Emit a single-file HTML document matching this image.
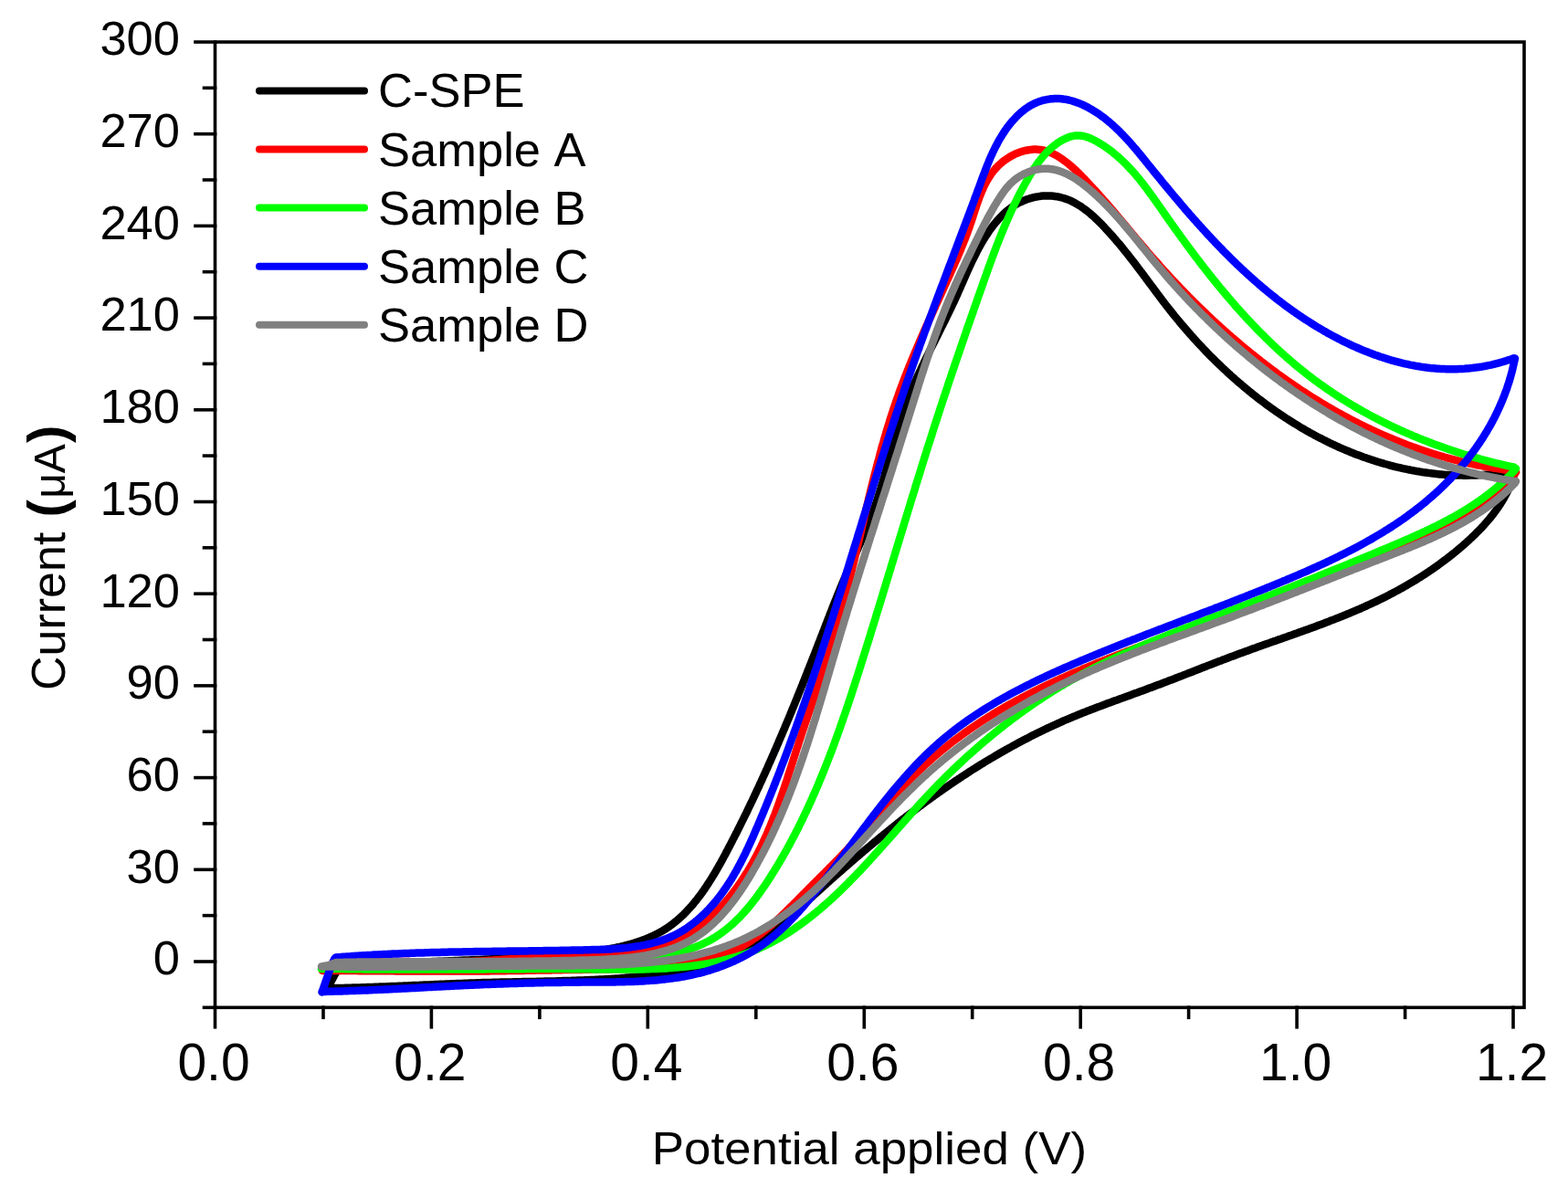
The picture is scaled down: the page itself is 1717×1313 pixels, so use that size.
<!DOCTYPE html><html><head><meta charset="utf-8"><title>Cyclic voltammetry</title><style>
html,body{margin:0;padding:0;background:#fff;}body{width:1717px;height:1313px;overflow:hidden;}
svg{display:block;} text{font-family:"Liberation Sans",Arial,sans-serif;fill:#000;font-kerning:none;}
</style></head><body>
<svg width="1717" height="1313" viewBox="0 0 1717 1313">
<rect width="1717" height="1313" fill="#fff"/>
<path d="M358.0 1082.5 L359.2 1080.7 L360.4 1078.8 L361.5 1076.9 L362.5 1074.9 L363.6 1072.9 L364.6 1071.0 L365.6 1069.0 L366.7 1067.1 L367.9 1065.2 L369.1 1063.4 L370.5 1061.6 L372.0 1060.0 L373.2 1059.7 L375.3 1059.5 L377.4 1059.3 L379.5 1059.1 L381.5 1058.9 L383.6 1058.7 L385.7 1058.6 L387.7 1058.4 L389.8 1058.2 L391.8 1058.0 L393.9 1057.9 L396.0 1057.7 L398.0 1057.6 L400.0 1057.4 L402.1 1057.3 L404.1 1057.1 L406.2 1057.0 L408.2 1056.8 L410.2 1056.7 L412.3 1056.5 L414.3 1056.4 L416.3 1056.3 L418.3 1056.1 L420.3 1056.0 L422.4 1055.9 L424.4 1055.7 L426.4 1055.6 L428.4 1055.5 L430.4 1055.4 L432.4 1055.3 L434.4 1055.1 L436.4 1055.0 L438.4 1054.9 L440.4 1054.8 L442.4 1054.7 L444.4 1054.6 L446.4 1054.5 L448.4 1054.4 L450.4 1054.3 L452.4 1054.2 L454.4 1054.1 L456.4 1054.0 L458.4 1053.9 L460.3 1053.8 L462.3 1053.7 L464.3 1053.6 L466.3 1053.5 L468.3 1053.4 L470.2 1053.3 L472.2 1053.2 L474.2 1053.1 L476.2 1053.0 L478.1 1052.9 L480.1 1052.8 L482.1 1052.8 L484.1 1052.7 L486.0 1052.6 L488.0 1052.5 L490.0 1052.4 L492.0 1052.3 L493.9 1052.2 L495.9 1052.2 L497.9 1052.1 L499.8 1052.0 L501.8 1051.9 L503.8 1051.8 L505.7 1051.7 L507.7 1051.6 L509.7 1051.6 L511.7 1051.5 L513.6 1051.4 L515.6 1051.3 L517.6 1051.2 L519.5 1051.1 L521.5 1051.0 L523.5 1050.9 L525.4 1050.9 L527.4 1050.8 L529.4 1050.7 L531.4 1050.6 L533.3 1050.5 L535.3 1050.4 L537.3 1050.3 L539.3 1050.2 L541.2 1050.1 L543.2 1050.0 L545.2 1049.9 L547.2 1049.8 L549.2 1049.7 L551.1 1049.6 L553.1 1049.5 L555.1 1049.4 L557.1 1049.3 L559.1 1049.2 L561.1 1049.1 L563.1 1049.0 L565.0 1048.9 L567.0 1048.8 L569.0 1048.6 L571.0 1048.5 L573.0 1048.4 L575.0 1048.3 L577.0 1048.2 L579.0 1048.0 L581.0 1047.9 L583.0 1047.8 L585.0 1047.6 L587.1 1047.5 L589.1 1047.4 L591.1 1047.2 L593.1 1047.1 L595.1 1046.9 L597.1 1046.8 L599.2 1046.7 L601.2 1046.5 L603.2 1046.3 L605.2 1046.2 L607.3 1046.0 L609.3 1045.9 L611.3 1045.7 L613.4 1045.5 L615.4 1045.4 L617.5 1045.2 L619.5 1045.0 L621.6 1044.8 L623.6 1044.6 L625.7 1044.5 L627.8 1044.3 L629.8 1044.1 L631.9 1043.9 L633.9 1043.7 L636.0 1043.4 L638.1 1043.2 L640.1 1043.0 L642.2 1042.8 L644.2 1042.5 L646.3 1042.3 L648.4 1042.0 L650.4 1041.7 L652.5 1041.5 L654.5 1041.2 L656.6 1040.9 L658.6 1040.6 L660.6 1040.2 L662.7 1039.9 L664.7 1039.6 L666.7 1039.2 L668.7 1038.8 L670.7 1038.5 L672.7 1038.1 L674.7 1037.7 L676.7 1037.2 L678.7 1036.8 L680.7 1036.3 L682.6 1035.9 L684.6 1035.4 L686.5 1034.9 L688.5 1034.4 L690.4 1033.8 L692.3 1033.3 L694.2 1032.7 L696.1 1032.1 L698.0 1031.5 L699.8 1030.9 L701.7 1030.2 L703.5 1029.6 L705.4 1028.9 L707.2 1028.2 L709.0 1027.4 L710.8 1026.7 L712.6 1025.9 L714.3 1025.1 L716.1 1024.3 L717.8 1023.4 L719.5 1022.6 L721.2 1021.7 L722.9 1020.8 L724.5 1019.8 L726.2 1018.8 L727.8 1017.8 L729.4 1016.8 L731.0 1015.8 L732.6 1014.7 L734.1 1013.6 L735.6 1012.5 L737.2 1011.3 L738.7 1010.1 L740.1 1008.9 L741.6 1007.7 L743.0 1006.5 L744.5 1005.2 L745.9 1003.9 L747.3 1002.6 L748.7 1001.3 L750.0 999.9 L751.4 998.5 L752.7 997.1 L754.0 995.7 L755.3 994.3 L756.6 992.8 L757.9 991.4 L759.2 989.9 L760.4 988.4 L761.7 986.8 L762.9 985.3 L764.1 983.7 L765.3 982.2 L766.5 980.6 L767.7 979.0 L768.9 977.4 L770.0 975.7 L771.2 974.1 L772.3 972.4 L773.4 970.8 L774.5 969.1 L775.6 967.4 L776.7 965.7 L777.8 964.0 L778.9 962.3 L779.9 960.6 L781.0 958.8 L782.1 957.1 L783.1 955.3 L784.1 953.6 L785.2 951.8 L786.2 950.0 L787.2 948.2 L788.2 946.5 L789.2 944.7 L790.2 942.9 L791.2 941.1 L792.1 939.3 L793.1 937.5 L794.1 935.7 L795.1 933.8 L796.0 932.0 L797.0 930.2 L797.9 928.4 L798.9 926.6 L799.8 924.8 L800.8 923.0 L801.7 921.1 L802.6 919.3 L803.6 917.5 L804.5 915.7 L805.4 913.9 L806.4 912.1 L807.3 910.3 L808.2 908.4 L809.1 906.6 L810.0 904.8 L810.9 903.0 L811.8 901.2 L812.7 899.4 L813.6 897.6 L814.5 895.7 L815.4 893.9 L816.3 892.1 L817.2 890.3 L818.1 888.5 L818.9 886.7 L819.8 884.9 L820.7 883.0 L821.6 881.2 L822.4 879.4 L823.3 877.6 L824.2 875.8 L825.0 874.0 L825.9 872.1 L826.7 870.3 L827.6 868.5 L828.4 866.7 L829.3 864.9 L830.1 863.1 L831.0 861.3 L831.8 859.4 L832.6 857.6 L833.5 855.8 L834.3 854.0 L835.1 852.2 L836.0 850.3 L836.8 848.5 L837.6 846.7 L838.4 844.9 L839.2 843.1 L840.1 841.3 L840.9 839.4 L841.7 837.6 L842.5 835.8 L843.3 834.0 L844.1 832.2 L844.9 830.3 L845.7 828.5 L846.5 826.7 L847.3 824.9 L848.1 823.0 L848.9 821.2 L849.7 819.4 L850.5 817.6 L851.3 815.7 L852.1 813.9 L852.8 812.1 L853.6 810.3 L854.4 808.4 L855.2 806.6 L856.0 804.8 L856.7 803.0 L857.5 801.1 L858.3 799.3 L859.1 797.5 L859.8 795.6 L860.6 793.8 L861.4 792.0 L862.1 790.2 L862.9 788.3 L863.7 786.5 L864.4 784.7 L865.2 782.8 L865.9 781.0 L866.7 779.2 L867.4 777.3 L868.2 775.5 L869.0 773.6 L869.7 771.8 L870.5 770.0 L871.2 768.1 L872.0 766.3 L872.7 764.4 L873.5 762.6 L874.2 760.8 L874.9 758.9 L875.7 757.1 L876.4 755.2 L877.2 753.4 L877.9 751.5 L878.7 749.7 L879.4 747.8 L880.1 746.0 L880.9 744.2 L881.6 742.3 L882.3 740.5 L883.1 738.6 L883.8 736.7 L884.5 734.9 L885.3 733.0 L886.0 731.2 L886.7 729.3 L887.5 727.5 L888.2 725.6 L888.9 723.8 L889.7 721.9 L890.4 720.0 L891.1 718.2 L891.9 716.3 L892.6 714.5 L893.3 712.6 L894.0 710.7 L894.8 708.9 L895.5 707.0 L896.2 705.1 L897.0 703.3 L897.7 701.4 L898.4 699.5 L899.1 697.6 L899.9 695.8 L900.6 693.9 L901.3 692.0 L902.1 690.1 L902.8 688.3 L903.5 686.4 L904.2 684.5 L905.0 682.6 L905.7 680.7 L906.4 678.9 L907.2 677.0 L907.9 675.1 L908.6 673.2 L909.3 671.3 L910.1 669.5 L910.8 667.6 L911.6 665.7 L912.3 663.8 L913.0 661.9 L913.8 660.1 L914.5 658.2 L915.3 656.3 L916.0 654.4 L916.8 652.6 L917.5 650.7 L918.3 648.8 L919.1 647.0 L919.8 645.1 L920.6 643.2 L921.4 641.4 L922.1 639.5 L922.9 637.7 L923.7 635.8 L924.5 634.0 L925.3 632.1 L926.1 630.3 L926.9 628.4 L927.7 626.6 L928.5 624.8 L929.3 623.0 L930.1 621.1 L930.9 619.3 L931.8 617.5 L932.6 615.7 L933.4 613.8 L934.2 612.0 L935.1 610.2 L935.9 608.4 L936.7 606.6 L937.5 604.8 L938.4 603.0 L939.2 601.2 L940.0 599.3 L940.8 597.5 L941.6 595.7 L942.4 593.9 L943.2 592.1 L944.0 590.3 L944.8 588.5 L945.6 586.6 L946.4 584.8 L947.2 583.0 L948.0 581.2 L948.7 579.3 L949.5 577.5 L950.3 575.7 L951.0 573.8 L951.7 572.0 L952.5 570.1 L953.2 568.3 L953.9 566.4 L954.6 564.6 L955.3 562.7 L956.0 560.8 L956.6 558.9 L957.3 557.1 L957.9 555.2 L958.6 553.3 L959.2 551.4 L959.9 549.5 L960.5 547.6 L961.1 545.7 L961.7 543.8 L962.3 541.9 L962.9 540.0 L963.5 538.1 L964.1 536.2 L964.7 534.3 L965.3 532.3 L965.8 530.4 L966.4 528.5 L967.0 526.6 L967.5 524.6 L968.1 522.7 L968.6 520.8 L969.2 518.8 L969.7 516.9 L970.3 515.0 L970.8 513.0 L971.4 511.1 L971.9 509.2 L972.5 507.2 L973.0 505.3 L973.6 503.4 L974.1 501.4 L974.6 499.5 L975.2 497.5 L975.7 495.6 L976.3 493.7 L976.8 491.7 L977.4 489.8 L977.9 487.9 L978.5 485.9 L979.0 484.0 L979.6 482.1 L980.2 480.1 L980.7 478.2 L981.3 476.3 L981.9 474.4 L982.4 472.4 L983.0 470.5 L983.6 468.6 L984.2 466.7 L984.8 464.8 L985.4 462.8 L986.0 460.9 L986.6 459.0 L987.2 457.1 L987.9 455.2 L988.5 453.3 L989.1 451.4 L989.8 449.5 L990.5 447.7 L991.1 445.8 L991.8 443.9 L992.5 442.0 L993.2 440.1 L993.9 438.3 L994.6 436.4 L995.3 434.5 L996.1 432.7 L996.8 430.8 L997.5 429.0 L998.3 427.2 L999.1 425.3 L999.8 423.5 L1000.6 421.6 L1001.4 419.8 L1002.2 418.0 L1003.0 416.2 L1003.8 414.3 L1004.6 412.5 L1005.5 410.7 L1006.3 408.9 L1007.1 407.1 L1008.0 405.3 L1008.8 403.5 L1009.6 401.7 L1010.5 399.9 L1011.4 398.1 L1012.2 396.3 L1013.1 394.5 L1014.0 392.7 L1014.8 390.9 L1015.7 389.1 L1016.6 387.3 L1017.5 385.5 L1018.3 383.7 L1019.2 381.9 L1020.1 380.1 L1021.0 378.4 L1021.9 376.6 L1022.8 374.8 L1023.7 373.0 L1024.6 371.2 L1025.5 369.4 L1026.4 367.7 L1027.3 365.9 L1028.2 364.1 L1029.0 362.3 L1029.9 360.5 L1030.8 358.7 L1031.7 356.9 L1032.6 355.2 L1033.5 353.4 L1034.4 351.6 L1035.3 349.8 L1036.1 348.0 L1037.0 346.2 L1037.9 344.4 L1038.8 342.6 L1039.6 340.8 L1040.5 339.0 L1041.4 337.2 L1042.2 335.4 L1043.1 333.6 L1043.9 331.8 L1044.8 330.0 L1045.6 328.2 L1046.4 326.4 L1047.2 324.6 L1048.1 322.8 L1048.9 320.9 L1049.7 319.1 L1050.5 317.3 L1051.3 315.5 L1052.1 313.6 L1052.9 311.8 L1053.7 310.0 L1054.5 308.2 L1055.3 306.3 L1056.1 304.5 L1056.9 302.7 L1057.7 300.8 L1058.5 299.0 L1059.3 297.2 L1060.2 295.3 L1061.0 293.5 L1061.8 291.7 L1062.7 289.9 L1063.5 288.0 L1064.4 286.2 L1065.3 284.4 L1066.2 282.6 L1067.1 280.8 L1068.0 279.0 L1068.9 277.1 L1069.8 275.3 L1070.8 273.5 L1071.7 271.7 L1072.7 270.0 L1073.7 268.2 L1074.7 266.4 L1075.8 264.6 L1076.8 262.8 L1077.9 261.1 L1079.0 259.3 L1080.1 257.6 L1081.3 255.8 L1082.4 254.1 L1083.6 252.4 L1084.8 250.7 L1086.0 249.1 L1087.3 247.4 L1088.5 245.8 L1089.8 244.2 L1091.2 242.6 L1092.5 241.1 L1093.9 239.5 L1095.2 238.0 L1096.7 236.6 L1098.1 235.2 L1099.5 233.8 L1101.0 232.4 L1102.6 231.1 L1104.1 229.9 L1105.7 228.6 L1107.3 227.4 L1108.9 226.3 L1110.5 225.2 L1112.2 224.2 L1113.9 223.2 L1115.6 222.2 L1117.4 221.3 L1119.2 220.5 L1121.0 219.7 L1122.8 219.0 L1124.6 218.3 L1126.5 217.7 L1128.4 217.1 L1130.2 216.6 L1132.1 216.1 L1134.1 215.7 L1136.0 215.4 L1137.9 215.1 L1139.8 214.8 L1141.8 214.6 L1143.7 214.5 L1145.6 214.4 L1147.6 214.4 L1149.5 214.5 L1151.4 214.6 L1153.4 214.7 L1155.3 215.0 L1157.2 215.2 L1159.1 215.6 L1161.0 216.0 L1162.8 216.5 L1164.7 217.0 L1166.5 217.6 L1168.3 218.2 L1170.1 218.9 L1171.9 219.7 L1173.7 220.5 L1175.4 221.4 L1177.2 222.3 L1178.9 223.3 L1180.6 224.3 L1182.3 225.3 L1184.0 226.4 L1185.6 227.6 L1187.3 228.8 L1188.9 230.0 L1190.5 231.2 L1192.1 232.5 L1193.7 233.8 L1195.3 235.2 L1196.8 236.5 L1198.4 237.9 L1199.9 239.4 L1201.4 240.8 L1202.9 242.3 L1204.4 243.7 L1205.9 245.2 L1207.3 246.7 L1208.8 248.2 L1210.2 249.8 L1211.6 251.3 L1213.0 252.8 L1214.4 254.4 L1215.8 255.9 L1217.2 257.5 L1218.6 259.0 L1219.9 260.6 L1221.3 262.1 L1222.6 263.7 L1223.9 265.2 L1225.3 266.8 L1226.6 268.4 L1227.9 269.9 L1229.2 271.5 L1230.4 273.1 L1231.7 274.7 L1233.0 276.2 L1234.2 277.8 L1235.5 279.4 L1236.7 281.0 L1238.0 282.6 L1239.2 284.2 L1240.4 285.7 L1241.7 287.3 L1242.9 288.9 L1244.1 290.5 L1245.3 292.1 L1246.5 293.7 L1247.7 295.3 L1248.9 296.9 L1250.1 298.4 L1251.3 300.0 L1252.5 301.6 L1253.7 303.2 L1254.8 304.8 L1256.0 306.4 L1257.2 308.0 L1258.4 309.6 L1259.6 311.2 L1260.8 312.8 L1261.9 314.3 L1263.1 315.9 L1264.3 317.5 L1265.5 319.1 L1266.7 320.7 L1267.8 322.2 L1269.0 323.8 L1270.2 325.4 L1271.4 327.0 L1272.6 328.6 L1273.8 330.1 L1275.0 331.7 L1276.2 333.3 L1277.4 334.8 L1278.6 336.4 L1279.8 337.9 L1281.1 339.5 L1282.3 341.0 L1283.5 342.6 L1284.8 344.1 L1286.0 345.7 L1287.3 347.2 L1288.5 348.8 L1289.8 350.3 L1291.1 351.8 L1292.3 353.4 L1293.6 354.9 L1294.9 356.4 L1296.2 357.9 L1297.5 359.4 L1298.8 360.9 L1300.1 362.4 L1301.4 363.9 L1302.7 365.4 L1304.0 366.9 L1305.4 368.4 L1306.7 369.9 L1308.0 371.4 L1309.4 372.9 L1310.7 374.3 L1312.1 375.8 L1313.5 377.3 L1314.8 378.7 L1316.2 380.2 L1317.6 381.7 L1319.0 383.1 L1320.3 384.5 L1321.7 386.0 L1323.1 387.4 L1324.5 388.9 L1325.9 390.3 L1327.4 391.7 L1328.8 393.1 L1330.2 394.5 L1331.6 395.9 L1333.1 397.3 L1334.5 398.7 L1336.0 400.1 L1337.4 401.5 L1338.9 402.9 L1340.3 404.3 L1341.8 405.6 L1343.3 407.0 L1344.7 408.4 L1346.2 409.7 L1347.7 411.1 L1349.2 412.4 L1350.7 413.7 L1352.2 415.1 L1353.7 416.4 L1355.2 417.7 L1356.7 419.0 L1358.3 420.3 L1359.8 421.6 L1361.3 422.9 L1362.9 424.2 L1364.4 425.5 L1366.0 426.8 L1367.5 428.1 L1369.1 429.3 L1370.6 430.6 L1372.2 431.9 L1373.8 433.1 L1375.3 434.3 L1376.9 435.6 L1378.5 436.8 L1380.1 438.0 L1381.7 439.2 L1383.3 440.4 L1384.9 441.6 L1386.5 442.8 L1388.1 444.0 L1389.8 445.2 L1391.4 446.4 L1393.0 447.5 L1394.7 448.7 L1396.3 449.9 L1397.9 451.0 L1399.6 452.1 L1401.3 453.3 L1402.9 454.4 L1404.6 455.5 L1406.2 456.6 L1407.9 457.7 L1409.6 458.8 L1411.3 459.9 L1413.0 461.0 L1414.7 462.0 L1416.4 463.1 L1418.1 464.2 L1419.8 465.2 L1421.5 466.2 L1423.2 467.3 L1424.9 468.3 L1426.6 469.3 L1428.4 470.3 L1430.1 471.3 L1431.8 472.3 L1433.6 473.3 L1435.3 474.3 L1437.1 475.2 L1438.8 476.2 L1440.6 477.1 L1442.4 478.1 L1444.1 479.0 L1445.9 479.9 L1447.7 480.8 L1449.5 481.7 L1451.3 482.6 L1453.0 483.5 L1454.8 484.4 L1456.6 485.3 L1458.4 486.1 L1460.3 487.0 L1462.1 487.8 L1463.9 488.7 L1465.7 489.5 L1467.5 490.3 L1469.4 491.1 L1471.2 491.9 L1473.0 492.7 L1474.9 493.4 L1476.7 494.2 L1478.6 495.0 L1480.4 495.7 L1482.3 496.5 L1484.1 497.2 L1486.0 497.9 L1487.9 498.6 L1489.8 499.3 L1491.6 500.0 L1493.5 500.7 L1495.4 501.3 L1497.3 502.0 L1499.2 502.6 L1501.1 503.3 L1503.0 503.9 L1504.9 504.5 L1506.8 505.1 L1508.7 505.7 L1510.6 506.3 L1512.5 506.9 L1514.4 507.4 L1516.3 508.0 L1518.2 508.5 L1520.2 509.0 L1522.1 509.6 L1524.0 510.1 L1525.9 510.6 L1527.9 511.1 L1529.8 511.5 L1531.8 512.0 L1533.7 512.4 L1535.6 512.9 L1537.6 513.3 L1539.5 513.7 L1541.5 514.1 L1543.4 514.5 L1545.4 514.9 L1547.4 515.3 L1549.3 515.6 L1551.3 516.0 L1553.2 516.3 L1555.2 516.6 L1557.2 517.0 L1559.2 517.3 L1561.1 517.5 L1563.1 517.8 L1565.1 518.1 L1567.1 518.3 L1569.0 518.6 L1571.0 518.8 L1573.0 519.0 L1575.0 519.2 L1577.0 519.4 L1579.0 519.6 L1581.0 519.7 L1583.0 519.9 L1584.9 520.0 L1586.9 520.1 L1588.9 520.3 L1590.9 520.3 L1592.9 520.4 L1594.9 520.5 L1596.9 520.6 L1598.9 520.6 L1600.9 520.6 L1602.9 520.7 L1604.9 520.7 L1606.9 520.7 L1609.0 520.6 L1611.0 520.6 L1613.0 520.6 L1615.0 520.5 L1617.0 520.4 L1619.0 520.3 L1621.0 520.2 L1623.0 520.1 L1625.0 520.0 L1627.0 519.8 L1629.1 519.7 L1631.1 519.5 L1633.1 519.3 L1635.1 519.1 L1637.1 518.9 L1639.1 518.7 L1641.1 518.4 L1643.1 518.2 L1645.2 517.9 L1647.2 517.6 L1649.2 517.3 L1651.2 517.0 L1653.2 516.7 L1655.2 516.3 L1657.2 516.0 L1659.0 516.2 L1658.5 518.2 L1657.9 520.1 L1657.3 522.1 L1656.6 524.0 L1656.0 525.9 L1655.3 527.7 L1654.5 529.6 L1653.8 531.4 L1653.0 533.3 L1652.2 535.1 L1651.3 536.9 L1650.5 538.6 L1649.6 540.4 L1648.7 542.1 L1647.7 543.9 L1646.8 545.6 L1645.8 547.3 L1644.8 548.9 L1643.7 550.6 L1642.7 552.3 L1641.6 553.9 L1640.5 555.5 L1639.4 557.1 L1638.3 558.7 L1637.1 560.3 L1635.9 561.9 L1634.8 563.4 L1633.5 565.0 L1632.3 566.5 L1631.1 568.0 L1629.8 569.5 L1628.5 571.0 L1627.2 572.5 L1625.9 574.0 L1624.6 575.5 L1623.2 576.9 L1621.9 578.4 L1620.5 579.8 L1619.1 581.2 L1617.7 582.6 L1616.3 584.0 L1614.9 585.4 L1613.5 586.8 L1612.0 588.2 L1610.6 589.6 L1609.1 590.9 L1607.7 592.3 L1606.2 593.6 L1604.7 595.0 L1603.2 596.3 L1601.7 597.6 L1600.2 598.9 L1598.6 600.2 L1597.1 601.5 L1595.6 602.8 L1594.0 604.1 L1592.5 605.4 L1590.9 606.6 L1589.3 607.9 L1587.7 609.1 L1586.1 610.4 L1584.6 611.6 L1582.9 612.8 L1581.3 614.0 L1579.7 615.2 L1578.1 616.4 L1576.5 617.6 L1574.8 618.8 L1573.2 620.0 L1571.5 621.1 L1569.9 622.3 L1568.2 623.5 L1566.5 624.6 L1564.9 625.7 L1563.2 626.9 L1561.5 628.0 L1559.8 629.1 L1558.1 630.2 L1556.4 631.3 L1554.7 632.4 L1553.0 633.4 L1551.3 634.5 L1549.5 635.6 L1547.8 636.6 L1546.1 637.6 L1544.3 638.7 L1542.6 639.7 L1540.9 640.7 L1539.1 641.7 L1537.4 642.7 L1535.6 643.7 L1533.8 644.7 L1532.1 645.7 L1530.3 646.6 L1528.5 647.6 L1526.8 648.5 L1525.0 649.5 L1523.2 650.4 L1521.4 651.3 L1519.7 652.3 L1517.9 653.2 L1516.1 654.1 L1514.3 655.0 L1512.5 655.8 L1510.7 656.7 L1508.9 657.6 L1507.1 658.5 L1505.3 659.3 L1503.5 660.2 L1501.7 661.0 L1499.8 661.9 L1498.0 662.7 L1496.2 663.5 L1494.4 664.3 L1492.6 665.1 L1490.7 666.0 L1488.9 666.8 L1487.1 667.6 L1485.2 668.3 L1483.4 669.1 L1481.6 669.9 L1479.7 670.7 L1477.9 671.5 L1476.0 672.2 L1474.2 673.0 L1472.4 673.7 L1470.5 674.5 L1468.7 675.2 L1466.8 676.0 L1464.9 676.7 L1463.1 677.4 L1461.2 678.2 L1459.4 678.9 L1457.5 679.6 L1455.7 680.3 L1453.8 681.1 L1451.9 681.8 L1450.1 682.5 L1448.2 683.2 L1446.3 683.9 L1444.4 684.6 L1442.6 685.3 L1440.7 686.0 L1438.8 686.7 L1437.0 687.4 L1435.1 688.0 L1433.2 688.7 L1431.3 689.4 L1429.4 690.1 L1427.6 690.8 L1425.7 691.4 L1423.8 692.1 L1421.9 692.8 L1420.0 693.5 L1418.2 694.1 L1416.3 694.8 L1414.4 695.5 L1412.5 696.1 L1410.6 696.8 L1408.7 697.5 L1406.8 698.1 L1405.0 698.8 L1403.1 699.5 L1401.2 700.1 L1399.3 700.8 L1397.4 701.5 L1395.5 702.1 L1393.6 702.8 L1391.7 703.4 L1389.9 704.1 L1388.0 704.8 L1386.1 705.4 L1384.2 706.1 L1382.3 706.8 L1380.4 707.4 L1378.5 708.1 L1376.7 708.8 L1374.8 709.5 L1372.9 710.1 L1371.0 710.8 L1369.1 711.5 L1367.2 712.2 L1365.3 712.9 L1363.5 713.5 L1361.6 714.2 L1359.7 714.9 L1357.8 715.6 L1355.9 716.3 L1354.0 717.0 L1352.2 717.7 L1350.3 718.4 L1348.4 719.1 L1346.5 719.8 L1344.7 720.5 L1342.8 721.2 L1340.9 721.9 L1339.0 722.6 L1337.2 723.4 L1335.3 724.1 L1333.4 724.8 L1331.5 725.5 L1329.7 726.2 L1327.8 727.0 L1325.9 727.7 L1324.1 728.4 L1322.2 729.1 L1320.3 729.9 L1318.4 730.6 L1316.6 731.3 L1314.7 732.0 L1312.8 732.8 L1311.0 733.5 L1309.1 734.2 L1307.2 735.0 L1305.4 735.7 L1303.5 736.4 L1301.6 737.1 L1299.7 737.9 L1297.9 738.6 L1296.0 739.3 L1294.1 740.1 L1292.3 740.8 L1290.4 741.5 L1288.5 742.2 L1286.7 743.0 L1284.8 743.7 L1282.9 744.4 L1281.0 745.1 L1279.2 745.8 L1277.3 746.6 L1275.4 747.3 L1273.5 748.0 L1271.7 748.7 L1269.8 749.4 L1267.9 750.1 L1266.0 750.8 L1264.2 751.5 L1262.3 752.2 L1260.4 752.9 L1258.5 753.6 L1256.7 754.3 L1254.8 755.0 L1252.9 755.7 L1251.0 756.4 L1249.1 757.1 L1247.3 757.8 L1245.4 758.5 L1243.5 759.1 L1241.6 759.8 L1239.7 760.5 L1237.9 761.2 L1236.0 761.9 L1234.1 762.6 L1232.2 763.2 L1230.3 763.9 L1228.5 764.6 L1226.6 765.3 L1224.7 766.0 L1222.8 766.7 L1220.9 767.3 L1219.1 768.0 L1217.2 768.7 L1215.3 769.4 L1213.4 770.1 L1211.6 770.8 L1209.7 771.5 L1207.8 772.2 L1205.9 772.9 L1204.1 773.6 L1202.2 774.3 L1200.3 775.0 L1198.5 775.7 L1196.6 776.4 L1194.7 777.1 L1192.9 777.9 L1191.0 778.6 L1189.2 779.3 L1187.3 780.1 L1185.4 780.8 L1183.6 781.5 L1181.7 782.3 L1179.9 783.0 L1178.0 783.8 L1176.2 784.6 L1174.3 785.3 L1172.5 786.1 L1170.7 786.9 L1168.8 787.7 L1167.0 788.4 L1165.1 789.2 L1163.3 790.0 L1161.5 790.8 L1159.7 791.7 L1157.8 792.5 L1156.0 793.3 L1154.2 794.1 L1152.4 795.0 L1150.5 795.8 L1148.7 796.7 L1146.9 797.5 L1145.1 798.4 L1143.3 799.2 L1141.5 800.1 L1139.7 801.0 L1137.9 801.9 L1136.1 802.7 L1134.3 803.6 L1132.5 804.5 L1130.7 805.4 L1128.9 806.3 L1127.2 807.2 L1125.4 808.2 L1123.6 809.1 L1121.8 810.0 L1120.0 810.9 L1118.3 811.9 L1116.5 812.8 L1114.7 813.8 L1113.0 814.7 L1111.2 815.7 L1109.4 816.6 L1107.7 817.6 L1105.9 818.6 L1104.2 819.6 L1102.4 820.5 L1100.7 821.5 L1098.9 822.5 L1097.2 823.5 L1095.4 824.5 L1093.7 825.5 L1092.0 826.5 L1090.2 827.5 L1088.5 828.6 L1086.8 829.6 L1085.0 830.6 L1083.3 831.6 L1081.6 832.7 L1079.9 833.7 L1078.2 834.7 L1076.4 835.8 L1074.7 836.8 L1073.0 837.9 L1071.3 839.0 L1069.6 840.0 L1067.9 841.1 L1066.2 842.2 L1064.5 843.2 L1062.8 844.3 L1061.1 845.4 L1059.5 846.5 L1057.8 847.6 L1056.1 848.7 L1054.4 849.8 L1052.7 850.9 L1051.1 852.0 L1049.4 853.1 L1047.7 854.2 L1046.1 855.3 L1044.4 856.5 L1042.7 857.6 L1041.1 858.7 L1039.4 859.8 L1037.8 861.0 L1036.1 862.1 L1034.5 863.3 L1032.8 864.4 L1031.2 865.6 L1029.6 866.7 L1027.9 867.9 L1026.3 869.0 L1024.7 870.2 L1023.0 871.3 L1021.4 872.5 L1019.8 873.7 L1018.2 874.9 L1016.6 876.0 L1014.9 877.2 L1013.3 878.4 L1011.7 879.6 L1010.1 880.8 L1008.5 882.0 L1006.9 883.2 L1005.3 884.4 L1003.7 885.6 L1002.1 886.8 L1000.5 888.0 L999.0 889.2 L997.4 890.4 L995.8 891.6 L994.2 892.8 L992.6 894.0 L991.1 895.3 L989.5 896.5 L987.9 897.7 L986.3 898.9 L984.8 900.2 L983.2 901.4 L981.6 902.7 L980.1 903.9 L978.5 905.1 L977.0 906.4 L975.4 907.6 L973.9 908.9 L972.3 910.1 L970.8 911.4 L969.2 912.7 L967.7 913.9 L966.1 915.2 L964.6 916.4 L963.0 917.7 L961.5 919.0 L960.0 920.3 L958.4 921.5 L956.9 922.8 L955.4 924.1 L953.8 925.4 L952.3 926.7 L950.8 927.9 L949.2 929.2 L947.7 930.5 L946.2 931.8 L944.7 933.1 L943.1 934.4 L941.6 935.7 L940.1 937.0 L938.6 938.3 L937.1 939.6 L935.6 940.9 L934.0 942.2 L932.5 943.5 L931.0 944.8 L929.5 946.2 L928.0 947.5 L926.5 948.8 L925.0 950.1 L923.5 951.4 L922.0 952.8 L920.5 954.1 L918.9 955.4 L917.4 956.7 L915.9 958.1 L914.4 959.4 L912.9 960.7 L911.4 962.1 L909.9 963.4 L908.4 964.7 L906.9 966.1 L905.4 967.4 L903.9 968.8 L902.4 970.1 L900.9 971.5 L899.4 972.8 L897.9 974.2 L896.4 975.5 L894.9 976.9 L893.4 978.2 L891.9 979.6 L890.4 980.9 L888.9 982.3 L887.4 983.6 L885.9 985.0 L884.5 986.4 L883.0 987.7 L881.5 989.1 L880.0 990.4 L878.5 991.8 L877.0 993.2 L875.5 994.5 L874.0 995.9 L872.5 997.2 L871.0 998.6 L869.4 999.9 L867.9 1001.3 L866.4 1002.6 L864.9 1004.0 L863.4 1005.3 L861.9 1006.6 L860.3 1007.9 L858.8 1009.3 L857.3 1010.6 L855.7 1011.9 L854.2 1013.2 L852.7 1014.4 L851.1 1015.7 L849.6 1017.0 L848.0 1018.2 L846.4 1019.5 L844.9 1020.7 L843.3 1021.9 L841.7 1023.1 L840.1 1024.3 L838.5 1025.5 L836.9 1026.7 L835.3 1027.9 L833.7 1029.0 L832.1 1030.1 L830.5 1031.2 L828.8 1032.3 L827.2 1033.4 L825.5 1034.5 L823.9 1035.5 L822.2 1036.6 L820.5 1037.6 L818.9 1038.6 L817.2 1039.6 L815.5 1040.5 L813.7 1041.5 L812.0 1042.4 L810.3 1043.3 L808.5 1044.2 L806.8 1045.0 L805.0 1045.9 L803.3 1046.7 L801.5 1047.5 L799.7 1048.3 L797.9 1049.0 L796.1 1049.8 L794.3 1050.5 L792.4 1051.2 L790.6 1051.9 L788.8 1052.5 L786.9 1053.2 L785.0 1053.8 L783.2 1054.4 L781.3 1055.0 L779.4 1055.6 L777.5 1056.2 L775.7 1056.7 L773.8 1057.3 L771.8 1057.8 L769.9 1058.3 L768.0 1058.8 L766.1 1059.3 L764.2 1059.8 L762.2 1060.2 L760.3 1060.7 L758.4 1061.1 L756.4 1061.5 L754.5 1061.9 L752.5 1062.3 L750.5 1062.7 L748.6 1063.1 L746.6 1063.4 L744.6 1063.8 L742.7 1064.1 L740.7 1064.4 L738.7 1064.8 L736.7 1065.1 L734.7 1065.4 L732.7 1065.7 L730.7 1065.9 L728.8 1066.2 L726.8 1066.5 L724.8 1066.8 L722.8 1067.0 L720.8 1067.3 L718.8 1067.5 L716.8 1067.7 L714.8 1068.0 L712.8 1068.2 L710.8 1068.4 L708.8 1068.6 L706.8 1068.8 L704.8 1069.0 L702.7 1069.2 L700.7 1069.4 L698.7 1069.6 L696.7 1069.8 L694.7 1070.0 L692.7 1070.2 L690.7 1070.3 L688.7 1070.5 L686.7 1070.6 L684.7 1070.8 L682.7 1071.0 L680.7 1071.1 L678.7 1071.3 L676.7 1071.4 L674.7 1071.5 L672.7 1071.7 L670.7 1071.8 L668.7 1071.9 L666.7 1072.0 L664.7 1072.2 L662.6 1072.3 L660.6 1072.4 L658.6 1072.5 L656.6 1072.6 L654.6 1072.7 L652.6 1072.8 L650.6 1072.9 L648.6 1073.0 L646.6 1073.1 L644.6 1073.2 L642.6 1073.3 L640.6 1073.3 L638.6 1073.4 L636.5 1073.5 L634.5 1073.6 L632.5 1073.6 L630.5 1073.7 L628.5 1073.8 L626.5 1073.8 L624.5 1073.9 L622.5 1074.0 L620.5 1074.0 L618.5 1074.1 L616.5 1074.1 L614.5 1074.2 L612.4 1074.3 L610.4 1074.3 L608.4 1074.4 L606.4 1074.4 L604.4 1074.5 L602.4 1074.5 L600.4 1074.6 L598.4 1074.6 L596.4 1074.6 L594.4 1074.7 L592.4 1074.7 L590.4 1074.8 L588.3 1074.8 L586.3 1074.9 L584.3 1074.9 L582.3 1074.9 L580.3 1075.0 L578.3 1075.0 L576.3 1075.1 L574.3 1075.1 L572.3 1075.1 L570.3 1075.2 L568.3 1075.2 L566.3 1075.2 L564.3 1075.3 L562.3 1075.3 L560.2 1075.4 L558.2 1075.4 L556.2 1075.5 L554.2 1075.5 L552.2 1075.5 L550.2 1075.6 L548.2 1075.6 L546.2 1075.7 L544.2 1075.7 L542.2 1075.8 L540.2 1075.8 L538.2 1075.9 L536.2 1075.9 L534.2 1076.0 L532.2 1076.0 L530.2 1076.1 L528.2 1076.1 L526.2 1076.2 L524.2 1076.3 L522.2 1076.3 L520.2 1076.4 L518.2 1076.5 L516.2 1076.5 L514.2 1076.6 L512.2 1076.7 L510.2 1076.7 L508.2 1076.8 L506.2 1076.9 L504.2 1077.0 L502.2 1077.0 L500.2 1077.1 L498.2 1077.2 L496.2 1077.3 L494.2 1077.3 L492.2 1077.4 L490.2 1077.5 L488.2 1077.6 L486.2 1077.7 L484.2 1077.8 L482.2 1077.8 L480.2 1077.9 L478.2 1078.0 L476.2 1078.1 L474.2 1078.2 L472.2 1078.3 L470.2 1078.4 L468.2 1078.4 L466.2 1078.5 L464.2 1078.6 L462.2 1078.7 L460.2 1078.8 L458.2 1078.9 L456.2 1079.0 L454.2 1079.0 L452.2 1079.1 L450.2 1079.2 L448.2 1079.3 L446.2 1079.4 L444.2 1079.5 L442.2 1079.6 L440.2 1079.7 L438.2 1079.7 L436.2 1079.8 L434.2 1079.9 L432.2 1080.0 L430.2 1080.1 L428.2 1080.1 L426.2 1080.2 L424.2 1080.3 L422.2 1080.4 L420.2 1080.5 L418.2 1080.5 L416.2 1080.6 L414.2 1080.7 L412.2 1080.8 L410.2 1080.8 L408.2 1080.9 L406.2 1081.0 L404.1 1081.1 L402.1 1081.1 L400.1 1081.2 L398.1 1081.3 L396.1 1081.3 L394.1 1081.4 L392.1 1081.4 L390.1 1081.5 L388.1 1081.6 L386.1 1081.6 L384.1 1081.7 L382.1 1081.7 L380.1 1081.8 L378.0 1081.8 L376.0 1081.9 L374.0 1081.9 L372.0 1082.0 L370.0 1082.0 L368.0 1082.0 L366.0 1082.1 L364.0 1082.1 L361.9 1082.1 L359.9 1082.2 L358.0 1082.5" fill="none" stroke="#000" stroke-width="8.5" stroke-linejoin="round" stroke-linecap="round"/>
<path d="M353.0 1063.0 L354.8 1061.4 L356.6 1060.9 L358.5 1060.3 L360.3 1059.8 L362.2 1059.3 L364.1 1058.8 L366.0 1058.4 L367.9 1058.0 L369.8 1057.6 L371.7 1057.2 L373.6 1056.8 L375.6 1056.5 L377.5 1056.2 L379.4 1055.8 L381.4 1055.6 L383.3 1055.3 L385.3 1055.0 L387.2 1054.8 L389.2 1054.6 L391.2 1054.4 L393.2 1054.2 L395.1 1054.0 L397.1 1053.8 L399.1 1053.7 L401.1 1053.6 L403.1 1053.4 L405.1 1053.3 L407.1 1053.2 L409.1 1053.2 L411.1 1053.1 L413.2 1053.0 L415.2 1053.0 L417.2 1052.9 L419.2 1052.9 L421.2 1052.9 L423.3 1052.9 L425.3 1052.8 L427.3 1052.8 L429.4 1052.8 L431.4 1052.9 L433.4 1052.9 L435.5 1052.9 L437.5 1052.9 L439.6 1053.0 L441.6 1053.0 L443.6 1053.0 L445.7 1053.1 L447.7 1053.1 L449.8 1053.2 L451.8 1053.2 L453.8 1053.2 L455.9 1053.3 L457.9 1053.3 L460.0 1053.4 L462.0 1053.4 L464.0 1053.5 L466.1 1053.5 L468.1 1053.5 L470.1 1053.6 L472.1 1053.6 L474.2 1053.6 L476.2 1053.7 L478.2 1053.7 L480.2 1053.7 L482.2 1053.7 L484.2 1053.7 L486.2 1053.7 L488.2 1053.7 L490.2 1053.7 L492.2 1053.6 L494.2 1053.6 L496.2 1053.6 L498.2 1053.5 L500.2 1053.5 L502.2 1053.4 L504.1 1053.4 L506.1 1053.3 L508.1 1053.2 L510.1 1053.1 L512.0 1053.1 L514.0 1053.0 L516.0 1052.9 L517.9 1052.8 L519.9 1052.7 L521.8 1052.6 L523.8 1052.5 L525.8 1052.4 L527.7 1052.3 L529.7 1052.2 L531.6 1052.1 L533.6 1051.9 L535.6 1051.8 L537.5 1051.7 L539.5 1051.6 L541.4 1051.4 L543.4 1051.3 L545.3 1051.2 L547.3 1051.1 L549.2 1050.9 L551.2 1050.8 L553.2 1050.7 L555.1 1050.5 L557.1 1050.4 L559.0 1050.2 L561.0 1050.1 L563.0 1050.0 L564.9 1049.8 L566.9 1049.7 L568.9 1049.6 L570.8 1049.4 L572.8 1049.3 L574.8 1049.2 L576.8 1049.0 L578.7 1048.9 L580.7 1048.8 L582.7 1048.7 L584.7 1048.5 L586.7 1048.4 L588.7 1048.3 L590.7 1048.2 L592.7 1048.1 L594.7 1047.9 L596.7 1047.8 L598.7 1047.7 L600.7 1047.6 L602.7 1047.5 L604.7 1047.4 L606.7 1047.3 L608.8 1047.3 L610.8 1047.2 L612.8 1047.1 L614.9 1047.0 L616.9 1046.9 L619.0 1046.9 L621.0 1046.8 L623.1 1046.7 L625.1 1046.7 L627.2 1046.6 L629.3 1046.6 L631.3 1046.5 L633.4 1046.4 L635.4 1046.4 L637.5 1046.3 L639.6 1046.2 L641.6 1046.2 L643.7 1046.1 L645.8 1046.0 L647.9 1045.9 L649.9 1045.8 L652.0 1045.8 L654.1 1045.7 L656.1 1045.6 L658.2 1045.5 L660.2 1045.3 L662.3 1045.2 L664.4 1045.1 L666.4 1045.0 L668.5 1044.8 L670.5 1044.7 L672.6 1044.5 L674.6 1044.3 L676.6 1044.2 L678.7 1044.0 L680.7 1043.8 L682.7 1043.6 L684.7 1043.3 L686.8 1043.1 L688.8 1042.8 L690.8 1042.6 L692.8 1042.3 L694.8 1042.0 L696.7 1041.7 L698.7 1041.4 L700.7 1041.0 L702.7 1040.7 L704.6 1040.3 L706.6 1039.9 L708.5 1039.5 L710.4 1039.1 L712.4 1038.7 L714.3 1038.2 L716.2 1037.7 L718.1 1037.2 L720.0 1036.7 L721.9 1036.2 L723.7 1035.6 L725.6 1035.0 L727.4 1034.4 L729.3 1033.8 L731.1 1033.2 L732.9 1032.5 L734.7 1031.8 L736.5 1031.1 L738.3 1030.3 L740.1 1029.6 L741.8 1028.8 L743.6 1028.0 L745.3 1027.1 L747.0 1026.2 L748.7 1025.4 L750.4 1024.4 L752.1 1023.5 L753.8 1022.5 L755.4 1021.5 L757.0 1020.5 L758.7 1019.5 L760.3 1018.4 L761.9 1017.3 L763.5 1016.2 L765.0 1015.1 L766.6 1013.9 L768.2 1012.7 L769.7 1011.5 L771.2 1010.3 L772.7 1009.1 L774.2 1007.8 L775.7 1006.5 L777.2 1005.2 L778.6 1003.9 L780.1 1002.6 L781.5 1001.2 L783.0 999.9 L784.4 998.5 L785.8 997.1 L787.1 995.7 L788.5 994.2 L789.9 992.8 L791.2 991.3 L792.6 989.8 L793.9 988.3 L795.2 986.8 L796.5 985.3 L797.8 983.7 L799.0 982.2 L800.3 980.6 L801.5 979.0 L802.8 977.4 L804.0 975.8 L805.2 974.2 L806.4 972.6 L807.6 970.9 L808.8 969.3 L809.9 967.6 L811.1 965.9 L812.2 964.2 L813.3 962.6 L814.4 960.9 L815.5 959.1 L816.6 957.4 L817.7 955.7 L818.8 954.0 L819.8 952.2 L820.9 950.5 L821.9 948.7 L822.9 947.0 L823.9 945.2 L824.9 943.4 L825.9 941.7 L826.8 939.9 L827.8 938.1 L828.7 936.3 L829.7 934.5 L830.6 932.7 L831.5 930.9 L832.4 929.1 L833.3 927.3 L834.1 925.5 L835.0 923.7 L835.8 921.8 L836.7 920.0 L837.5 918.2 L838.3 916.4 L839.2 914.5 L840.0 912.7 L840.8 910.9 L841.5 909.0 L842.3 907.2 L843.1 905.3 L843.9 903.5 L844.6 901.6 L845.4 899.8 L846.1 897.9 L846.8 896.0 L847.5 894.2 L848.3 892.3 L849.0 890.4 L849.7 888.6 L850.4 886.7 L851.1 884.8 L851.7 883.0 L852.4 881.1 L853.1 879.2 L853.8 877.3 L854.4 875.4 L855.1 873.5 L855.7 871.7 L856.4 869.8 L857.0 867.9 L857.7 866.0 L858.3 864.1 L859.0 862.2 L859.6 860.3 L860.2 858.4 L860.8 856.5 L861.5 854.6 L862.1 852.7 L862.7 850.8 L863.3 848.9 L863.9 847.0 L864.5 845.1 L865.1 843.2 L865.8 841.3 L866.4 839.4 L867.0 837.5 L867.6 835.6 L868.2 833.7 L868.8 831.8 L869.4 829.9 L870.0 828.0 L870.6 826.1 L871.2 824.2 L871.8 822.3 L872.4 820.4 L873.1 818.5 L873.7 816.6 L874.3 814.7 L874.9 812.8 L875.5 810.9 L876.1 809.0 L876.8 807.1 L877.4 805.2 L878.0 803.3 L878.7 801.4 L879.3 799.5 L879.9 797.6 L880.6 795.7 L881.2 793.8 L881.8 791.9 L882.5 790.0 L883.1 788.1 L883.8 786.2 L884.4 784.3 L885.1 782.4 L885.7 780.5 L886.4 778.6 L887.0 776.8 L887.7 774.9 L888.3 773.0 L889.0 771.1 L889.6 769.2 L890.3 767.3 L890.9 765.4 L891.6 763.5 L892.3 761.6 L892.9 759.7 L893.6 757.9 L894.2 756.0 L894.9 754.1 L895.5 752.2 L896.2 750.3 L896.8 748.4 L897.5 746.5 L898.1 744.6 L898.7 742.7 L899.4 740.8 L900.0 738.9 L900.7 737.0 L901.3 735.2 L901.9 733.3 L902.6 731.4 L903.2 729.5 L903.8 727.6 L904.5 725.7 L905.1 723.8 L905.7 721.9 L906.3 720.0 L906.9 718.1 L907.6 716.2 L908.2 714.3 L908.8 712.4 L909.4 710.5 L910.0 708.5 L910.6 706.6 L911.2 704.7 L911.7 702.8 L912.3 700.9 L912.9 699.0 L913.5 697.1 L914.1 695.2 L914.6 693.3 L915.2 691.3 L915.7 689.4 L916.3 687.5 L916.9 685.6 L917.4 683.7 L917.9 681.7 L918.5 679.8 L919.0 677.9 L919.6 676.0 L920.1 674.0 L920.6 672.1 L921.1 670.2 L921.7 668.2 L922.2 666.3 L922.7 664.4 L923.2 662.4 L923.7 660.5 L924.2 658.6 L924.7 656.6 L925.2 654.7 L925.7 652.8 L926.2 650.8 L926.7 648.9 L927.2 647.0 L927.7 645.0 L928.2 643.1 L928.7 641.1 L929.2 639.2 L929.7 637.2 L930.1 635.3 L930.6 633.4 L931.1 631.4 L931.6 629.5 L932.0 627.5 L932.5 625.6 L933.0 623.6 L933.4 621.7 L933.9 619.7 L934.4 617.8 L934.8 615.8 L935.3 613.9 L935.8 611.9 L936.2 610.0 L936.7 608.0 L937.2 606.1 L937.6 604.1 L938.1 602.2 L938.5 600.2 L939.0 598.3 L939.4 596.3 L939.9 594.4 L940.4 592.4 L940.8 590.5 L941.3 588.5 L941.7 586.6 L942.2 584.6 L942.6 582.7 L943.1 580.7 L943.5 578.8 L944.0 576.8 L944.5 574.9 L944.9 572.9 L945.4 571.0 L945.8 569.0 L946.3 567.1 L946.7 565.1 L947.2 563.2 L947.7 561.2 L948.1 559.3 L948.6 557.3 L949.0 555.4 L949.5 553.4 L950.0 551.5 L950.4 549.5 L950.9 547.6 L951.4 545.6 L951.8 543.7 L952.3 541.7 L952.8 539.8 L953.3 537.8 L953.7 535.9 L954.2 534.0 L954.7 532.0 L955.2 530.1 L955.7 528.1 L956.1 526.2 L956.6 524.2 L957.1 522.3 L957.6 520.4 L958.1 518.4 L958.6 516.5 L959.1 514.5 L959.6 512.6 L960.1 510.7 L960.6 508.7 L961.1 506.8 L961.6 504.9 L962.2 502.9 L962.7 501.0 L963.2 499.1 L963.7 497.1 L964.2 495.2 L964.8 493.3 L965.3 491.3 L965.8 489.4 L966.4 487.5 L966.9 485.6 L967.5 483.6 L968.0 481.7 L968.6 479.8 L969.1 477.9 L969.7 476.0 L970.3 474.0 L970.8 472.1 L971.4 470.2 L972.0 468.3 L972.6 466.4 L973.2 464.5 L973.8 462.6 L974.3 460.6 L974.9 458.7 L975.6 456.8 L976.2 454.9 L976.8 453.0 L977.4 451.1 L978.0 449.2 L978.6 447.3 L979.3 445.4 L979.9 443.5 L980.6 441.6 L981.2 439.7 L981.9 437.8 L982.5 436.0 L983.2 434.1 L983.9 432.2 L984.5 430.3 L985.2 428.4 L985.9 426.5 L986.6 424.6 L987.3 422.8 L988.0 420.9 L988.7 419.0 L989.4 417.1 L990.1 415.3 L990.8 413.4 L991.6 411.5 L992.3 409.7 L993.0 407.8 L993.8 405.9 L994.5 404.1 L995.3 402.2 L996.0 400.3 L996.8 398.5 L997.5 396.6 L998.3 394.8 L999.0 392.9 L999.8 391.1 L1000.6 389.2 L1001.4 387.4 L1002.1 385.5 L1002.9 383.7 L1003.7 381.8 L1004.5 380.0 L1005.3 378.1 L1006.1 376.3 L1006.9 374.4 L1007.7 372.6 L1008.5 370.8 L1009.3 368.9 L1010.1 367.1 L1010.9 365.3 L1011.7 363.4 L1012.5 361.6 L1013.3 359.8 L1014.1 357.9 L1014.9 356.1 L1015.8 354.3 L1016.6 352.5 L1017.4 350.6 L1018.2 348.8 L1019.0 347.0 L1019.9 345.2 L1020.7 343.3 L1021.5 341.5 L1022.3 339.7 L1023.2 337.9 L1024.0 336.1 L1024.8 334.2 L1025.6 332.4 L1026.5 330.6 L1027.3 328.8 L1028.1 327.0 L1028.9 325.2 L1029.8 323.4 L1030.6 321.6 L1031.4 319.8 L1032.2 318.0 L1033.0 316.1 L1033.9 314.3 L1034.7 312.5 L1035.5 310.7 L1036.3 308.9 L1037.1 307.1 L1038.0 305.3 L1038.8 303.5 L1039.6 301.7 L1040.4 299.9 L1041.2 298.1 L1042.0 296.3 L1042.8 294.5 L1043.6 292.7 L1044.4 290.9 L1045.2 289.1 L1046.0 287.3 L1046.8 285.5 L1047.6 283.7 L1048.4 281.9 L1049.2 280.1 L1049.9 278.2 L1050.7 276.4 L1051.5 274.6 L1052.2 272.8 L1053.0 270.9 L1053.7 269.1 L1054.5 267.2 L1055.2 265.4 L1055.9 263.5 L1056.7 261.7 L1057.4 259.8 L1058.1 257.9 L1058.8 256.1 L1059.5 254.2 L1060.2 252.3 L1060.9 250.4 L1061.6 248.5 L1062.2 246.5 L1062.9 244.6 L1063.6 242.7 L1064.2 240.7 L1064.9 238.8 L1065.5 236.8 L1066.1 234.9 L1066.8 232.9 L1067.4 230.9 L1068.0 229.0 L1068.7 227.0 L1069.3 225.1 L1070.0 223.1 L1070.7 221.2 L1071.4 219.2 L1072.1 217.3 L1072.8 215.4 L1073.5 213.5 L1074.3 211.6 L1075.1 209.7 L1075.9 207.8 L1076.7 206.0 L1077.5 204.1 L1078.4 202.3 L1079.3 200.5 L1080.3 198.8 L1081.3 197.0 L1082.3 195.3 L1083.4 193.6 L1084.5 192.0 L1085.6 190.3 L1086.8 188.7 L1088.0 187.2 L1089.3 185.6 L1090.6 184.1 L1092.0 182.7 L1093.4 181.2 L1094.9 179.9 L1096.4 178.5 L1097.9 177.2 L1099.5 176.0 L1101.2 174.8 L1102.8 173.7 L1104.5 172.6 L1106.3 171.5 L1108.0 170.5 L1109.8 169.6 L1111.6 168.7 L1113.4 167.9 L1115.3 167.2 L1117.1 166.5 L1119.0 165.9 L1120.9 165.4 L1122.8 164.9 L1124.7 164.5 L1126.6 164.2 L1128.6 163.9 L1130.5 163.7 L1132.4 163.6 L1134.3 163.6 L1136.2 163.7 L1138.1 163.9 L1140.0 164.1 L1141.9 164.4 L1143.8 164.9 L1145.7 165.4 L1147.5 166.0 L1149.4 166.7 L1151.2 167.4 L1153.0 168.3 L1154.8 169.2 L1156.5 170.1 L1158.3 171.1 L1160.0 172.2 L1161.7 173.3 L1163.4 174.5 L1165.0 175.7 L1166.7 176.9 L1168.3 178.2 L1169.9 179.4 L1171.5 180.7 L1173.0 182.1 L1174.6 183.4 L1176.1 184.8 L1177.6 186.2 L1179.1 187.6 L1180.6 189.0 L1182.0 190.5 L1183.5 191.9 L1184.9 193.4 L1186.4 194.9 L1187.8 196.3 L1189.2 197.8 L1190.6 199.3 L1192.0 200.8 L1193.4 202.3 L1194.8 203.8 L1196.2 205.3 L1197.6 206.8 L1198.9 208.2 L1200.3 209.7 L1201.6 211.2 L1203.0 212.8 L1204.3 214.3 L1205.7 215.8 L1207.0 217.3 L1208.3 218.8 L1209.7 220.3 L1211.0 221.8 L1212.3 223.3 L1213.6 224.8 L1214.9 226.4 L1216.2 227.9 L1217.5 229.4 L1218.8 230.9 L1220.1 232.4 L1221.4 233.9 L1222.7 235.5 L1224.0 237.0 L1225.2 238.5 L1226.5 240.0 L1227.8 241.6 L1229.1 243.1 L1230.3 244.6 L1231.6 246.1 L1232.9 247.6 L1234.2 249.2 L1235.4 250.7 L1236.7 252.2 L1238.0 253.7 L1239.2 255.3 L1240.5 256.8 L1241.8 258.3 L1243.1 259.8 L1244.3 261.3 L1245.6 262.9 L1246.9 264.4 L1248.1 265.9 L1249.4 267.4 L1250.7 268.9 L1252.0 270.4 L1253.3 271.9 L1254.6 273.4 L1255.8 274.9 L1257.1 276.5 L1258.4 278.0 L1259.7 279.5 L1261.0 281.0 L1262.3 282.5 L1263.6 283.9 L1265.0 285.4 L1266.3 286.9 L1267.6 288.4 L1268.9 289.9 L1270.2 291.4 L1271.6 292.9 L1272.9 294.4 L1274.2 295.8 L1275.6 297.3 L1276.9 298.8 L1278.3 300.2 L1279.6 301.7 L1281.0 303.2 L1282.3 304.6 L1283.7 306.1 L1285.1 307.6 L1286.4 309.0 L1287.8 310.5 L1289.2 311.9 L1290.5 313.4 L1291.9 314.8 L1293.3 316.3 L1294.7 317.7 L1296.1 319.1 L1297.5 320.6 L1298.9 322.0 L1300.3 323.4 L1301.7 324.9 L1303.1 326.3 L1304.5 327.7 L1305.9 329.1 L1307.3 330.5 L1308.8 331.9 L1310.2 333.3 L1311.6 334.8 L1313.1 336.2 L1314.5 337.6 L1315.9 338.9 L1317.4 340.3 L1318.8 341.7 L1320.3 343.1 L1321.7 344.5 L1323.2 345.9 L1324.6 347.3 L1326.1 348.6 L1327.6 350.0 L1329.0 351.4 L1330.5 352.7 L1332.0 354.1 L1333.5 355.4 L1334.9 356.8 L1336.4 358.1 L1337.9 359.5 L1339.4 360.8 L1340.9 362.2 L1342.4 363.5 L1343.9 364.8 L1345.4 366.2 L1346.9 367.5 L1348.4 368.8 L1349.9 370.1 L1351.5 371.4 L1353.0 372.7 L1354.5 374.0 L1356.0 375.3 L1357.6 376.6 L1359.1 377.9 L1360.6 379.2 L1362.2 380.5 L1363.7 381.8 L1365.3 383.1 L1366.8 384.3 L1368.4 385.6 L1369.9 386.9 L1371.5 388.1 L1373.1 389.4 L1374.6 390.6 L1376.2 391.9 L1377.8 393.1 L1379.4 394.4 L1380.9 395.6 L1382.5 396.8 L1384.1 398.0 L1385.7 399.3 L1387.3 400.5 L1388.9 401.7 L1390.5 402.9 L1392.1 404.1 L1393.7 405.3 L1395.3 406.5 L1396.9 407.7 L1398.5 408.9 L1400.2 410.1 L1401.8 411.2 L1403.4 412.4 L1405.0 413.6 L1406.7 414.7 L1408.3 415.9 L1409.9 417.0 L1411.6 418.2 L1413.2 419.3 L1414.9 420.5 L1416.5 421.6 L1418.2 422.7 L1419.8 423.8 L1421.5 424.9 L1423.2 426.1 L1424.8 427.2 L1426.5 428.3 L1428.2 429.4 L1429.8 430.4 L1431.5 431.5 L1433.2 432.6 L1434.9 433.7 L1436.6 434.8 L1438.3 435.8 L1440.0 436.9 L1441.7 437.9 L1443.4 439.0 L1445.1 440.0 L1446.8 441.1 L1448.5 442.1 L1450.2 443.1 L1451.9 444.1 L1453.6 445.1 L1455.4 446.1 L1457.1 447.2 L1458.8 448.1 L1460.5 449.1 L1462.3 450.1 L1464.0 451.1 L1465.8 452.1 L1467.5 453.0 L1469.2 454.0 L1471.0 455.0 L1472.8 455.9 L1474.5 456.9 L1476.3 457.8 L1478.0 458.7 L1479.8 459.7 L1481.6 460.6 L1483.3 461.5 L1485.1 462.4 L1486.9 463.3 L1488.7 464.2 L1490.4 465.1 L1492.2 466.0 L1494.0 466.8 L1495.8 467.7 L1497.6 468.6 L1499.4 469.4 L1501.2 470.3 L1503.0 471.1 L1504.8 472.0 L1506.6 472.8 L1508.4 473.6 L1510.3 474.5 L1512.1 475.3 L1513.9 476.1 L1515.7 476.9 L1517.6 477.7 L1519.4 478.5 L1521.2 479.2 L1523.1 480.0 L1524.9 480.8 L1526.7 481.5 L1528.6 482.3 L1530.4 483.0 L1532.3 483.8 L1534.1 484.5 L1536.0 485.2 L1537.8 485.9 L1539.7 486.7 L1541.6 487.4 L1543.4 488.1 L1545.3 488.7 L1547.2 489.4 L1549.1 490.1 L1551.0 490.8 L1552.8 491.4 L1554.7 492.1 L1556.6 492.7 L1558.5 493.4 L1560.4 494.0 L1562.3 494.6 L1564.2 495.3 L1566.1 495.9 L1568.0 496.5 L1569.9 497.1 L1571.8 497.6 L1573.7 498.2 L1575.7 498.8 L1577.6 499.4 L1579.5 499.9 L1581.4 500.5 L1583.4 501.0 L1585.3 501.6 L1587.2 502.1 L1589.2 502.6 L1591.1 503.1 L1593.0 503.6 L1595.0 504.1 L1596.9 504.6 L1598.9 505.1 L1600.8 505.6 L1602.8 506.0 L1604.8 506.5 L1606.7 506.9 L1608.7 507.4 L1610.7 507.8 L1612.6 508.2 L1614.6 508.6 L1616.6 509.1 L1618.6 509.5 L1620.5 509.8 L1622.5 510.2 L1624.5 510.6 L1626.5 511.0 L1628.5 511.3 L1630.5 511.7 L1632.5 512.0 L1634.5 512.4 L1636.5 512.7 L1638.5 513.0 L1640.5 513.3 L1642.5 513.6 L1644.5 513.9 L1646.6 514.2 L1648.6 514.5 L1650.6 514.7 L1652.6 515.0 L1654.7 515.2 L1656.7 515.5 L1658.7 515.7 L1660.0 517.0 L1658.8 518.7 L1657.5 520.2 L1656.2 521.7 L1654.8 523.2 L1653.5 524.7 L1652.1 526.2 L1650.8 527.6 L1649.4 529.1 L1648.0 530.5 L1646.6 531.9 L1645.1 533.3 L1643.7 534.7 L1642.2 536.0 L1640.8 537.4 L1639.3 538.7 L1637.8 540.0 L1636.3 541.3 L1634.8 542.6 L1633.3 543.8 L1631.8 545.1 L1630.2 546.3 L1628.7 547.5 L1627.1 548.8 L1625.6 550.0 L1624.0 551.1 L1622.4 552.3 L1620.8 553.5 L1619.2 554.6 L1617.6 555.8 L1616.0 556.9 L1614.3 558.0 L1612.7 559.1 L1611.0 560.2 L1609.4 561.2 L1607.7 562.3 L1606.0 563.4 L1604.3 564.4 L1602.6 565.4 L1600.9 566.5 L1599.2 567.5 L1597.5 568.5 L1595.8 569.5 L1594.1 570.4 L1592.3 571.4 L1590.6 572.4 L1588.8 573.3 L1587.1 574.3 L1585.3 575.2 L1583.6 576.1 L1581.8 577.0 L1580.0 578.0 L1578.2 578.9 L1576.4 579.8 L1574.6 580.6 L1572.8 581.5 L1571.0 582.4 L1569.2 583.3 L1567.4 584.1 L1565.6 585.0 L1563.8 585.8 L1561.9 586.7 L1560.1 587.5 L1558.3 588.3 L1556.4 589.1 L1554.6 590.0 L1552.8 590.8 L1550.9 591.6 L1549.1 592.4 L1547.2 593.2 L1545.4 594.0 L1543.5 594.8 L1541.6 595.6 L1539.8 596.3 L1537.9 597.1 L1536.0 597.9 L1534.2 598.7 L1532.3 599.4 L1530.4 600.2 L1528.6 601.0 L1526.7 601.7 L1524.8 602.5 L1523.0 603.2 L1521.1 604.0 L1519.2 604.7 L1517.3 605.5 L1515.5 606.2 L1513.6 607.0 L1511.7 607.7 L1509.8 608.5 L1508.0 609.2 L1506.1 610.0 L1504.2 610.7 L1502.4 611.5 L1500.5 612.2 L1498.6 612.9 L1496.8 613.7 L1494.9 614.4 L1493.0 615.2 L1491.2 615.9 L1489.3 616.7 L1487.4 617.4 L1485.6 618.1 L1483.7 618.9 L1481.8 619.6 L1480.0 620.4 L1478.1 621.1 L1476.3 621.8 L1474.4 622.6 L1472.5 623.3 L1470.7 624.1 L1468.8 624.8 L1467.0 625.5 L1465.1 626.3 L1463.3 627.0 L1461.4 627.8 L1459.5 628.5 L1457.7 629.2 L1455.8 630.0 L1454.0 630.7 L1452.1 631.4 L1450.3 632.2 L1448.4 632.9 L1446.6 633.6 L1444.7 634.4 L1442.9 635.1 L1441.0 635.8 L1439.2 636.6 L1437.3 637.3 L1435.5 638.0 L1433.6 638.7 L1431.7 639.5 L1429.9 640.2 L1428.0 640.9 L1426.2 641.7 L1424.3 642.4 L1422.5 643.1 L1420.6 643.8 L1418.8 644.6 L1416.9 645.3 L1415.1 646.0 L1413.2 646.7 L1411.4 647.5 L1409.5 648.2 L1407.7 648.9 L1405.8 649.6 L1404.0 650.3 L1402.1 651.1 L1400.2 651.8 L1398.4 652.5 L1396.5 653.2 L1394.7 653.9 L1392.8 654.6 L1391.0 655.4 L1389.1 656.1 L1387.3 656.8 L1385.4 657.5 L1383.5 658.2 L1381.7 658.9 L1379.8 659.6 L1378.0 660.4 L1376.1 661.1 L1374.2 661.8 L1372.4 662.5 L1370.5 663.2 L1368.6 663.9 L1366.8 664.6 L1364.9 665.3 L1363.1 666.0 L1361.2 666.7 L1359.3 667.4 L1357.5 668.1 L1355.6 668.8 L1353.7 669.5 L1351.8 670.2 L1350.0 670.9 L1348.1 671.6 L1346.2 672.3 L1344.4 673.0 L1342.5 673.7 L1340.6 674.4 L1338.7 675.1 L1336.9 675.8 L1335.0 676.5 L1333.1 677.2 L1331.2 677.8 L1329.3 678.5 L1327.4 679.2 L1325.6 679.9 L1323.7 680.6 L1321.8 681.3 L1319.9 682.0 L1318.0 682.7 L1316.1 683.3 L1314.2 684.0 L1312.3 684.7 L1310.5 685.4 L1308.6 686.1 L1306.7 686.8 L1304.8 687.4 L1302.9 688.1 L1301.0 688.8 L1299.1 689.5 L1297.2 690.2 L1295.3 690.9 L1293.4 691.5 L1291.5 692.2 L1289.6 692.9 L1287.7 693.6 L1285.9 694.3 L1284.0 695.0 L1282.1 695.7 L1280.2 696.3 L1278.3 697.0 L1276.4 697.7 L1274.5 698.4 L1272.6 699.1 L1270.7 699.8 L1268.8 700.5 L1266.9 701.2 L1265.0 701.9 L1263.1 702.6 L1261.2 703.3 L1259.3 703.9 L1257.4 704.6 L1255.5 705.3 L1253.7 706.0 L1251.8 706.7 L1249.9 707.4 L1248.0 708.1 L1246.1 708.9 L1244.2 709.6 L1242.3 710.3 L1240.4 711.0 L1238.5 711.7 L1236.7 712.4 L1234.8 713.1 L1232.9 713.8 L1231.0 714.6 L1229.1 715.3 L1227.3 716.0 L1225.4 716.7 L1223.5 717.4 L1221.6 718.2 L1219.7 718.9 L1217.9 719.6 L1216.0 720.4 L1214.1 721.1 L1212.2 721.9 L1210.4 722.6 L1208.5 723.3 L1206.6 724.1 L1204.8 724.8 L1202.9 725.6 L1201.0 726.3 L1199.2 727.1 L1197.3 727.9 L1195.5 728.6 L1193.6 729.4 L1191.8 730.2 L1189.9 730.9 L1188.0 731.7 L1186.2 732.5 L1184.4 733.3 L1182.5 734.1 L1180.7 734.8 L1178.8 735.6 L1177.0 736.4 L1175.1 737.2 L1173.3 738.0 L1171.5 738.8 L1169.6 739.6 L1167.8 740.5 L1166.0 741.3 L1164.2 742.1 L1162.3 742.9 L1160.5 743.7 L1158.7 744.6 L1156.9 745.4 L1155.1 746.2 L1153.3 747.1 L1151.4 747.9 L1149.6 748.8 L1147.8 749.6 L1146.0 750.5 L1144.2 751.4 L1142.4 752.2 L1140.6 753.1 L1138.9 754.0 L1137.1 754.8 L1135.3 755.7 L1133.5 756.6 L1131.7 757.5 L1130.0 758.4 L1128.2 759.3 L1126.4 760.2 L1124.6 761.1 L1122.9 762.1 L1121.1 763.0 L1119.4 763.9 L1117.6 764.8 L1115.9 765.8 L1114.1 766.7 L1112.4 767.7 L1110.6 768.6 L1108.9 769.6 L1107.1 770.5 L1105.4 771.5 L1103.7 772.5 L1102.0 773.5 L1100.2 774.4 L1098.5 775.4 L1096.8 776.4 L1095.1 777.4 L1093.4 778.4 L1091.7 779.4 L1090.0 780.5 L1088.3 781.5 L1086.6 782.5 L1084.9 783.6 L1083.2 784.6 L1081.6 785.6 L1079.9 786.7 L1078.2 787.8 L1076.6 788.8 L1074.9 789.9 L1073.2 791.0 L1071.6 792.1 L1069.9 793.2 L1068.3 794.3 L1066.6 795.4 L1065.0 796.5 L1063.4 797.6 L1061.7 798.7 L1060.1 799.9 L1058.5 801.0 L1056.9 802.1 L1055.3 803.3 L1053.7 804.4 L1052.1 805.6 L1050.5 806.8 L1048.9 808.0 L1047.3 809.2 L1045.7 810.3 L1044.1 811.5 L1042.5 812.8 L1041.0 814.0 L1039.4 815.2 L1037.9 816.4 L1036.3 817.7 L1034.8 818.9 L1033.2 820.2 L1031.7 821.4 L1030.1 822.7 L1028.6 824.0 L1027.1 825.2 L1025.6 826.5 L1024.1 827.8 L1022.5 829.1 L1021.0 830.5 L1019.6 831.8 L1018.1 833.1 L1016.6 834.5 L1015.1 835.8 L1013.6 837.2 L1012.2 838.5 L1010.7 839.9 L1009.2 841.3 L1007.8 842.7 L1006.3 844.1 L1004.9 845.5 L1003.5 846.9 L1002.0 848.3 L1000.6 849.7 L999.2 851.2 L997.8 852.6 L996.4 854.1 L995.0 855.5 L993.6 857.0 L992.2 858.5 L990.8 859.9 L989.4 861.4 L988.0 862.9 L986.6 864.4 L985.2 865.9 L983.9 867.4 L982.5 868.9 L981.1 870.4 L979.8 871.9 L978.4 873.5 L977.1 875.0 L975.7 876.5 L974.4 878.0 L973.0 879.6 L971.7 881.1 L970.3 882.6 L969.0 884.2 L967.6 885.7 L966.3 887.2 L964.9 888.8 L963.6 890.3 L962.3 891.8 L960.9 893.4 L959.6 894.9 L958.3 896.4 L956.9 898.0 L955.6 899.5 L954.3 901.0 L952.9 902.6 L951.6 904.1 L950.2 905.6 L948.9 907.1 L947.6 908.7 L946.2 910.2 L944.9 911.7 L943.6 913.2 L942.2 914.7 L940.9 916.2 L939.5 917.7 L938.2 919.2 L936.8 920.6 L935.5 922.1 L934.1 923.6 L932.8 925.0 L931.4 926.5 L930.0 928.0 L928.7 929.4 L927.3 930.9 L925.9 932.3 L924.6 933.7 L923.2 935.2 L921.8 936.6 L920.5 938.0 L919.1 939.4 L917.7 940.9 L916.3 942.3 L914.9 943.7 L913.6 945.1 L912.2 946.5 L910.8 947.9 L909.4 949.3 L908.0 950.7 L906.6 952.2 L905.2 953.6 L903.8 955.0 L902.4 956.4 L901.0 957.8 L899.6 959.2 L898.2 960.6 L896.8 962.0 L895.4 963.4 L894.0 964.8 L892.6 966.2 L891.2 967.6 L889.8 969.0 L888.4 970.4 L887.0 971.8 L885.6 973.2 L884.2 974.7 L882.8 976.1 L881.4 977.5 L879.9 978.9 L878.5 980.3 L877.1 981.8 L875.7 983.2 L874.3 984.6 L872.9 986.1 L871.4 987.5 L870.0 988.9 L868.6 990.4 L867.2 991.8 L865.7 993.2 L864.3 994.7 L862.8 996.1 L861.4 997.5 L860.0 998.9 L858.5 1000.3 L857.0 1001.7 L855.6 1003.1 L854.1 1004.5 L852.6 1005.9 L851.2 1007.3 L849.7 1008.6 L848.2 1010.0 L846.7 1011.3 L845.2 1012.6 L843.7 1014.0 L842.2 1015.3 L840.6 1016.6 L839.1 1017.8 L837.6 1019.1 L836.0 1020.3 L834.5 1021.6 L832.9 1022.8 L831.3 1024.0 L829.7 1025.2 L828.1 1026.3 L826.5 1027.5 L824.9 1028.6 L823.3 1029.7 L821.7 1030.8 L820.0 1031.8 L818.4 1032.9 L816.7 1033.9 L815.0 1034.9 L813.3 1035.9 L811.6 1036.8 L809.9 1037.7 L808.2 1038.6 L806.4 1039.5 L804.7 1040.3 L802.9 1041.1 L801.1 1041.9 L799.4 1042.7 L797.6 1043.4 L795.8 1044.2 L793.9 1044.9 L792.1 1045.5 L790.3 1046.2 L788.4 1046.8 L786.6 1047.5 L784.7 1048.1 L782.8 1048.6 L780.9 1049.2 L779.1 1049.7 L777.2 1050.2 L775.3 1050.7 L773.3 1051.2 L771.4 1051.7 L769.5 1052.1 L767.6 1052.6 L765.6 1053.0 L763.7 1053.4 L761.7 1053.8 L759.8 1054.1 L757.8 1054.5 L755.8 1054.8 L753.9 1055.2 L751.9 1055.5 L749.9 1055.8 L747.9 1056.1 L745.9 1056.4 L743.9 1056.6 L741.9 1056.9 L739.9 1057.1 L737.9 1057.4 L735.9 1057.6 L733.9 1057.8 L731.9 1058.0 L729.9 1058.2 L727.9 1058.4 L725.9 1058.6 L723.9 1058.7 L721.9 1058.9 L719.9 1059.1 L717.9 1059.2 L715.9 1059.4 L713.8 1059.5 L711.8 1059.7 L709.8 1059.8 L707.8 1059.9 L705.8 1060.0 L703.8 1060.1 L701.8 1060.2 L699.8 1060.3 L697.7 1060.4 L695.7 1060.5 L693.7 1060.6 L691.7 1060.7 L689.7 1060.8 L687.7 1060.9 L685.7 1060.9 L683.6 1061.0 L681.6 1061.1 L679.6 1061.1 L677.6 1061.2 L675.6 1061.2 L673.6 1061.3 L671.6 1061.3 L669.5 1061.4 L667.5 1061.4 L665.5 1061.5 L663.5 1061.5 L661.5 1061.5 L659.5 1061.6 L657.5 1061.6 L655.4 1061.6 L653.4 1061.7 L651.4 1061.7 L649.4 1061.7 L647.4 1061.7 L645.4 1061.8 L643.4 1061.8 L641.4 1061.8 L639.4 1061.8 L637.4 1061.9 L635.3 1061.9 L633.3 1061.9 L631.3 1061.9 L629.3 1062.0 L627.3 1062.0 L625.3 1062.0 L623.3 1062.0 L621.3 1062.1 L619.3 1062.1 L617.3 1062.1 L615.3 1062.2 L613.3 1062.2 L611.3 1062.2 L609.3 1062.3 L607.3 1062.3 L605.3 1062.3 L603.3 1062.4 L601.3 1062.4 L599.3 1062.4 L597.3 1062.5 L595.3 1062.5 L593.3 1062.5 L591.3 1062.6 L589.3 1062.6 L587.3 1062.6 L585.3 1062.7 L583.3 1062.7 L581.3 1062.7 L579.3 1062.8 L577.3 1062.8 L575.3 1062.8 L573.3 1062.9 L571.3 1062.9 L569.3 1062.9 L567.3 1063.0 L565.4 1063.0 L563.4 1063.0 L561.4 1063.0 L559.4 1063.1 L557.4 1063.1 L555.4 1063.1 L553.4 1063.2 L551.4 1063.2 L549.4 1063.2 L547.4 1063.2 L545.4 1063.3 L543.4 1063.3 L541.4 1063.3 L539.4 1063.3 L537.4 1063.3 L535.4 1063.4 L533.4 1063.4 L531.4 1063.4 L529.4 1063.4 L527.4 1063.4 L525.4 1063.4 L523.4 1063.5 L521.4 1063.5 L519.4 1063.5 L517.4 1063.5 L515.4 1063.5 L513.4 1063.5 L511.4 1063.5 L509.4 1063.5 L507.4 1063.5 L505.3 1063.5 L503.3 1063.5 L501.3 1063.5 L499.3 1063.5 L497.3 1063.5 L495.3 1063.5 L493.3 1063.5 L491.3 1063.5 L489.3 1063.5 L487.3 1063.5 L485.3 1063.5 L483.3 1063.5 L481.3 1063.5 L479.3 1063.5 L477.3 1063.5 L475.3 1063.5 L473.3 1063.5 L471.3 1063.5 L469.2 1063.5 L467.2 1063.5 L465.2 1063.5 L463.2 1063.5 L461.2 1063.5 L459.2 1063.5 L457.2 1063.5 L455.2 1063.5 L453.2 1063.4 L451.2 1063.4 L449.2 1063.4 L447.2 1063.4 L445.2 1063.4 L443.2 1063.4 L441.2 1063.4 L439.1 1063.4 L437.1 1063.4 L435.1 1063.4 L433.1 1063.4 L431.1 1063.3 L429.1 1063.3 L427.1 1063.3 L425.1 1063.3 L423.1 1063.3 L421.1 1063.3 L419.1 1063.3 L417.1 1063.3 L415.1 1063.3 L413.1 1063.2 L411.1 1063.2 L409.1 1063.2 L407.1 1063.2 L405.1 1063.2 L403.0 1063.2 L401.0 1063.2 L399.0 1063.2 L397.0 1063.2 L395.0 1063.2 L393.0 1063.2 L391.0 1063.1 L389.0 1063.1 L387.0 1063.1 L385.0 1063.1 L383.0 1063.1 L381.0 1063.1 L379.0 1063.1 L377.0 1063.1 L375.0 1063.1 L373.0 1063.1 L371.0 1063.1 L369.0 1063.1 L367.0 1063.1 L365.0 1063.1 L363.0 1063.1 L361.0 1063.1 L359.0 1063.1 L357.0 1063.1 L355.0 1063.1 L353.0 1063.0" fill="none" stroke="#f00" stroke-width="8.5" stroke-linejoin="round" stroke-linecap="round"/>
<path d="M352.0 1061.0 L354.1 1059.7 L356.0 1059.5 L358.0 1059.3 L359.9 1059.0 L361.9 1058.8 L363.9 1058.6 L365.8 1058.4 L367.8 1058.2 L369.8 1058.1 L371.8 1057.9 L373.7 1057.7 L375.7 1057.5 L377.7 1057.3 L379.7 1057.2 L381.6 1057.0 L383.6 1056.9 L385.6 1056.7 L387.6 1056.6 L389.6 1056.4 L391.5 1056.3 L393.5 1056.2 L395.5 1056.0 L397.5 1055.9 L399.5 1055.8 L401.5 1055.7 L403.5 1055.5 L405.5 1055.4 L407.4 1055.3 L409.4 1055.2 L411.4 1055.1 L413.4 1055.0 L415.4 1054.9 L417.4 1054.8 L419.4 1054.7 L421.4 1054.7 L423.4 1054.6 L425.4 1054.5 L427.4 1054.4 L429.4 1054.4 L431.4 1054.3 L433.4 1054.2 L435.4 1054.2 L437.4 1054.1 L439.4 1054.1 L441.4 1054.0 L443.4 1053.9 L445.4 1053.9 L447.5 1053.9 L449.5 1053.8 L451.5 1053.8 L453.5 1053.7 L455.5 1053.7 L457.5 1053.7 L459.5 1053.6 L461.5 1053.6 L463.5 1053.6 L465.5 1053.6 L467.5 1053.5 L469.6 1053.5 L471.6 1053.5 L473.6 1053.5 L475.6 1053.5 L477.6 1053.4 L479.6 1053.4 L481.6 1053.4 L483.6 1053.4 L485.7 1053.4 L487.7 1053.4 L489.7 1053.4 L491.7 1053.4 L493.7 1053.4 L495.7 1053.4 L497.7 1053.4 L499.8 1053.4 L501.8 1053.4 L503.8 1053.4 L505.8 1053.4 L507.8 1053.4 L509.8 1053.4 L511.8 1053.4 L513.8 1053.4 L515.9 1053.5 L517.9 1053.5 L519.9 1053.5 L521.9 1053.5 L523.9 1053.5 L525.9 1053.5 L527.9 1053.5 L529.9 1053.5 L532.0 1053.5 L534.0 1053.6 L536.0 1053.6 L538.0 1053.6 L540.0 1053.6 L542.0 1053.6 L544.0 1053.6 L546.0 1053.6 L548.0 1053.6 L550.0 1053.6 L552.0 1053.7 L554.0 1053.7 L556.1 1053.7 L558.1 1053.7 L560.1 1053.7 L562.1 1053.7 L564.1 1053.7 L566.1 1053.7 L568.1 1053.7 L570.1 1053.7 L572.1 1053.7 L574.1 1053.7 L576.1 1053.7 L578.1 1053.7 L580.1 1053.7 L582.1 1053.7 L584.1 1053.7 L586.1 1053.7 L588.1 1053.7 L590.0 1053.7 L592.0 1053.7 L594.0 1053.7 L596.0 1053.7 L598.0 1053.7 L600.0 1053.7 L602.0 1053.6 L604.0 1053.6 L606.0 1053.6 L607.9 1053.6 L609.9 1053.6 L611.9 1053.5 L613.9 1053.5 L615.9 1053.5 L617.8 1053.4 L619.8 1053.4 L621.8 1053.4 L623.8 1053.3 L625.7 1053.3 L627.7 1053.2 L629.7 1053.2 L631.6 1053.1 L633.6 1053.1 L635.6 1053.0 L637.6 1053.0 L639.5 1052.9 L641.5 1052.8 L643.4 1052.8 L645.4 1052.7 L647.4 1052.6 L649.3 1052.5 L651.3 1052.5 L653.3 1052.4 L655.3 1052.3 L657.2 1052.2 L659.2 1052.1 L661.2 1052.0 L663.1 1051.9 L665.1 1051.8 L667.1 1051.7 L669.1 1051.5 L671.1 1051.4 L673.0 1051.3 L675.0 1051.1 L677.0 1051.0 L679.0 1050.9 L681.0 1050.7 L683.0 1050.6 L685.0 1050.4 L687.0 1050.2 L689.0 1050.1 L691.1 1049.9 L693.1 1049.7 L695.1 1049.5 L697.1 1049.3 L699.2 1049.1 L701.2 1048.9 L703.3 1048.7 L705.3 1048.5 L707.4 1048.3 L709.4 1048.0 L711.5 1047.8 L713.6 1047.6 L715.6 1047.3 L717.7 1047.0 L719.8 1046.7 L721.8 1046.4 L723.9 1046.1 L726.0 1045.8 L728.0 1045.5 L730.1 1045.1 L732.1 1044.8 L734.2 1044.4 L736.2 1044.0 L738.2 1043.6 L740.3 1043.1 L742.3 1042.7 L744.3 1042.2 L746.3 1041.7 L748.3 1041.2 L750.2 1040.6 L752.2 1040.1 L754.1 1039.5 L756.1 1038.9 L758.0 1038.2 L759.9 1037.6 L761.7 1036.9 L763.6 1036.2 L765.5 1035.4 L767.3 1034.7 L769.1 1033.9 L770.9 1033.0 L772.6 1032.2 L774.4 1031.3 L776.1 1030.4 L777.8 1029.5 L779.5 1028.5 L781.2 1027.5 L782.9 1026.5 L784.5 1025.4 L786.1 1024.4 L787.7 1023.3 L789.3 1022.2 L790.9 1021.0 L792.4 1019.9 L794.0 1018.7 L795.5 1017.5 L797.0 1016.3 L798.5 1015.0 L800.0 1013.8 L801.4 1012.5 L802.9 1011.2 L804.3 1009.8 L805.7 1008.5 L807.1 1007.1 L808.5 1005.8 L809.9 1004.4 L811.3 1003.0 L812.6 1001.5 L814.0 1000.1 L815.3 998.6 L816.6 997.1 L817.9 995.6 L819.2 994.1 L820.5 992.6 L821.7 991.1 L823.0 989.5 L824.2 988.0 L825.4 986.4 L826.7 984.8 L827.9 983.2 L829.1 981.6 L830.2 980.0 L831.4 978.4 L832.6 976.8 L833.7 975.1 L834.9 973.5 L836.0 971.8 L837.2 970.2 L838.3 968.5 L839.4 966.8 L840.5 965.2 L841.6 963.5 L842.7 961.8 L843.8 960.1 L844.9 958.4 L845.9 956.7 L847.0 955.0 L848.1 953.2 L849.1 951.5 L850.2 949.8 L851.2 948.1 L852.2 946.4 L853.3 944.6 L854.3 942.9 L855.3 941.2 L856.3 939.5 L857.3 937.7 L858.3 936.0 L859.3 934.2 L860.3 932.5 L861.3 930.7 L862.2 929.0 L863.2 927.2 L864.2 925.5 L865.1 923.7 L866.1 921.9 L867.0 920.2 L867.9 918.4 L868.9 916.6 L869.8 914.9 L870.7 913.1 L871.6 911.3 L872.5 909.5 L873.5 907.8 L874.4 906.0 L875.2 904.2 L876.1 902.4 L877.0 900.6 L877.9 898.8 L878.8 897.0 L879.6 895.2 L880.5 893.4 L881.4 891.6 L882.2 889.8 L883.1 888.0 L883.9 886.2 L884.8 884.4 L885.6 882.6 L886.4 880.7 L887.3 878.9 L888.1 877.1 L888.9 875.3 L889.7 873.4 L890.5 871.6 L891.3 869.8 L892.1 868.0 L892.9 866.1 L893.7 864.3 L894.5 862.5 L895.3 860.6 L896.1 858.8 L896.8 856.9 L897.6 855.1 L898.4 853.2 L899.1 851.4 L899.9 849.6 L900.7 847.7 L901.4 845.9 L902.2 844.0 L902.9 842.1 L903.6 840.3 L904.4 838.4 L905.1 836.6 L905.8 834.7 L906.6 832.8 L907.3 831.0 L908.0 829.1 L908.7 827.2 L909.4 825.4 L910.2 823.5 L910.9 821.6 L911.6 819.8 L912.3 817.9 L913.0 816.0 L913.7 814.1 L914.3 812.3 L915.0 810.4 L915.7 808.5 L916.4 806.6 L917.1 804.7 L917.8 802.8 L918.4 801.0 L919.1 799.1 L919.8 797.2 L920.4 795.3 L921.1 793.4 L921.8 791.5 L922.4 789.6 L923.1 787.7 L923.7 785.8 L924.4 783.9 L925.0 782.1 L925.7 780.2 L926.3 778.3 L927.0 776.4 L927.6 774.5 L928.3 772.6 L928.9 770.7 L929.5 768.8 L930.2 766.9 L930.8 765.0 L931.4 763.1 L932.1 761.2 L932.7 759.3 L933.3 757.4 L933.9 755.5 L934.5 753.5 L935.2 751.6 L935.8 749.7 L936.4 747.8 L937.0 745.9 L937.6 744.0 L938.2 742.1 L938.9 740.2 L939.5 738.3 L940.1 736.4 L940.7 734.5 L941.3 732.6 L941.9 730.7 L942.5 728.7 L943.1 726.8 L943.7 724.9 L944.3 723.0 L944.9 721.1 L945.5 719.2 L946.1 717.3 L946.7 715.4 L947.3 713.5 L947.9 711.6 L948.5 709.6 L949.1 707.7 L949.7 705.8 L950.3 703.9 L950.9 702.0 L951.5 700.1 L952.1 698.2 L952.7 696.3 L953.3 694.4 L953.8 692.4 L954.4 690.5 L955.0 688.6 L955.6 686.7 L956.2 684.8 L956.8 682.9 L957.4 681.0 L958.0 679.1 L958.6 677.2 L959.1 675.3 L959.7 673.3 L960.3 671.4 L960.9 669.5 L961.5 667.6 L962.1 665.7 L962.7 663.8 L963.2 661.9 L963.8 660.0 L964.4 658.1 L965.0 656.1 L965.6 654.2 L966.2 652.3 L966.7 650.4 L967.3 648.5 L967.9 646.6 L968.5 644.7 L969.1 642.8 L969.7 640.9 L970.2 638.9 L970.8 637.0 L971.4 635.1 L972.0 633.2 L972.6 631.3 L973.1 629.4 L973.7 627.5 L974.3 625.6 L974.9 623.7 L975.5 621.7 L976.0 619.8 L976.6 617.9 L977.2 616.0 L977.8 614.1 L978.4 612.2 L978.9 610.3 L979.5 608.4 L980.1 606.4 L980.7 604.5 L981.3 602.6 L981.8 600.7 L982.4 598.8 L983.0 596.9 L983.6 595.0 L984.2 593.1 L984.7 591.2 L985.3 589.2 L985.9 587.3 L986.5 585.4 L987.1 583.5 L987.6 581.6 L988.2 579.7 L988.8 577.8 L989.4 575.9 L990.0 574.0 L990.5 572.0 L991.1 570.1 L991.7 568.2 L992.3 566.3 L992.9 564.4 L993.5 562.5 L994.0 560.6 L994.6 558.7 L995.2 556.8 L995.8 554.9 L996.4 552.9 L997.0 551.0 L997.5 549.1 L998.1 547.2 L998.7 545.3 L999.3 543.4 L999.9 541.5 L1000.5 539.6 L1001.1 537.7 L1001.7 535.7 L1002.2 533.8 L1002.8 531.9 L1003.4 530.0 L1004.0 528.1 L1004.6 526.2 L1005.2 524.3 L1005.8 522.4 L1006.4 520.5 L1007.0 518.6 L1007.6 516.6 L1008.2 514.7 L1008.8 512.8 L1009.3 510.9 L1009.9 509.0 L1010.5 507.1 L1011.1 505.2 L1011.7 503.3 L1012.3 501.4 L1012.9 499.5 L1013.5 497.6 L1014.1 495.6 L1014.7 493.7 L1015.3 491.8 L1015.9 489.9 L1016.5 488.0 L1017.1 486.1 L1017.8 484.2 L1018.4 482.3 L1019.0 480.4 L1019.6 478.5 L1020.2 476.6 L1020.8 474.6 L1021.4 472.7 L1022.0 470.8 L1022.6 468.9 L1023.2 467.0 L1023.8 465.1 L1024.5 463.2 L1025.1 461.3 L1025.7 459.4 L1026.3 457.5 L1026.9 455.6 L1027.6 453.7 L1028.2 451.7 L1028.8 449.8 L1029.4 447.9 L1030.0 446.0 L1030.7 444.1 L1031.3 442.2 L1031.9 440.3 L1032.5 438.4 L1033.2 436.5 L1033.8 434.6 L1034.4 432.7 L1035.1 430.8 L1035.7 428.9 L1036.3 427.0 L1037.0 425.1 L1037.6 423.1 L1038.2 421.2 L1038.9 419.3 L1039.5 417.4 L1040.1 415.5 L1040.8 413.6 L1041.4 411.7 L1042.1 409.8 L1042.7 407.9 L1043.3 406.0 L1044.0 404.1 L1044.6 402.2 L1045.3 400.3 L1045.9 398.4 L1046.6 396.5 L1047.2 394.6 L1047.9 392.7 L1048.5 390.8 L1049.2 388.9 L1049.8 387.0 L1050.5 385.1 L1051.1 383.2 L1051.8 381.3 L1052.4 379.4 L1053.1 377.5 L1053.7 375.6 L1054.4 373.7 L1055.0 371.8 L1055.7 369.9 L1056.3 368.0 L1057.0 366.1 L1057.6 364.2 L1058.3 362.3 L1058.9 360.4 L1059.6 358.5 L1060.2 356.6 L1060.9 354.7 L1061.6 352.9 L1062.2 351.0 L1062.9 349.1 L1063.5 347.2 L1064.2 345.3 L1064.9 343.4 L1065.5 341.5 L1066.2 339.6 L1066.8 337.7 L1067.5 335.8 L1068.1 334.0 L1068.8 332.1 L1069.5 330.2 L1070.1 328.3 L1070.8 326.4 L1071.4 324.5 L1072.1 322.7 L1072.8 320.8 L1073.4 318.9 L1074.1 317.0 L1074.8 315.1 L1075.4 313.3 L1076.1 311.4 L1076.7 309.5 L1077.4 307.6 L1078.1 305.7 L1078.7 303.9 L1079.4 302.0 L1080.1 300.1 L1080.7 298.2 L1081.4 296.4 L1082.1 294.5 L1082.7 292.6 L1083.4 290.8 L1084.1 288.9 L1084.8 287.0 L1085.5 285.2 L1086.1 283.3 L1086.8 281.4 L1087.5 279.6 L1088.2 277.7 L1088.9 275.9 L1089.6 274.0 L1090.3 272.1 L1091.0 270.3 L1091.7 268.4 L1092.5 266.6 L1093.2 264.7 L1093.9 262.9 L1094.6 261.0 L1095.4 259.2 L1096.1 257.3 L1096.9 255.5 L1097.6 253.6 L1098.4 251.8 L1099.1 250.0 L1099.9 248.1 L1100.7 246.3 L1101.5 244.5 L1102.3 242.6 L1103.1 240.8 L1103.9 239.0 L1104.7 237.1 L1105.5 235.3 L1106.3 233.5 L1107.1 231.7 L1108.0 229.8 L1108.8 228.0 L1109.7 226.2 L1110.5 224.4 L1111.4 222.6 L1112.3 220.8 L1113.2 219.0 L1114.1 217.2 L1115.0 215.3 L1115.9 213.5 L1116.8 211.7 L1117.8 209.9 L1118.7 208.1 L1119.7 206.4 L1120.6 204.6 L1121.6 202.8 L1122.6 201.0 L1123.6 199.2 L1124.6 197.4 L1125.6 195.6 L1126.6 193.9 L1127.7 192.1 L1128.7 190.3 L1129.8 188.6 L1130.9 186.9 L1132.0 185.1 L1133.1 183.4 L1134.3 181.7 L1135.4 180.1 L1136.6 178.4 L1137.8 176.8 L1139.0 175.2 L1140.3 173.6 L1141.6 172.0 L1142.9 170.5 L1144.2 169.0 L1145.5 167.5 L1146.9 166.1 L1148.3 164.7 L1149.8 163.3 L1151.2 162.0 L1152.7 160.7 L1154.2 159.5 L1155.8 158.3 L1157.4 157.1 L1159.0 156.0 L1160.7 154.9 L1162.4 153.9 L1164.1 153.0 L1165.9 152.1 L1167.7 151.3 L1169.5 150.5 L1171.3 149.9 L1173.2 149.3 L1175.0 148.9 L1176.9 148.6 L1178.8 148.4 L1180.7 148.4 L1182.6 148.5 L1184.5 148.7 L1186.4 149.0 L1188.3 149.5 L1190.1 150.1 L1192.0 150.7 L1193.9 151.5 L1195.8 152.3 L1197.6 153.2 L1199.4 154.1 L1201.2 155.1 L1203.0 156.2 L1204.8 157.2 L1206.5 158.3 L1208.2 159.4 L1209.9 160.5 L1211.6 161.7 L1213.2 162.8 L1214.8 164.0 L1216.4 165.2 L1218.0 166.4 L1219.6 167.7 L1221.1 169.0 L1222.6 170.2 L1224.1 171.5 L1225.6 172.8 L1227.1 174.2 L1228.5 175.5 L1230.0 176.9 L1231.4 178.3 L1232.8 179.6 L1234.2 181.1 L1235.5 182.5 L1236.9 183.9 L1238.2 185.4 L1239.6 186.8 L1240.9 188.3 L1242.2 189.8 L1243.5 191.3 L1244.7 192.8 L1246.0 194.3 L1247.3 195.8 L1248.5 197.4 L1249.7 198.9 L1251.0 200.5 L1252.2 202.0 L1253.4 203.6 L1254.6 205.2 L1255.8 206.8 L1257.0 208.4 L1258.1 210.0 L1259.3 211.6 L1260.5 213.2 L1261.7 214.8 L1262.8 216.4 L1264.0 218.0 L1265.1 219.7 L1266.3 221.3 L1267.4 222.9 L1268.6 224.6 L1269.7 226.2 L1270.9 227.8 L1272.0 229.5 L1273.2 231.1 L1274.3 232.8 L1275.5 234.4 L1276.6 236.1 L1277.8 237.7 L1278.9 239.3 L1280.1 241.0 L1281.2 242.6 L1282.4 244.2 L1283.5 245.9 L1284.7 247.5 L1285.9 249.2 L1287.0 250.8 L1288.2 252.4 L1289.4 254.1 L1290.6 255.7 L1291.7 257.3 L1292.9 258.9 L1294.1 260.6 L1295.3 262.2 L1296.5 263.8 L1297.6 265.4 L1298.8 267.1 L1300.0 268.7 L1301.2 270.3 L1302.4 271.9 L1303.6 273.5 L1304.8 275.1 L1306.0 276.7 L1307.2 278.4 L1308.4 280.0 L1309.6 281.6 L1310.9 283.2 L1312.1 284.8 L1313.3 286.4 L1314.5 288.0 L1315.7 289.6 L1317.0 291.1 L1318.2 292.7 L1319.4 294.3 L1320.7 295.9 L1321.9 297.5 L1323.2 299.1 L1324.4 300.6 L1325.6 302.2 L1326.9 303.8 L1328.2 305.4 L1329.4 306.9 L1330.7 308.5 L1331.9 310.0 L1333.2 311.6 L1334.5 313.1 L1335.7 314.7 L1337.0 316.2 L1338.3 317.8 L1339.6 319.3 L1340.9 320.9 L1342.2 322.4 L1343.5 323.9 L1344.8 325.5 L1346.1 327.0 L1347.4 328.5 L1348.7 330.0 L1350.0 331.5 L1351.3 333.0 L1352.6 334.6 L1353.9 336.1 L1355.3 337.6 L1356.6 339.0 L1357.9 340.5 L1359.3 342.0 L1360.6 343.5 L1362.0 345.0 L1363.3 346.5 L1364.7 347.9 L1366.0 349.4 L1367.4 350.9 L1368.8 352.3 L1370.1 353.8 L1371.5 355.2 L1372.9 356.7 L1374.3 358.1 L1375.6 359.5 L1377.0 361.0 L1378.4 362.4 L1379.8 363.8 L1381.2 365.2 L1382.6 366.6 L1384.1 368.1 L1385.5 369.5 L1386.9 370.9 L1388.3 372.2 L1389.7 373.6 L1391.2 375.0 L1392.6 376.4 L1394.1 377.8 L1395.5 379.1 L1397.0 380.5 L1398.4 381.9 L1399.9 383.2 L1401.4 384.5 L1402.8 385.9 L1404.3 387.2 L1405.8 388.6 L1407.3 389.9 L1408.8 391.2 L1410.3 392.5 L1411.8 393.8 L1413.3 395.1 L1414.8 396.4 L1416.3 397.7 L1417.8 399.0 L1419.3 400.3 L1420.9 401.5 L1422.4 402.8 L1424.0 404.0 L1425.5 405.3 L1427.1 406.5 L1428.6 407.8 L1430.2 409.0 L1431.7 410.2 L1433.3 411.5 L1434.9 412.7 L1436.5 413.9 L1438.1 415.1 L1439.7 416.3 L1441.3 417.5 L1442.9 418.6 L1444.5 419.8 L1446.1 421.0 L1447.7 422.1 L1449.4 423.3 L1451.0 424.4 L1452.6 425.6 L1454.3 426.7 L1455.9 427.8 L1457.6 429.0 L1459.2 430.1 L1460.9 431.2 L1462.6 432.3 L1464.2 433.4 L1465.9 434.5 L1467.6 435.5 L1469.3 436.6 L1471.0 437.7 L1472.7 438.7 L1474.4 439.8 L1476.1 440.8 L1477.8 441.9 L1479.5 442.9 L1481.2 443.9 L1483.0 445.0 L1484.7 446.0 L1486.4 447.0 L1488.2 448.0 L1489.9 449.0 L1491.7 450.0 L1493.4 450.9 L1495.2 451.9 L1496.9 452.9 L1498.7 453.8 L1500.4 454.8 L1502.2 455.7 L1504.0 456.7 L1505.8 457.6 L1507.5 458.5 L1509.3 459.5 L1511.1 460.4 L1512.9 461.3 L1514.7 462.2 L1516.5 463.1 L1518.3 464.0 L1520.1 464.9 L1521.9 465.7 L1523.7 466.6 L1525.6 467.5 L1527.4 468.3 L1529.2 469.2 L1531.0 470.0 L1532.8 470.8 L1534.7 471.7 L1536.5 472.5 L1538.4 473.3 L1540.2 474.1 L1542.0 474.9 L1543.9 475.7 L1545.7 476.5 L1547.6 477.3 L1549.4 478.1 L1551.3 478.8 L1553.2 479.6 L1555.0 480.4 L1556.9 481.1 L1558.7 481.9 L1560.6 482.6 L1562.5 483.3 L1564.4 484.0 L1566.2 484.8 L1568.1 485.5 L1570.0 486.2 L1571.9 486.9 L1573.8 487.6 L1575.6 488.3 L1577.5 488.9 L1579.4 489.6 L1581.3 490.3 L1583.2 490.9 L1585.1 491.6 L1587.0 492.2 L1588.9 492.9 L1590.8 493.5 L1592.7 494.1 L1594.6 494.8 L1596.5 495.4 L1598.4 496.0 L1600.3 496.6 L1602.2 497.2 L1604.2 497.8 L1606.1 498.3 L1608.0 498.9 L1609.9 499.5 L1611.8 500.1 L1613.7 500.6 L1615.6 501.2 L1617.6 501.7 L1619.5 502.2 L1621.4 502.8 L1623.3 503.3 L1625.3 503.8 L1627.2 504.3 L1629.1 504.8 L1631.0 505.3 L1632.9 505.8 L1634.9 506.3 L1636.8 506.8 L1638.7 507.3 L1640.7 507.7 L1642.6 508.2 L1644.5 508.7 L1646.4 509.1 L1648.4 509.5 L1650.3 510.0 L1652.2 510.4 L1654.2 510.8 L1656.1 511.2 L1658.0 511.7 L1660.0 513.0 L1658.8 514.7 L1657.5 516.2 L1656.1 517.6 L1654.7 519.1 L1653.3 520.5 L1651.8 521.9 L1650.4 523.3 L1649.0 524.7 L1647.5 526.1 L1646.1 527.5 L1644.6 528.8 L1643.1 530.1 L1641.6 531.5 L1640.1 532.8 L1638.6 534.1 L1637.1 535.3 L1635.5 536.6 L1634.0 537.8 L1632.4 539.1 L1630.9 540.3 L1629.3 541.5 L1627.7 542.7 L1626.1 543.9 L1624.5 545.1 L1622.9 546.3 L1621.3 547.4 L1619.7 548.5 L1618.0 549.7 L1616.4 550.8 L1614.8 551.9 L1613.1 553.0 L1611.4 554.1 L1609.8 555.2 L1608.1 556.2 L1606.4 557.3 L1604.7 558.3 L1603.0 559.4 L1601.3 560.4 L1599.6 561.4 L1597.9 562.4 L1596.2 563.4 L1594.4 564.4 L1592.7 565.4 L1590.9 566.4 L1589.2 567.3 L1587.4 568.3 L1585.7 569.2 L1583.9 570.2 L1582.2 571.1 L1580.4 572.0 L1578.6 573.0 L1576.8 573.9 L1575.0 574.8 L1573.2 575.7 L1571.4 576.6 L1569.6 577.4 L1567.8 578.3 L1566.0 579.2 L1564.2 580.1 L1562.4 580.9 L1560.6 581.8 L1558.7 582.6 L1556.9 583.5 L1555.1 584.3 L1553.3 585.2 L1551.4 586.0 L1549.6 586.8 L1547.7 587.6 L1545.9 588.5 L1544.1 589.3 L1542.2 590.1 L1540.4 590.9 L1538.5 591.7 L1536.7 592.5 L1534.8 593.3 L1533.0 594.1 L1531.1 594.9 L1529.3 595.7 L1527.4 596.5 L1525.5 597.3 L1523.7 598.0 L1521.8 598.8 L1520.0 599.6 L1518.1 600.4 L1516.3 601.2 L1514.4 601.9 L1512.5 602.7 L1510.7 603.5 L1508.8 604.3 L1507.0 605.0 L1505.1 605.8 L1503.3 606.6 L1501.4 607.4 L1499.5 608.1 L1497.7 608.9 L1495.8 609.7 L1494.0 610.4 L1492.1 611.2 L1490.3 612.0 L1488.4 612.7 L1486.6 613.5 L1484.7 614.2 L1482.8 615.0 L1481.0 615.8 L1479.1 616.5 L1477.3 617.3 L1475.4 618.1 L1473.6 618.8 L1471.7 619.6 L1469.9 620.3 L1468.0 621.1 L1466.2 621.8 L1464.3 622.6 L1462.4 623.3 L1460.6 624.1 L1458.7 624.8 L1456.9 625.6 L1455.0 626.3 L1453.2 627.1 L1451.3 627.8 L1449.5 628.6 L1447.6 629.3 L1445.8 630.1 L1443.9 630.8 L1442.0 631.6 L1440.2 632.3 L1438.3 633.1 L1436.5 633.8 L1434.6 634.6 L1432.8 635.3 L1430.9 636.0 L1429.1 636.8 L1427.2 637.5 L1425.4 638.3 L1423.5 639.0 L1421.6 639.7 L1419.8 640.5 L1417.9 641.2 L1416.1 641.9 L1414.2 642.7 L1412.4 643.4 L1410.5 644.2 L1408.6 644.9 L1406.8 645.6 L1404.9 646.4 L1403.1 647.1 L1401.2 647.8 L1399.3 648.5 L1397.5 649.3 L1395.6 650.0 L1393.8 650.7 L1391.9 651.5 L1390.0 652.2 L1388.2 652.9 L1386.3 653.7 L1384.5 654.4 L1382.6 655.1 L1380.7 655.8 L1378.9 656.6 L1377.0 657.3 L1375.1 658.0 L1373.3 658.7 L1371.4 659.5 L1369.5 660.2 L1367.7 660.9 L1365.8 661.6 L1363.9 662.4 L1362.1 663.1 L1360.2 663.8 L1358.3 664.5 L1356.5 665.2 L1354.6 666.0 L1352.7 666.7 L1350.9 667.4 L1349.0 668.1 L1347.1 668.9 L1345.2 669.6 L1343.4 670.3 L1341.5 671.0 L1339.6 671.7 L1337.8 672.4 L1335.9 673.2 L1334.0 673.9 L1332.1 674.6 L1330.3 675.3 L1328.4 676.0 L1326.5 676.8 L1324.6 677.5 L1322.7 678.2 L1320.9 678.9 L1319.0 679.7 L1317.1 680.4 L1315.2 681.1 L1313.4 681.8 L1311.5 682.5 L1309.6 683.3 L1307.7 684.0 L1305.9 684.7 L1304.0 685.5 L1302.1 686.2 L1300.2 686.9 L1298.4 687.7 L1296.5 688.4 L1294.6 689.1 L1292.8 689.9 L1290.9 690.6 L1289.0 691.3 L1287.1 692.1 L1285.3 692.8 L1283.4 693.6 L1281.5 694.3 L1279.7 695.1 L1277.8 695.8 L1275.9 696.6 L1274.1 697.3 L1272.2 698.1 L1270.4 698.9 L1268.5 699.6 L1266.6 700.4 L1264.8 701.2 L1262.9 701.9 L1261.1 702.7 L1259.2 703.5 L1257.4 704.3 L1255.5 705.0 L1253.7 705.8 L1251.8 706.6 L1250.0 707.4 L1248.1 708.2 L1246.3 709.0 L1244.4 709.8 L1242.6 710.6 L1240.8 711.4 L1238.9 712.2 L1237.1 713.0 L1235.3 713.8 L1233.4 714.7 L1231.6 715.5 L1229.8 716.3 L1228.0 717.1 L1226.1 718.0 L1224.3 718.8 L1222.5 719.7 L1220.7 720.5 L1218.9 721.4 L1217.1 722.2 L1215.3 723.1 L1213.5 723.9 L1211.7 724.8 L1209.9 725.7 L1208.1 726.6 L1206.3 727.5 L1204.5 728.3 L1202.7 729.2 L1200.9 730.1 L1199.1 731.0 L1197.3 731.9 L1195.5 732.8 L1193.8 733.8 L1192.0 734.7 L1190.2 735.6 L1188.5 736.5 L1186.7 737.5 L1184.9 738.4 L1183.2 739.4 L1181.4 740.3 L1179.7 741.3 L1177.9 742.3 L1176.2 743.2 L1174.4 744.2 L1172.7 745.2 L1171.0 746.2 L1169.2 747.2 L1167.5 748.2 L1165.8 749.2 L1164.1 750.2 L1162.3 751.2 L1160.6 752.2 L1158.9 753.3 L1157.2 754.3 L1155.5 755.3 L1153.8 756.4 L1152.1 757.4 L1150.4 758.5 L1148.7 759.6 L1147.1 760.6 L1145.4 761.7 L1143.7 762.8 L1142.0 763.9 L1140.4 765.0 L1138.7 766.1 L1137.0 767.2 L1135.4 768.3 L1133.7 769.4 L1132.1 770.6 L1130.4 771.7 L1128.8 772.8 L1127.1 774.0 L1125.5 775.1 L1123.9 776.3 L1122.2 777.4 L1120.6 778.6 L1119.0 779.8 L1117.4 780.9 L1115.8 782.1 L1114.1 783.3 L1112.5 784.5 L1110.9 785.7 L1109.3 786.9 L1107.7 788.1 L1106.2 789.3 L1104.6 790.5 L1103.0 791.7 L1101.4 792.9 L1099.8 794.1 L1098.2 795.4 L1096.7 796.6 L1095.1 797.8 L1093.5 799.1 L1092.0 800.3 L1090.4 801.6 L1088.9 802.8 L1087.3 804.1 L1085.8 805.4 L1084.3 806.6 L1082.7 807.9 L1081.2 809.2 L1079.7 810.5 L1078.1 811.8 L1076.6 813.1 L1075.1 814.3 L1073.6 815.6 L1072.1 817.0 L1070.6 818.3 L1069.1 819.6 L1067.6 820.9 L1066.1 822.2 L1064.6 823.5 L1063.1 824.9 L1061.6 826.2 L1060.1 827.5 L1058.6 828.9 L1057.2 830.2 L1055.7 831.6 L1054.2 832.9 L1052.8 834.3 L1051.3 835.7 L1049.8 837.0 L1048.4 838.4 L1046.9 839.8 L1045.5 841.1 L1044.0 842.5 L1042.6 843.9 L1041.2 845.3 L1039.7 846.7 L1038.3 848.1 L1036.9 849.5 L1035.5 850.9 L1034.0 852.3 L1032.6 853.8 L1031.2 855.2 L1029.8 856.6 L1028.4 858.0 L1027.0 859.5 L1025.6 860.9 L1024.2 862.4 L1022.8 863.8 L1021.4 865.2 L1020.1 866.7 L1018.7 868.2 L1017.3 869.6 L1015.9 871.1 L1014.6 872.6 L1013.2 874.0 L1011.8 875.5 L1010.5 877.0 L1009.1 878.5 L1007.7 880.0 L1006.4 881.4 L1005.0 882.9 L1003.7 884.4 L1002.3 885.9 L1001.0 887.4 L999.6 888.9 L998.3 890.4 L996.9 891.9 L995.6 893.4 L994.3 894.9 L992.9 896.4 L991.6 898.0 L990.2 899.5 L988.9 901.0 L987.6 902.5 L986.2 904.0 L984.9 905.5 L983.6 907.0 L982.2 908.5 L980.9 910.1 L979.6 911.6 L978.2 913.1 L976.9 914.6 L975.6 916.1 L974.2 917.6 L972.9 919.1 L971.5 920.6 L970.2 922.2 L968.9 923.7 L967.5 925.2 L966.2 926.7 L964.9 928.2 L963.5 929.7 L962.2 931.2 L960.8 932.7 L959.5 934.2 L958.1 935.7 L956.8 937.2 L955.4 938.7 L954.1 940.2 L952.7 941.7 L951.4 943.2 L950.0 944.6 L948.6 946.1 L947.3 947.6 L945.9 949.1 L944.5 950.5 L943.2 952.0 L941.8 953.5 L940.4 954.9 L939.0 956.4 L937.6 957.8 L936.2 959.3 L934.8 960.7 L933.4 962.2 L932.0 963.6 L930.6 965.0 L929.2 966.5 L927.8 967.9 L926.4 969.3 L925.0 970.7 L923.5 972.1 L922.1 973.5 L920.7 974.9 L919.2 976.3 L917.8 977.7 L916.3 979.1 L914.9 980.4 L913.4 981.8 L912.0 983.2 L910.5 984.5 L909.0 985.9 L907.5 987.2 L906.0 988.5 L904.5 989.9 L903.0 991.2 L901.5 992.5 L900.0 993.8 L898.5 995.1 L897.0 996.4 L895.4 997.6 L893.9 998.9 L892.4 1000.2 L890.8 1001.4 L889.2 1002.7 L887.7 1003.9 L886.1 1005.2 L884.5 1006.4 L882.9 1007.6 L881.3 1008.8 L879.7 1010.0 L878.1 1011.2 L876.5 1012.3 L874.9 1013.5 L873.3 1014.6 L871.6 1015.8 L870.0 1016.9 L868.4 1018.0 L866.7 1019.1 L865.0 1020.2 L863.4 1021.3 L861.7 1022.3 L860.0 1023.4 L858.3 1024.4 L856.6 1025.4 L854.9 1026.5 L853.2 1027.5 L851.5 1028.4 L849.8 1029.4 L848.0 1030.4 L846.3 1031.3 L844.5 1032.2 L842.8 1033.1 L841.0 1034.0 L839.2 1034.9 L837.5 1035.7 L835.7 1036.6 L833.9 1037.4 L832.1 1038.2 L830.3 1039.0 L828.5 1039.8 L826.6 1040.5 L824.8 1041.3 L823.0 1042.0 L821.1 1042.7 L819.3 1043.4 L817.4 1044.1 L815.6 1044.7 L813.7 1045.4 L811.8 1046.0 L809.9 1046.6 L808.0 1047.2 L806.2 1047.8 L804.3 1048.3 L802.3 1048.9 L800.4 1049.4 L798.5 1049.9 L796.6 1050.4 L794.7 1050.9 L792.7 1051.4 L790.8 1051.9 L788.9 1052.3 L786.9 1052.7 L785.0 1053.2 L783.0 1053.6 L781.1 1054.0 L779.1 1054.4 L777.2 1054.7 L775.2 1055.1 L773.2 1055.4 L771.2 1055.8 L769.3 1056.1 L767.3 1056.4 L765.3 1056.7 L763.3 1057.0 L761.3 1057.3 L759.3 1057.5 L757.4 1057.8 L755.4 1058.0 L753.4 1058.3 L751.4 1058.5 L749.4 1058.7 L747.4 1058.9 L745.4 1059.1 L743.4 1059.3 L741.4 1059.5 L739.4 1059.6 L737.3 1059.8 L735.3 1060.0 L733.3 1060.1 L731.3 1060.2 L729.3 1060.4 L727.3 1060.5 L725.3 1060.6 L723.3 1060.7 L721.3 1060.8 L719.2 1060.9 L717.2 1061.0 L715.2 1061.1 L713.2 1061.1 L711.2 1061.2 L709.2 1061.3 L707.1 1061.3 L705.1 1061.4 L703.1 1061.4 L701.1 1061.5 L699.1 1061.5 L697.1 1061.5 L695.0 1061.5 L693.0 1061.6 L691.0 1061.6 L689.0 1061.6 L687.0 1061.6 L684.9 1061.6 L682.9 1061.6 L680.9 1061.6 L678.9 1061.6 L676.8 1061.6 L674.8 1061.6 L672.8 1061.6 L670.8 1061.6 L668.8 1061.6 L666.7 1061.5 L664.7 1061.5 L662.7 1061.5 L660.7 1061.5 L658.7 1061.5 L656.7 1061.4 L654.6 1061.4 L652.6 1061.4 L650.6 1061.4 L648.6 1061.4 L646.6 1061.3 L644.6 1061.3 L642.5 1061.3 L640.5 1061.3 L638.5 1061.3 L636.5 1061.2 L634.5 1061.2 L632.5 1061.2 L630.5 1061.2 L628.5 1061.2 L626.5 1061.2 L624.5 1061.2 L622.4 1061.1 L620.4 1061.1 L618.4 1061.1 L616.4 1061.1 L614.4 1061.1 L612.4 1061.1 L610.4 1061.1 L608.4 1061.1 L606.4 1061.1 L604.4 1061.1 L602.4 1061.1 L600.4 1061.1 L598.4 1061.1 L596.4 1061.1 L594.4 1061.1 L592.4 1061.1 L590.4 1061.1 L588.4 1061.1 L586.4 1061.1 L584.4 1061.1 L582.4 1061.1 L580.4 1061.1 L578.4 1061.1 L576.4 1061.1 L574.4 1061.2 L572.4 1061.2 L570.4 1061.2 L568.4 1061.2 L566.4 1061.2 L564.4 1061.2 L562.4 1061.2 L560.4 1061.2 L558.4 1061.2 L556.4 1061.2 L554.4 1061.2 L552.4 1061.3 L550.4 1061.3 L548.5 1061.3 L546.5 1061.3 L544.5 1061.3 L542.5 1061.3 L540.5 1061.3 L538.5 1061.3 L536.5 1061.3 L534.5 1061.3 L532.5 1061.3 L530.5 1061.4 L528.5 1061.4 L526.5 1061.4 L524.5 1061.4 L522.5 1061.4 L520.5 1061.4 L518.5 1061.4 L516.5 1061.4 L514.4 1061.4 L512.4 1061.4 L510.4 1061.4 L508.4 1061.5 L506.4 1061.5 L504.4 1061.5 L502.4 1061.5 L500.4 1061.5 L498.4 1061.5 L496.4 1061.5 L494.4 1061.5 L492.4 1061.5 L490.4 1061.5 L488.4 1061.5 L486.4 1061.5 L484.4 1061.5 L482.4 1061.5 L480.4 1061.5 L478.4 1061.5 L476.4 1061.5 L474.4 1061.6 L472.4 1061.6 L470.4 1061.6 L468.3 1061.6 L466.3 1061.6 L464.3 1061.6 L462.3 1061.6 L460.3 1061.6 L458.3 1061.6 L456.3 1061.6 L454.3 1061.6 L452.3 1061.6 L450.3 1061.6 L448.3 1061.6 L446.3 1061.6 L444.3 1061.6 L442.3 1061.6 L440.3 1061.5 L438.3 1061.5 L436.2 1061.5 L434.2 1061.5 L432.2 1061.5 L430.2 1061.5 L428.2 1061.5 L426.2 1061.5 L424.2 1061.5 L422.2 1061.5 L420.2 1061.5 L418.2 1061.5 L416.2 1061.5 L414.2 1061.5 L412.2 1061.4 L410.2 1061.4 L408.1 1061.4 L406.1 1061.4 L404.1 1061.4 L402.1 1061.4 L400.1 1061.4 L398.1 1061.4 L396.1 1061.3 L394.1 1061.3 L392.1 1061.3 L390.1 1061.3 L388.1 1061.3 L386.1 1061.2 L384.1 1061.2 L382.1 1061.2 L380.1 1061.2 L378.0 1061.2 L376.0 1061.1 L374.0 1061.1 L372.0 1061.1 L370.0 1061.1 L368.0 1061.0 L366.0 1061.0 L364.0 1061.0 L362.0 1061.0 L360.0 1060.9 L358.0 1060.9 L356.0 1060.9 L354.0 1060.8 L352.0 1061.0" fill="none" stroke="#0f0" stroke-width="8.5" stroke-linejoin="round" stroke-linecap="round"/>
<path d="M352.5 1086.5 L353.2 1084.5 L354.0 1082.5 L354.7 1080.5 L355.4 1078.5 L356.1 1076.5 L356.8 1074.4 L357.5 1072.4 L358.2 1070.4 L358.9 1068.4 L359.6 1066.4 L360.3 1064.3 L361.1 1062.3 L361.8 1060.3 L362.6 1058.3 L363.4 1056.4 L364.2 1054.4 L365.1 1052.4 L366.0 1050.5 L367.6 1048.5 L369.6 1048.3 L371.6 1048.2 L373.7 1048.0 L375.7 1047.8 L377.7 1047.7 L379.7 1047.5 L381.7 1047.4 L383.7 1047.3 L385.7 1047.1 L387.7 1047.0 L389.7 1046.8 L391.7 1046.7 L393.7 1046.6 L395.7 1046.5 L397.7 1046.3 L399.7 1046.2 L401.8 1046.1 L403.8 1046.0 L405.8 1045.9 L407.8 1045.7 L409.8 1045.6 L411.8 1045.5 L413.8 1045.4 L415.8 1045.3 L417.8 1045.2 L419.8 1045.1 L421.8 1045.0 L423.8 1044.9 L425.8 1044.8 L427.8 1044.7 L429.8 1044.6 L431.8 1044.5 L433.8 1044.5 L435.8 1044.4 L437.8 1044.3 L439.8 1044.2 L441.8 1044.1 L443.8 1044.1 L445.8 1044.0 L447.8 1043.9 L449.8 1043.8 L451.8 1043.8 L453.8 1043.7 L455.8 1043.6 L457.8 1043.6 L459.8 1043.5 L461.8 1043.4 L463.8 1043.4 L465.8 1043.3 L467.8 1043.3 L469.8 1043.2 L471.8 1043.1 L473.8 1043.1 L475.8 1043.0 L477.8 1043.0 L479.7 1042.9 L481.7 1042.9 L483.7 1042.8 L485.7 1042.8 L487.7 1042.7 L489.7 1042.7 L491.7 1042.6 L493.7 1042.6 L495.7 1042.6 L497.7 1042.5 L499.7 1042.5 L501.7 1042.4 L503.7 1042.4 L505.7 1042.4 L507.7 1042.3 L509.7 1042.3 L511.7 1042.3 L513.7 1042.2 L515.7 1042.2 L517.7 1042.2 L519.7 1042.1 L521.7 1042.1 L523.7 1042.1 L525.7 1042.0 L527.7 1042.0 L529.7 1042.0 L531.7 1042.0 L533.7 1041.9 L535.7 1041.9 L537.7 1041.9 L539.7 1041.8 L541.7 1041.8 L543.7 1041.8 L545.7 1041.8 L547.7 1041.7 L549.7 1041.7 L551.7 1041.7 L553.7 1041.7 L555.7 1041.6 L557.7 1041.6 L559.7 1041.6 L561.7 1041.6 L563.7 1041.5 L565.7 1041.5 L567.7 1041.5 L569.7 1041.5 L571.7 1041.4 L573.7 1041.4 L575.7 1041.4 L577.7 1041.4 L579.7 1041.3 L581.7 1041.3 L583.7 1041.3 L585.7 1041.3 L587.7 1041.2 L589.7 1041.2 L591.8 1041.2 L593.8 1041.2 L595.8 1041.1 L597.8 1041.1 L599.8 1041.1 L601.8 1041.0 L603.8 1041.0 L605.8 1041.0 L607.8 1040.9 L609.8 1040.9 L611.8 1040.9 L613.9 1040.8 L615.9 1040.8 L617.9 1040.8 L619.9 1040.7 L621.9 1040.7 L623.9 1040.7 L625.9 1040.6 L628.0 1040.6 L630.0 1040.5 L632.0 1040.5 L634.0 1040.5 L636.0 1040.4 L638.0 1040.4 L640.1 1040.3 L642.1 1040.3 L644.1 1040.2 L646.1 1040.2 L648.1 1040.1 L650.2 1040.1 L652.2 1040.0 L654.2 1040.0 L656.2 1039.9 L658.2 1039.8 L660.3 1039.7 L662.3 1039.7 L664.3 1039.6 L666.3 1039.5 L668.3 1039.4 L670.3 1039.2 L672.3 1039.1 L674.3 1039.0 L676.3 1038.8 L678.3 1038.6 L680.3 1038.5 L682.3 1038.3 L684.3 1038.1 L686.3 1037.9 L688.3 1037.6 L690.3 1037.4 L692.3 1037.1 L694.3 1036.8 L696.2 1036.6 L698.2 1036.2 L700.2 1035.9 L702.1 1035.6 L704.1 1035.2 L706.0 1034.8 L708.0 1034.4 L709.9 1033.9 L711.9 1033.5 L713.8 1033.0 L715.7 1032.5 L717.6 1032.0 L719.5 1031.4 L721.4 1030.8 L723.3 1030.2 L725.2 1029.6 L727.1 1028.9 L728.9 1028.2 L730.8 1027.5 L732.6 1026.8 L734.4 1026.0 L736.2 1025.2 L738.0 1024.3 L739.7 1023.5 L741.5 1022.6 L743.2 1021.6 L745.0 1020.7 L746.7 1019.7 L748.4 1018.6 L750.0 1017.6 L751.7 1016.5 L753.3 1015.4 L754.9 1014.2 L756.5 1013.1 L758.1 1011.9 L759.7 1010.7 L761.2 1009.5 L762.7 1008.2 L764.2 1007.0 L765.7 1005.7 L767.2 1004.4 L768.6 1003.0 L770.1 1001.7 L771.5 1000.4 L772.9 999.0 L774.2 997.6 L775.6 996.2 L776.9 994.8 L778.2 993.3 L779.5 991.9 L780.8 990.4 L782.1 989.0 L783.3 987.5 L784.6 986.0 L785.8 984.4 L787.0 982.9 L788.2 981.4 L789.4 979.8 L790.5 978.2 L791.7 976.6 L792.8 975.0 L793.9 973.4 L795.0 971.8 L796.1 970.2 L797.2 968.5 L798.3 966.9 L799.3 965.2 L800.4 963.5 L801.4 961.9 L802.4 960.2 L803.4 958.5 L804.4 956.7 L805.4 955.0 L806.4 953.3 L807.3 951.6 L808.3 949.8 L809.2 948.1 L810.2 946.3 L811.1 944.5 L812.0 942.7 L812.9 941.0 L813.8 939.2 L814.7 937.4 L815.6 935.6 L816.5 933.8 L817.3 932.0 L818.2 930.1 L819.1 928.3 L819.9 926.5 L820.8 924.7 L821.6 922.8 L822.4 921.0 L823.3 919.2 L824.1 917.3 L824.9 915.5 L825.7 913.6 L826.5 911.8 L827.3 909.9 L828.1 908.0 L828.9 906.2 L829.7 904.3 L830.5 902.5 L831.3 900.6 L832.1 898.8 L832.9 896.9 L833.6 895.0 L834.4 893.2 L835.2 891.3 L836.0 889.4 L836.7 887.6 L837.5 885.7 L838.3 883.8 L839.0 882.0 L839.8 880.1 L840.6 878.2 L841.3 876.4 L842.1 874.5 L842.8 872.6 L843.6 870.8 L844.3 868.9 L845.1 867.0 L845.8 865.2 L846.6 863.3 L847.3 861.4 L848.0 859.5 L848.8 857.7 L849.5 855.8 L850.2 853.9 L851.0 852.1 L851.7 850.2 L852.4 848.3 L853.2 846.4 L853.9 844.6 L854.6 842.7 L855.3 840.8 L856.0 838.9 L856.7 837.0 L857.4 835.2 L858.2 833.3 L858.9 831.4 L859.6 829.5 L860.3 827.6 L861.0 825.8 L861.7 823.9 L862.4 822.0 L863.1 820.1 L863.8 818.2 L864.5 816.4 L865.1 814.5 L865.8 812.6 L866.5 810.7 L867.2 808.8 L867.9 806.9 L868.6 805.1 L869.3 803.2 L869.9 801.3 L870.6 799.4 L871.3 797.5 L872.0 795.6 L872.6 793.7 L873.3 791.8 L874.0 790.0 L874.6 788.1 L875.3 786.2 L876.0 784.3 L876.6 782.4 L877.3 780.5 L877.9 778.6 L878.6 776.7 L879.3 774.8 L879.9 772.9 L880.6 771.1 L881.2 769.2 L881.9 767.3 L882.5 765.4 L883.2 763.5 L883.8 761.6 L884.5 759.7 L885.1 757.8 L885.8 755.9 L886.4 754.0 L887.0 752.1 L887.7 750.2 L888.3 748.3 L888.9 746.4 L889.6 744.5 L890.2 742.6 L890.8 740.7 L891.5 738.8 L892.1 736.9 L892.7 735.0 L893.4 733.2 L894.0 731.3 L894.6 729.4 L895.2 727.5 L895.9 725.6 L896.5 723.7 L897.1 721.8 L897.7 719.9 L898.4 718.0 L899.0 716.1 L899.6 714.2 L900.2 712.3 L900.8 710.4 L901.4 708.5 L902.1 706.5 L902.7 704.6 L903.3 702.7 L903.9 700.8 L904.5 698.9 L905.1 697.0 L905.7 695.1 L906.3 693.2 L906.9 691.3 L907.5 689.4 L908.1 687.5 L908.7 685.6 L909.4 683.7 L910.0 681.8 L910.6 679.9 L911.2 678.0 L911.8 676.1 L912.4 674.2 L913.0 672.3 L913.6 670.4 L914.2 668.5 L914.8 666.6 L915.4 664.7 L916.0 662.8 L916.5 660.8 L917.1 658.9 L917.7 657.0 L918.3 655.1 L918.9 653.2 L919.5 651.3 L920.1 649.4 L920.7 647.5 L921.3 645.6 L921.9 643.7 L922.5 641.8 L923.1 639.9 L923.7 638.0 L924.3 636.1 L924.8 634.1 L925.4 632.2 L926.0 630.3 L926.6 628.4 L927.2 626.5 L927.8 624.6 L928.4 622.7 L929.0 620.8 L929.6 618.9 L930.1 617.0 L930.7 615.1 L931.3 613.1 L931.9 611.2 L932.5 609.3 L933.1 607.4 L933.7 605.5 L934.3 603.6 L934.8 601.7 L935.4 599.8 L936.0 597.9 L936.6 596.0 L937.2 594.1 L937.8 592.1 L938.4 590.2 L939.0 588.3 L939.5 586.4 L940.1 584.5 L940.7 582.6 L941.3 580.7 L941.9 578.8 L942.5 576.9 L943.1 575.0 L943.7 573.0 L944.2 571.1 L944.8 569.2 L945.4 567.3 L946.0 565.4 L946.6 563.5 L947.2 561.6 L947.8 559.7 L948.4 557.8 L948.9 555.9 L949.5 553.9 L950.1 552.0 L950.7 550.1 L951.3 548.2 L951.9 546.3 L952.5 544.4 L953.1 542.5 L953.7 540.6 L954.3 538.7 L954.9 536.8 L955.5 534.8 L956.1 532.9 L956.6 531.0 L957.2 529.1 L957.8 527.2 L958.4 525.3 L959.0 523.4 L959.6 521.5 L960.2 519.6 L960.8 517.7 L961.4 515.8 L962.0 513.8 L962.6 511.9 L963.2 510.0 L963.8 508.1 L964.4 506.2 L965.0 504.3 L965.6 502.4 L966.2 500.5 L966.8 498.6 L967.4 496.7 L968.1 494.8 L968.7 492.9 L969.3 490.9 L969.9 489.0 L970.5 487.1 L971.1 485.2 L971.7 483.3 L972.3 481.4 L972.9 479.5 L973.6 477.6 L974.2 475.7 L974.8 473.8 L975.4 471.9 L976.0 470.0 L976.6 468.1 L977.3 466.2 L977.9 464.3 L978.5 462.4 L979.1 460.5 L979.8 458.5 L980.4 456.6 L981.0 454.7 L981.6 452.8 L982.3 450.9 L982.9 449.0 L983.5 447.1 L984.2 445.2 L984.8 443.3 L985.4 441.4 L986.1 439.5 L986.7 437.6 L987.3 435.7 L988.0 433.8 L988.6 431.9 L989.3 430.0 L989.9 428.1 L990.5 426.2 L991.2 424.3 L991.8 422.4 L992.5 420.5 L993.1 418.6 L993.8 416.7 L994.4 414.8 L995.1 412.9 L995.8 411.0 L996.4 409.1 L997.1 407.2 L997.7 405.3 L998.4 403.4 L999.1 401.5 L999.7 399.6 L1000.4 397.7 L1001.1 395.8 L1001.7 393.9 L1002.4 392.0 L1003.1 390.1 L1003.7 388.2 L1004.4 386.3 L1005.1 384.4 L1005.8 382.6 L1006.5 380.7 L1007.1 378.8 L1007.8 376.9 L1008.5 375.0 L1009.2 373.1 L1009.9 371.2 L1010.6 369.3 L1011.3 367.4 L1011.9 365.5 L1012.6 363.6 L1013.3 361.7 L1014.0 359.9 L1014.7 358.0 L1015.4 356.1 L1016.1 354.2 L1016.8 352.3 L1017.5 350.4 L1018.2 348.5 L1018.9 346.6 L1019.6 344.8 L1020.3 342.9 L1021.0 341.0 L1021.7 339.1 L1022.4 337.2 L1023.1 335.3 L1023.8 333.4 L1024.5 331.6 L1025.2 329.7 L1025.9 327.8 L1026.6 325.9 L1027.3 324.0 L1028.0 322.2 L1028.7 320.3 L1029.4 318.4 L1030.1 316.5 L1030.8 314.6 L1031.6 312.8 L1032.3 310.9 L1033.0 309.0 L1033.7 307.1 L1034.4 305.3 L1035.1 303.4 L1035.8 301.5 L1036.5 299.6 L1037.2 297.8 L1037.9 295.9 L1038.6 294.0 L1039.3 292.1 L1040.1 290.3 L1040.8 288.4 L1041.5 286.5 L1042.2 284.7 L1042.9 282.8 L1043.6 280.9 L1044.3 279.1 L1045.0 277.2 L1045.7 275.3 L1046.4 273.5 L1047.1 271.6 L1047.8 269.7 L1048.5 267.9 L1049.2 266.0 L1049.9 264.2 L1050.6 262.3 L1051.3 260.4 L1052.0 258.6 L1052.7 256.7 L1053.4 254.9 L1054.1 253.0 L1054.8 251.2 L1055.5 249.3 L1056.2 247.4 L1056.9 245.6 L1057.6 243.7 L1058.3 241.9 L1059.0 240.0 L1059.7 238.2 L1060.4 236.3 L1061.1 234.4 L1061.8 232.6 L1062.5 230.7 L1063.2 228.9 L1063.9 227.0 L1064.6 225.1 L1065.3 223.3 L1066.0 221.4 L1066.7 219.6 L1067.3 217.7 L1068.0 215.8 L1068.7 214.0 L1069.4 212.1 L1070.1 210.2 L1070.8 208.4 L1071.5 206.5 L1072.2 204.6 L1072.9 202.7 L1073.6 200.9 L1074.3 199.0 L1074.9 197.1 L1075.6 195.2 L1076.3 193.3 L1077.0 191.5 L1077.8 189.6 L1078.5 187.7 L1079.2 185.8 L1079.9 183.9 L1080.7 182.1 L1081.4 180.2 L1082.2 178.3 L1082.9 176.5 L1083.7 174.6 L1084.5 172.7 L1085.3 170.9 L1086.2 169.0 L1087.0 167.2 L1087.9 165.4 L1088.8 163.5 L1089.7 161.7 L1090.6 159.9 L1091.6 158.1 L1092.5 156.2 L1093.5 154.4 L1094.5 152.7 L1095.6 150.9 L1096.7 149.1 L1097.8 147.3 L1098.9 145.6 L1100.0 143.9 L1101.2 142.1 L1102.4 140.4 L1103.6 138.8 L1104.9 137.1 L1106.2 135.5 L1107.5 133.9 L1108.8 132.3 L1110.2 130.8 L1111.6 129.3 L1113.0 127.8 L1114.4 126.4 L1115.9 125.0 L1117.4 123.6 L1118.9 122.3 L1120.5 121.1 L1122.0 119.9 L1123.6 118.7 L1125.3 117.6 L1126.9 116.5 L1128.6 115.5 L1130.3 114.6 L1132.1 113.7 L1133.8 112.9 L1135.6 112.1 L1137.4 111.4 L1139.3 110.8 L1141.1 110.2 L1143.0 109.7 L1144.9 109.3 L1146.8 108.9 L1148.7 108.6 L1150.7 108.3 L1152.6 108.2 L1154.6 108.0 L1156.5 108.0 L1158.5 108.0 L1160.4 108.1 L1162.4 108.2 L1164.4 108.5 L1166.3 108.7 L1168.3 109.1 L1170.2 109.5 L1172.1 110.0 L1174.0 110.5 L1175.9 111.1 L1177.8 111.7 L1179.7 112.4 L1181.6 113.1 L1183.5 113.9 L1185.3 114.7 L1187.1 115.5 L1188.9 116.4 L1190.7 117.3 L1192.5 118.3 L1194.2 119.3 L1196.0 120.3 L1197.7 121.3 L1199.3 122.3 L1201.0 123.4 L1202.7 124.5 L1204.3 125.6 L1205.9 126.8 L1207.5 128.0 L1209.1 129.1 L1210.6 130.4 L1212.2 131.6 L1213.7 132.9 L1215.2 134.1 L1216.7 135.4 L1218.2 136.7 L1219.7 138.1 L1221.2 139.4 L1222.6 140.8 L1224.1 142.2 L1225.5 143.6 L1226.9 145.0 L1228.3 146.4 L1229.7 147.8 L1231.1 149.3 L1232.4 150.8 L1233.8 152.2 L1235.2 153.7 L1236.5 155.2 L1237.9 156.7 L1239.2 158.2 L1240.5 159.8 L1241.8 161.3 L1243.2 162.8 L1244.5 164.4 L1245.8 166.0 L1247.1 167.5 L1248.4 169.1 L1249.7 170.6 L1250.9 172.2 L1252.2 173.8 L1253.5 175.4 L1254.8 177.0 L1256.1 178.6 L1257.3 180.1 L1258.6 181.7 L1259.9 183.3 L1261.2 184.9 L1262.5 186.5 L1263.7 188.1 L1265.0 189.6 L1266.3 191.2 L1267.6 192.8 L1268.9 194.4 L1270.2 195.9 L1271.4 197.5 L1272.7 199.1 L1274.0 200.7 L1275.3 202.2 L1276.6 203.8 L1277.9 205.4 L1279.2 206.9 L1280.5 208.5 L1281.8 210.0 L1283.1 211.6 L1284.4 213.2 L1285.7 214.7 L1287.0 216.3 L1288.3 217.8 L1289.6 219.3 L1290.9 220.9 L1292.2 222.4 L1293.5 224.0 L1294.8 225.5 L1296.1 227.0 L1297.4 228.6 L1298.7 230.1 L1300.1 231.6 L1301.4 233.1 L1302.7 234.7 L1304.0 236.2 L1305.4 237.7 L1306.7 239.2 L1308.0 240.7 L1309.4 242.2 L1310.7 243.7 L1312.0 245.2 L1313.4 246.7 L1314.7 248.2 L1316.1 249.7 L1317.4 251.2 L1318.8 252.7 L1320.1 254.1 L1321.5 255.6 L1322.8 257.1 L1324.2 258.6 L1325.6 260.0 L1326.9 261.5 L1328.3 262.9 L1329.7 264.4 L1331.0 265.8 L1332.4 267.3 L1333.8 268.7 L1335.2 270.2 L1336.6 271.6 L1338.0 273.0 L1339.4 274.5 L1340.8 275.9 L1342.2 277.3 L1343.6 278.7 L1345.0 280.1 L1346.4 281.5 L1347.8 282.9 L1349.2 284.3 L1350.6 285.7 L1352.1 287.1 L1353.5 288.5 L1354.9 289.9 L1356.4 291.2 L1357.8 292.6 L1359.3 294.0 L1360.7 295.3 L1362.2 296.7 L1363.6 298.0 L1365.1 299.4 L1366.5 300.7 L1368.0 302.0 L1369.5 303.4 L1371.0 304.7 L1372.4 306.0 L1373.9 307.3 L1375.4 308.6 L1376.9 309.9 L1378.4 311.2 L1379.9 312.5 L1381.4 313.8 L1382.9 315.1 L1384.5 316.4 L1386.0 317.6 L1387.5 318.9 L1389.0 320.2 L1390.6 321.4 L1392.1 322.7 L1393.7 323.9 L1395.2 325.1 L1396.8 326.4 L1398.3 327.6 L1399.9 328.8 L1401.5 330.0 L1403.0 331.2 L1404.6 332.4 L1406.2 333.6 L1407.8 334.8 L1409.4 336.0 L1411.0 337.1 L1412.6 338.3 L1414.2 339.4 L1415.8 340.6 L1417.5 341.7 L1419.1 342.9 L1420.7 344.0 L1422.4 345.1 L1424.0 346.3 L1425.7 347.4 L1427.3 348.5 L1429.0 349.6 L1430.7 350.7 L1432.3 351.7 L1434.0 352.8 L1435.7 353.9 L1437.4 355.0 L1439.1 356.0 L1440.8 357.1 L1442.5 358.1 L1444.3 359.1 L1446.0 360.2 L1447.7 361.2 L1449.4 362.2 L1451.2 363.2 L1452.9 364.2 L1454.7 365.2 L1456.5 366.1 L1458.2 367.1 L1460.0 368.1 L1461.8 369.0 L1463.6 369.9 L1465.3 370.9 L1467.1 371.8 L1468.9 372.7 L1470.7 373.6 L1472.5 374.5 L1474.4 375.4 L1476.2 376.2 L1478.0 377.1 L1479.8 378.0 L1481.7 378.8 L1483.5 379.6 L1485.3 380.4 L1487.2 381.3 L1489.0 382.0 L1490.9 382.8 L1492.7 383.6 L1494.6 384.4 L1496.5 385.1 L1498.3 385.8 L1500.2 386.6 L1502.1 387.3 L1504.0 388.0 L1505.9 388.7 L1507.8 389.3 L1509.7 390.0 L1511.6 390.7 L1513.5 391.3 L1515.4 391.9 L1517.3 392.5 L1519.2 393.1 L1521.1 393.7 L1523.0 394.3 L1524.9 394.8 L1526.9 395.4 L1528.8 395.9 L1530.7 396.4 L1532.7 396.9 L1534.6 397.4 L1536.5 397.8 L1538.5 398.3 L1540.4 398.7 L1542.4 399.2 L1544.3 399.6 L1546.3 399.9 L1548.2 400.3 L1550.2 400.7 L1552.2 401.0 L1554.1 401.3 L1556.1 401.7 L1558.0 401.9 L1560.0 402.2 L1562.0 402.5 L1564.0 402.7 L1565.9 403.0 L1567.9 403.2 L1569.9 403.3 L1571.9 403.5 L1573.8 403.7 L1575.8 403.8 L1577.8 403.9 L1579.8 404.0 L1581.8 404.1 L1583.8 404.2 L1585.8 404.2 L1587.8 404.3 L1589.7 404.3 L1591.7 404.3 L1593.7 404.2 L1595.7 404.2 L1597.7 404.1 L1599.7 404.0 L1601.7 403.9 L1603.7 403.8 L1605.7 403.6 L1607.7 403.5 L1609.7 403.3 L1611.7 403.1 L1613.7 402.8 L1615.7 402.6 L1617.7 402.3 L1619.7 402.0 L1621.7 401.7 L1623.7 401.4 L1625.7 401.0 L1627.7 400.6 L1629.7 400.2 L1631.7 399.8 L1633.7 399.4 L1635.7 398.9 L1637.6 398.4 L1639.6 397.9 L1641.6 397.4 L1643.6 396.8 L1645.6 396.2 L1647.6 395.6 L1649.6 395.0 L1651.6 394.3 L1653.6 393.7 L1655.6 393.0 L1657.6 392.3 L1659.0 392.5 L1658.5 394.4 L1658.1 396.4 L1657.6 398.4 L1657.2 400.4 L1656.7 402.3 L1656.3 404.3 L1655.8 406.3 L1655.3 408.3 L1654.7 410.2 L1654.2 412.2 L1653.6 414.1 L1653.1 416.1 L1652.5 418.0 L1651.9 419.9 L1651.2 421.8 L1650.6 423.7 L1650.0 425.7 L1649.3 427.6 L1648.6 429.4 L1647.9 431.3 L1647.2 433.2 L1646.5 435.1 L1645.7 436.9 L1645.0 438.8 L1644.2 440.6 L1643.4 442.5 L1642.6 444.3 L1641.8 446.1 L1640.9 448.0 L1640.1 449.8 L1639.2 451.6 L1638.4 453.4 L1637.5 455.2 L1636.6 457.0 L1635.7 458.7 L1634.7 460.5 L1633.8 462.3 L1632.8 464.0 L1631.9 465.8 L1630.9 467.5 L1629.9 469.2 L1628.9 470.9 L1627.9 472.7 L1626.8 474.4 L1625.8 476.1 L1624.7 477.8 L1623.7 479.4 L1622.6 481.1 L1621.5 482.8 L1620.4 484.5 L1619.3 486.1 L1618.1 487.8 L1617.0 489.4 L1615.9 491.0 L1614.7 492.6 L1613.5 494.2 L1612.3 495.9 L1611.1 497.4 L1609.9 499.0 L1608.7 500.6 L1607.5 502.2 L1606.2 503.8 L1605.0 505.3 L1603.7 506.9 L1602.4 508.4 L1601.2 509.9 L1599.9 511.4 L1598.6 513.0 L1597.2 514.5 L1595.9 516.0 L1594.6 517.4 L1593.2 518.9 L1591.9 520.4 L1590.5 521.9 L1589.2 523.3 L1587.8 524.8 L1586.4 526.2 L1585.0 527.6 L1583.6 529.0 L1582.2 530.4 L1580.7 531.8 L1579.3 533.2 L1577.9 534.6 L1576.4 536.0 L1575.0 537.4 L1573.5 538.7 L1572.0 540.1 L1570.5 541.4 L1569.1 542.7 L1567.6 544.0 L1566.0 545.3 L1564.5 546.6 L1563.0 547.9 L1561.5 549.2 L1560.0 550.5 L1558.4 551.8 L1556.9 553.0 L1555.3 554.3 L1553.7 555.5 L1552.2 556.7 L1550.6 557.9 L1549.0 559.2 L1547.4 560.4 L1545.8 561.6 L1544.2 562.7 L1542.6 563.9 L1541.0 565.1 L1539.4 566.3 L1537.8 567.4 L1536.1 568.6 L1534.5 569.7 L1532.8 570.8 L1531.2 572.0 L1529.5 573.1 L1527.9 574.2 L1526.2 575.3 L1524.5 576.4 L1522.9 577.5 L1521.2 578.5 L1519.5 579.6 L1517.8 580.7 L1516.1 581.7 L1514.4 582.8 L1512.7 583.8 L1511.0 584.9 L1509.2 585.9 L1507.5 586.9 L1505.8 587.9 L1504.1 588.9 L1502.3 590.0 L1500.6 591.0 L1498.8 591.9 L1497.1 592.9 L1495.3 593.9 L1493.6 594.9 L1491.8 595.9 L1490.0 596.8 L1488.3 597.8 L1486.5 598.7 L1484.7 599.7 L1483.0 600.6 L1481.2 601.5 L1479.4 602.5 L1477.6 603.4 L1475.8 604.3 L1474.0 605.2 L1472.2 606.1 L1470.4 607.0 L1468.6 607.9 L1466.8 608.8 L1465.0 609.7 L1463.2 610.6 L1461.3 611.5 L1459.5 612.4 L1457.7 613.2 L1455.9 614.1 L1454.1 614.9 L1452.2 615.8 L1450.4 616.7 L1448.6 617.5 L1446.7 618.4 L1444.9 619.2 L1443.1 620.0 L1441.2 620.9 L1439.4 621.7 L1437.5 622.5 L1435.7 623.3 L1433.8 624.2 L1432.0 625.0 L1430.2 625.8 L1428.3 626.6 L1426.5 627.4 L1424.6 628.2 L1422.8 629.0 L1420.9 629.8 L1419.0 630.6 L1417.2 631.4 L1415.3 632.2 L1413.5 633.0 L1411.6 633.7 L1409.8 634.5 L1407.9 635.3 L1406.1 636.1 L1404.2 636.8 L1402.3 637.6 L1400.5 638.4 L1398.6 639.1 L1396.8 639.9 L1394.9 640.7 L1393.1 641.4 L1391.2 642.2 L1389.3 642.9 L1387.5 643.7 L1385.6 644.5 L1383.8 645.2 L1381.9 646.0 L1380.1 646.7 L1378.2 647.4 L1376.3 648.2 L1374.5 648.9 L1372.6 649.7 L1370.8 650.4 L1368.9 651.1 L1367.1 651.9 L1365.2 652.6 L1363.3 653.4 L1361.5 654.1 L1359.6 654.8 L1357.8 655.5 L1355.9 656.3 L1354.0 657.0 L1352.2 657.7 L1350.3 658.4 L1348.5 659.2 L1346.6 659.9 L1344.8 660.6 L1342.9 661.3 L1341.0 662.1 L1339.2 662.8 L1337.3 663.5 L1335.5 664.2 L1333.6 664.9 L1331.7 665.6 L1329.9 666.3 L1328.0 667.1 L1326.2 667.8 L1324.3 668.5 L1322.4 669.2 L1320.6 669.9 L1318.7 670.6 L1316.9 671.3 L1315.0 672.0 L1313.1 672.8 L1311.3 673.5 L1309.4 674.2 L1307.6 674.9 L1305.7 675.6 L1303.8 676.3 L1302.0 677.0 L1300.1 677.7 L1298.3 678.4 L1296.4 679.1 L1294.5 679.8 L1292.7 680.6 L1290.8 681.3 L1289.0 682.0 L1287.1 682.7 L1285.2 683.4 L1283.4 684.1 L1281.5 684.8 L1279.6 685.5 L1277.8 686.2 L1275.9 686.9 L1274.1 687.7 L1272.2 688.4 L1270.3 689.1 L1268.5 689.8 L1266.6 690.5 L1264.7 691.2 L1262.9 691.9 L1261.0 692.7 L1259.2 693.4 L1257.3 694.1 L1255.4 694.8 L1253.6 695.5 L1251.7 696.3 L1249.8 697.0 L1248.0 697.7 L1246.1 698.4 L1244.3 699.2 L1242.4 699.9 L1240.5 700.6 L1238.7 701.3 L1236.8 702.1 L1234.9 702.8 L1233.1 703.5 L1231.2 704.3 L1229.3 705.0 L1227.5 705.7 L1225.6 706.5 L1223.8 707.2 L1221.9 708.0 L1220.0 708.7 L1218.2 709.5 L1216.3 710.2 L1214.4 711.0 L1212.6 711.7 L1210.7 712.5 L1208.8 713.2 L1207.0 714.0 L1205.1 714.7 L1203.2 715.5 L1201.4 716.3 L1199.5 717.0 L1197.6 717.8 L1195.8 718.6 L1193.9 719.3 L1192.0 720.1 L1190.2 720.9 L1188.3 721.7 L1186.5 722.4 L1184.6 723.2 L1182.7 724.0 L1180.9 724.8 L1179.0 725.6 L1177.1 726.4 L1175.3 727.2 L1173.4 728.0 L1171.6 728.8 L1169.7 729.6 L1167.8 730.4 L1166.0 731.2 L1164.1 732.0 L1162.3 732.8 L1160.4 733.7 L1158.6 734.5 L1156.7 735.3 L1154.9 736.2 L1153.0 737.0 L1151.2 737.8 L1149.4 738.7 L1147.5 739.5 L1145.7 740.4 L1143.9 741.3 L1142.0 742.1 L1140.2 743.0 L1138.4 743.8 L1136.5 744.7 L1134.7 745.6 L1132.9 746.5 L1131.1 747.4 L1129.3 748.3 L1127.5 749.2 L1125.7 750.1 L1123.8 751.0 L1122.0 751.9 L1120.3 752.8 L1118.5 753.7 L1116.7 754.7 L1114.9 755.6 L1113.1 756.5 L1111.3 757.5 L1109.5 758.4 L1107.8 759.4 L1106.0 760.3 L1104.2 761.3 L1102.5 762.3 L1100.7 763.2 L1099.0 764.2 L1097.2 765.2 L1095.5 766.2 L1093.7 767.2 L1092.0 768.2 L1090.3 769.2 L1088.5 770.2 L1086.8 771.3 L1085.1 772.3 L1083.4 773.3 L1081.7 774.4 L1080.0 775.4 L1078.3 776.5 L1076.6 777.5 L1074.9 778.6 L1073.2 779.7 L1071.6 780.8 L1069.9 781.9 L1068.2 783.0 L1066.6 784.1 L1064.9 785.2 L1063.3 786.3 L1061.7 787.4 L1060.0 788.5 L1058.4 789.7 L1056.8 790.8 L1055.2 792.0 L1053.6 793.2 L1052.0 794.3 L1050.4 795.5 L1048.8 796.7 L1047.2 797.9 L1045.6 799.1 L1044.1 800.3 L1042.5 801.5 L1041.0 802.7 L1039.4 804.0 L1037.9 805.2 L1036.3 806.5 L1034.8 807.7 L1033.3 809.0 L1031.8 810.3 L1030.3 811.6 L1028.8 812.8 L1027.3 814.2 L1025.8 815.5 L1024.4 816.8 L1022.9 818.1 L1021.5 819.4 L1020.0 820.8 L1018.6 822.1 L1017.1 823.5 L1015.7 824.9 L1014.3 826.2 L1012.9 827.6 L1011.5 829.0 L1010.1 830.4 L1008.7 831.8 L1007.3 833.2 L1005.9 834.6 L1004.5 836.1 L1003.1 837.5 L1001.8 838.9 L1000.4 840.4 L999.1 841.8 L997.7 843.3 L996.4 844.8 L995.0 846.2 L993.7 847.7 L992.4 849.2 L991.1 850.7 L989.7 852.2 L988.4 853.7 L987.1 855.2 L985.8 856.7 L984.5 858.2 L983.2 859.7 L981.9 861.2 L980.6 862.7 L979.4 864.3 L978.1 865.8 L976.8 867.4 L975.5 868.9 L974.3 870.5 L973.0 872.0 L971.7 873.6 L970.5 875.1 L969.2 876.7 L968.0 878.3 L966.7 879.8 L965.5 881.4 L964.2 883.0 L963.0 884.6 L961.8 886.2 L960.5 887.8 L959.3 889.3 L958.1 890.9 L956.8 892.5 L955.6 894.1 L954.4 895.7 L953.2 897.3 L951.9 898.9 L950.7 900.6 L949.5 902.2 L948.3 903.8 L947.1 905.4 L945.8 907.0 L944.6 908.6 L943.4 910.2 L942.2 911.9 L941.0 913.5 L939.8 915.1 L938.6 916.7 L937.4 918.4 L936.2 920.0 L934.9 921.6 L933.7 923.2 L932.5 924.9 L931.3 926.5 L930.1 928.1 L928.9 929.7 L927.7 931.4 L926.5 933.0 L925.3 934.6 L924.1 936.2 L922.8 937.9 L921.6 939.5 L920.4 941.1 L919.2 942.7 L918.0 944.4 L916.8 946.0 L915.5 947.6 L914.3 949.2 L913.1 950.8 L911.9 952.4 L910.6 954.1 L909.4 955.7 L908.2 957.3 L906.9 958.9 L905.7 960.5 L904.5 962.1 L903.2 963.7 L902.0 965.3 L900.7 966.9 L899.5 968.5 L898.2 970.1 L897.0 971.7 L895.7 973.2 L894.5 974.8 L893.2 976.4 L891.9 978.0 L890.7 979.5 L889.4 981.1 L888.1 982.7 L886.8 984.2 L885.5 985.8 L884.2 987.3 L882.9 988.8 L881.6 990.4 L880.3 991.9 L879.0 993.4 L877.7 994.9 L876.3 996.4 L875.0 997.9 L873.7 999.4 L872.3 1000.8 L871.0 1002.3 L869.6 1003.8 L868.2 1005.2 L866.9 1006.6 L865.5 1008.1 L864.1 1009.5 L862.7 1010.9 L861.3 1012.3 L859.9 1013.6 L858.4 1015.0 L857.0 1016.3 L855.6 1017.7 L854.1 1019.0 L852.7 1020.3 L851.2 1021.6 L849.7 1022.9 L848.2 1024.2 L846.8 1025.4 L845.2 1026.7 L843.7 1027.9 L842.2 1029.1 L840.7 1030.3 L839.1 1031.5 L837.6 1032.6 L836.0 1033.8 L834.4 1034.9 L832.8 1036.0 L831.2 1037.1 L829.6 1038.2 L828.0 1039.3 L826.4 1040.3 L824.7 1041.3 L823.1 1042.3 L821.4 1043.3 L819.7 1044.3 L818.1 1045.2 L816.4 1046.2 L814.7 1047.1 L812.9 1048.0 L811.2 1048.9 L809.5 1049.7 L807.7 1050.6 L806.0 1051.4 L804.2 1052.3 L802.5 1053.1 L800.7 1053.8 L798.9 1054.6 L797.1 1055.4 L795.3 1056.1 L793.5 1056.8 L791.7 1057.5 L789.8 1058.2 L788.0 1058.9 L786.2 1059.6 L784.3 1060.2 L782.5 1060.8 L780.6 1061.4 L778.7 1062.0 L776.9 1062.6 L775.0 1063.2 L773.1 1063.7 L771.2 1064.3 L769.3 1064.8 L767.4 1065.3 L765.5 1065.8 L763.5 1066.2 L761.6 1066.7 L759.7 1067.2 L757.8 1067.6 L755.8 1068.0 L753.9 1068.4 L751.9 1068.8 L750.0 1069.2 L748.0 1069.5 L746.1 1069.9 L744.1 1070.2 L742.1 1070.5 L740.1 1070.8 L738.2 1071.1 L736.2 1071.4 L734.2 1071.6 L732.2 1071.9 L730.2 1072.1 L728.2 1072.4 L726.2 1072.6 L724.2 1072.8 L722.2 1073.0 L720.2 1073.2 L718.2 1073.4 L716.2 1073.5 L714.2 1073.7 L712.1 1073.8 L710.1 1074.0 L708.1 1074.1 L706.1 1074.3 L704.0 1074.4 L702.0 1074.5 L700.0 1074.6 L697.9 1074.7 L695.9 1074.8 L693.9 1074.9 L691.8 1074.9 L689.8 1075.0 L687.8 1075.1 L685.7 1075.1 L683.7 1075.2 L681.6 1075.2 L679.6 1075.3 L677.5 1075.3 L675.5 1075.3 L673.5 1075.4 L671.4 1075.4 L669.4 1075.4 L667.3 1075.5 L665.3 1075.5 L663.2 1075.5 L661.2 1075.5 L659.1 1075.5 L657.1 1075.5 L655.1 1075.5 L653.0 1075.6 L651.0 1075.6 L648.9 1075.6 L646.9 1075.6 L644.9 1075.6 L642.8 1075.6 L640.8 1075.6 L638.8 1075.6 L636.7 1075.6 L634.7 1075.7 L632.7 1075.7 L630.6 1075.7 L628.6 1075.7 L626.6 1075.7 L624.6 1075.7 L622.6 1075.8 L620.5 1075.8 L618.5 1075.8 L616.5 1075.8 L614.5 1075.9 L612.5 1075.9 L610.5 1075.9 L608.4 1075.9 L606.4 1076.0 L604.4 1076.0 L602.4 1076.0 L600.4 1076.1 L598.4 1076.1 L596.4 1076.1 L594.4 1076.2 L592.4 1076.2 L590.4 1076.3 L588.4 1076.3 L586.4 1076.3 L584.4 1076.4 L582.4 1076.4 L580.4 1076.5 L578.4 1076.5 L576.4 1076.6 L574.4 1076.6 L572.4 1076.7 L570.4 1076.7 L568.4 1076.8 L566.4 1076.9 L564.4 1076.9 L562.4 1077.0 L560.4 1077.0 L558.4 1077.1 L556.4 1077.2 L554.4 1077.2 L552.5 1077.3 L550.5 1077.4 L548.5 1077.4 L546.5 1077.5 L544.5 1077.6 L542.5 1077.7 L540.5 1077.7 L538.5 1077.8 L536.5 1077.9 L534.5 1078.0 L532.5 1078.0 L530.5 1078.1 L528.6 1078.2 L526.6 1078.3 L524.6 1078.4 L522.6 1078.5 L520.6 1078.6 L518.6 1078.7 L516.6 1078.7 L514.6 1078.8 L512.6 1078.9 L510.6 1079.0 L508.6 1079.1 L506.6 1079.2 L504.7 1079.3 L502.7 1079.4 L500.7 1079.5 L498.7 1079.6 L496.7 1079.7 L494.7 1079.8 L492.7 1079.9 L490.7 1080.0 L488.7 1080.1 L486.7 1080.2 L484.7 1080.3 L482.7 1080.4 L480.7 1080.5 L478.7 1080.6 L476.7 1080.7 L474.7 1080.8 L472.8 1080.9 L470.8 1081.0 L468.8 1081.1 L466.8 1081.2 L464.8 1081.3 L462.8 1081.5 L460.8 1081.6 L458.8 1081.7 L456.8 1081.8 L454.8 1081.9 L452.8 1082.0 L450.8 1082.1 L448.8 1082.2 L446.8 1082.3 L444.8 1082.4 L442.8 1082.5 L440.8 1082.6 L438.8 1082.7 L436.8 1082.8 L434.8 1082.9 L432.8 1083.0 L430.8 1083.1 L428.8 1083.2 L426.8 1083.3 L424.8 1083.4 L422.8 1083.5 L420.8 1083.6 L418.8 1083.7 L416.7 1083.8 L414.7 1083.8 L412.7 1083.9 L410.7 1084.0 L408.7 1084.1 L406.7 1084.2 L404.7 1084.3 L402.7 1084.4 L400.7 1084.4 L398.7 1084.5 L396.7 1084.6 L394.7 1084.7 L392.6 1084.8 L390.6 1084.8 L388.6 1084.9 L386.6 1085.0 L384.6 1085.1 L382.6 1085.1 L380.6 1085.2 L378.5 1085.3 L376.5 1085.3 L374.5 1085.4 L372.5 1085.5 L370.5 1085.5 L368.4 1085.6 L366.4 1085.6 L364.4 1085.7 L362.4 1085.7 L360.4 1085.8 L358.3 1085.8 L356.3 1085.9 L354.3 1085.9 L352.5 1086.5" fill="none" stroke="#00f" stroke-width="8.5" stroke-linejoin="round" stroke-linecap="round"/>
<path d="M352.0 1058.5 L360.0 1057.0 L368.0 1054.0 L369.2 1054.0 L371.3 1053.9 L373.3 1053.9 L375.4 1053.9 L377.5 1053.8 L379.6 1053.8 L381.7 1053.8 L383.7 1053.7 L385.8 1053.7 L387.9 1053.7 L389.9 1053.7 L392.0 1053.6 L394.0 1053.6 L396.1 1053.6 L398.1 1053.6 L400.2 1053.5 L402.2 1053.5 L404.3 1053.5 L406.3 1053.5 L408.4 1053.4 L410.4 1053.4 L412.4 1053.4 L414.5 1053.4 L416.5 1053.4 L418.5 1053.4 L420.6 1053.3 L422.6 1053.3 L424.6 1053.3 L426.6 1053.3 L428.6 1053.3 L430.6 1053.3 L432.7 1053.3 L434.7 1053.3 L436.7 1053.3 L438.7 1053.2 L440.7 1053.2 L442.7 1053.2 L444.7 1053.2 L446.7 1053.2 L448.7 1053.2 L450.7 1053.2 L452.7 1053.2 L454.7 1053.2 L456.7 1053.2 L458.7 1053.2 L460.7 1053.2 L462.7 1053.2 L464.6 1053.2 L466.6 1053.2 L468.6 1053.2 L470.6 1053.2 L472.6 1053.1 L474.6 1053.1 L476.5 1053.1 L478.5 1053.1 L480.5 1053.1 L482.5 1053.1 L484.5 1053.1 L486.4 1053.1 L488.4 1053.1 L490.4 1053.1 L492.4 1053.1 L494.4 1053.1 L496.3 1053.1 L498.3 1053.1 L500.3 1053.1 L502.3 1053.1 L504.2 1053.1 L506.2 1053.1 L508.2 1053.1 L510.1 1053.1 L512.1 1053.1 L514.1 1053.1 L516.1 1053.1 L518.0 1053.1 L520.0 1053.1 L522.0 1053.1 L524.0 1053.1 L525.9 1053.1 L527.9 1053.1 L529.9 1053.1 L531.9 1053.0 L533.8 1053.0 L535.8 1053.0 L537.8 1053.0 L539.8 1053.0 L541.7 1053.0 L543.7 1053.0 L545.7 1053.0 L547.7 1053.0 L549.6 1053.0 L551.6 1053.0 L553.6 1052.9 L555.6 1052.9 L557.6 1052.9 L559.5 1052.9 L561.5 1052.9 L563.5 1052.9 L565.5 1052.9 L567.5 1052.8 L569.5 1052.8 L571.5 1052.8 L573.5 1052.8 L575.5 1052.8 L577.4 1052.7 L579.4 1052.7 L581.4 1052.7 L583.4 1052.7 L585.4 1052.6 L587.4 1052.6 L589.4 1052.6 L591.4 1052.6 L593.5 1052.5 L595.5 1052.5 L597.5 1052.5 L599.5 1052.4 L601.5 1052.4 L603.5 1052.4 L605.5 1052.3 L607.5 1052.3 L609.6 1052.3 L611.6 1052.2 L613.6 1052.2 L615.6 1052.1 L617.7 1052.1 L619.7 1052.1 L621.7 1052.0 L623.8 1052.0 L625.8 1051.9 L627.9 1051.9 L629.9 1051.8 L632.0 1051.8 L634.0 1051.7 L636.1 1051.6 L638.1 1051.6 L640.2 1051.5 L642.2 1051.5 L644.3 1051.4 L646.4 1051.3 L648.4 1051.3 L650.5 1051.2 L652.6 1051.1 L654.6 1051.1 L656.7 1051.0 L658.8 1050.9 L660.8 1050.8 L662.9 1050.7 L665.0 1050.6 L667.0 1050.5 L669.1 1050.3 L671.2 1050.2 L673.2 1050.1 L675.3 1049.9 L677.4 1049.8 L679.4 1049.6 L681.5 1049.4 L683.5 1049.3 L685.6 1049.1 L687.6 1048.9 L689.6 1048.6 L691.7 1048.4 L693.7 1048.2 L695.7 1047.9 L697.7 1047.6 L699.7 1047.4 L701.7 1047.1 L703.7 1046.7 L705.7 1046.4 L707.7 1046.1 L709.7 1045.7 L711.6 1045.3 L713.6 1044.9 L715.5 1044.5 L717.5 1044.1 L719.4 1043.6 L721.3 1043.2 L723.2 1042.7 L725.1 1042.2 L727.0 1041.7 L728.9 1041.1 L730.7 1040.5 L732.6 1040.0 L734.4 1039.3 L736.3 1038.7 L738.1 1038.1 L739.9 1037.4 L741.7 1036.7 L743.5 1036.0 L745.2 1035.2 L747.0 1034.4 L748.7 1033.6 L750.4 1032.8 L752.1 1031.9 L753.8 1031.1 L755.5 1030.2 L757.2 1029.2 L758.8 1028.3 L760.4 1027.3 L762.0 1026.2 L763.6 1025.2 L765.2 1024.1 L766.8 1023.0 L768.3 1021.9 L769.9 1020.8 L771.4 1019.6 L772.9 1018.4 L774.4 1017.2 L775.9 1016.0 L777.3 1014.7 L778.8 1013.4 L780.2 1012.1 L781.6 1010.8 L783.0 1009.5 L784.4 1008.1 L785.8 1006.7 L787.2 1005.3 L788.5 1003.9 L789.9 1002.5 L791.2 1001.0 L792.5 999.5 L793.8 998.0 L795.1 996.5 L796.4 995.0 L797.6 993.5 L798.9 991.9 L800.1 990.4 L801.4 988.8 L802.6 987.2 L803.8 985.6 L805.0 984.0 L806.2 982.3 L807.4 980.7 L808.5 979.0 L809.7 977.4 L810.8 975.7 L812.0 974.0 L813.1 972.3 L814.2 970.6 L815.3 968.9 L816.4 967.2 L817.5 965.5 L818.6 963.7 L819.6 962.0 L820.7 960.2 L821.7 958.5 L822.8 956.7 L823.8 955.0 L824.8 953.2 L825.8 951.4 L826.9 949.6 L827.9 947.9 L828.8 946.1 L829.8 944.3 L830.8 942.5 L831.8 940.7 L832.7 938.9 L833.7 937.2 L834.6 935.4 L835.6 933.6 L836.5 931.8 L837.4 930.0 L838.4 928.2 L839.3 926.4 L840.2 924.6 L841.1 922.7 L842.0 920.9 L842.9 919.1 L843.7 917.3 L844.6 915.5 L845.5 913.7 L846.3 911.9 L847.2 910.0 L848.0 908.2 L848.9 906.4 L849.7 904.6 L850.5 902.7 L851.4 900.9 L852.2 899.1 L853.0 897.2 L853.8 895.4 L854.6 893.6 L855.4 891.7 L856.2 889.9 L856.9 888.0 L857.7 886.2 L858.5 884.3 L859.3 882.5 L860.0 880.6 L860.8 878.8 L861.5 876.9 L862.3 875.1 L863.0 873.2 L863.7 871.4 L864.5 869.5 L865.2 867.7 L865.9 865.8 L866.6 863.9 L867.4 862.1 L868.1 860.2 L868.8 858.3 L869.5 856.5 L870.2 854.6 L870.8 852.7 L871.5 850.9 L872.2 849.0 L872.9 847.1 L873.6 845.2 L874.2 843.4 L874.9 841.5 L875.6 839.6 L876.2 837.7 L876.9 835.8 L877.5 833.9 L878.2 832.1 L878.8 830.2 L879.5 828.3 L880.1 826.4 L880.7 824.5 L881.4 822.6 L882.0 820.7 L882.6 818.8 L883.3 817.0 L883.9 815.1 L884.5 813.2 L885.1 811.3 L885.7 809.4 L886.3 807.5 L886.9 805.6 L887.5 803.7 L888.1 801.8 L888.7 799.9 L889.3 798.0 L889.9 796.1 L890.5 794.2 L891.1 792.3 L891.7 790.4 L892.3 788.5 L892.9 786.6 L893.5 784.7 L894.0 782.7 L894.6 780.8 L895.2 778.9 L895.8 777.0 L896.3 775.1 L896.9 773.2 L897.5 771.3 L898.1 769.4 L898.6 767.5 L899.2 765.6 L899.8 763.7 L900.3 761.7 L900.9 759.8 L901.5 757.9 L902.0 756.0 L902.6 754.1 L903.2 752.2 L903.7 750.3 L904.3 748.3 L904.9 746.4 L905.4 744.5 L906.0 742.6 L906.5 740.7 L907.1 738.8 L907.7 736.9 L908.2 734.9 L908.8 733.0 L909.3 731.1 L909.9 729.2 L910.5 727.3 L911.0 725.4 L911.6 723.4 L912.1 721.5 L912.7 719.6 L913.3 717.7 L913.8 715.8 L914.4 713.9 L915.0 712.0 L915.5 710.0 L916.1 708.1 L916.7 706.2 L917.2 704.3 L917.8 702.4 L918.4 700.5 L919.0 698.5 L919.5 696.6 L920.1 694.7 L920.7 692.8 L921.2 690.9 L921.8 689.0 L922.4 687.1 L923.0 685.1 L923.6 683.2 L924.1 681.3 L924.7 679.4 L925.3 677.5 L925.9 675.6 L926.5 673.7 L927.1 671.7 L927.6 669.8 L928.2 667.9 L928.8 666.0 L929.4 664.1 L930.0 662.2 L930.6 660.3 L931.2 658.4 L931.8 656.4 L932.3 654.5 L932.9 652.6 L933.5 650.7 L934.1 648.8 L934.7 646.9 L935.3 645.0 L935.9 643.1 L936.5 641.1 L937.1 639.2 L937.7 637.3 L938.3 635.4 L938.9 633.5 L939.5 631.6 L940.1 629.7 L940.7 627.8 L941.3 625.9 L941.9 623.9 L942.5 622.0 L943.1 620.1 L943.7 618.2 L944.3 616.3 L944.9 614.4 L945.5 612.5 L946.1 610.6 L946.7 608.7 L947.3 606.7 L947.9 604.8 L948.5 602.9 L949.1 601.0 L949.7 599.1 L950.3 597.2 L950.9 595.3 L951.5 593.4 L952.1 591.5 L952.7 589.6 L953.3 587.6 L953.9 585.7 L954.6 583.8 L955.2 581.9 L955.8 580.0 L956.4 578.1 L957.0 576.2 L957.6 574.3 L958.2 572.4 L958.8 570.5 L959.4 568.5 L960.0 566.6 L960.6 564.7 L961.2 562.8 L961.9 560.9 L962.5 559.0 L963.1 557.1 L963.7 555.2 L964.3 553.3 L964.9 551.4 L965.5 549.4 L966.1 547.5 L966.7 545.6 L967.3 543.7 L968.0 541.8 L968.6 539.9 L969.2 538.0 L969.8 536.1 L970.4 534.2 L971.0 532.3 L971.6 530.3 L972.2 528.4 L972.8 526.5 L973.4 524.6 L974.0 522.7 L974.7 520.8 L975.3 518.9 L975.9 517.0 L976.5 515.1 L977.1 513.2 L977.7 511.2 L978.3 509.3 L978.9 507.4 L979.5 505.5 L980.1 503.6 L980.7 501.7 L981.3 499.8 L982.0 497.9 L982.6 496.0 L983.2 494.1 L983.8 492.1 L984.4 490.2 L985.0 488.3 L985.6 486.4 L986.2 484.5 L986.8 482.6 L987.4 480.7 L988.0 478.8 L988.6 476.9 L989.2 474.9 L989.8 473.0 L990.4 471.1 L991.0 469.2 L991.6 467.3 L992.2 465.4 L992.8 463.5 L993.4 461.6 L994.0 459.7 L994.6 457.7 L995.2 455.8 L995.8 453.9 L996.4 452.0 L997.0 450.1 L997.6 448.2 L998.2 446.3 L998.8 444.4 L999.4 442.5 L1000.0 440.5 L1000.6 438.6 L1001.2 436.7 L1001.8 434.8 L1002.4 432.9 L1003.0 431.0 L1003.6 429.1 L1004.2 427.2 L1004.8 425.3 L1005.4 423.4 L1006.0 421.4 L1006.6 419.5 L1007.2 417.6 L1007.8 415.7 L1008.4 413.8 L1009.0 411.9 L1009.6 410.0 L1010.2 408.1 L1010.9 406.2 L1011.5 404.3 L1012.1 402.4 L1012.7 400.5 L1013.3 398.6 L1014.0 396.7 L1014.6 394.8 L1015.2 392.9 L1015.9 391.0 L1016.5 389.1 L1017.1 387.2 L1017.8 385.3 L1018.4 383.4 L1019.1 381.5 L1019.7 379.6 L1020.4 377.7 L1021.0 375.9 L1021.7 374.0 L1022.4 372.1 L1023.0 370.2 L1023.7 368.3 L1024.4 366.4 L1025.1 364.6 L1025.7 362.7 L1026.4 360.8 L1027.1 358.9 L1027.8 357.0 L1028.5 355.2 L1029.2 353.3 L1029.9 351.4 L1030.6 349.6 L1031.3 347.7 L1032.1 345.8 L1032.8 344.0 L1033.5 342.1 L1034.3 340.2 L1035.0 338.4 L1035.7 336.5 L1036.5 334.7 L1037.2 332.8 L1038.0 330.9 L1038.8 329.1 L1039.5 327.2 L1040.3 325.4 L1041.1 323.6 L1041.9 321.7 L1042.7 319.9 L1043.5 318.0 L1044.3 316.2 L1045.1 314.4 L1045.9 312.5 L1046.7 310.7 L1047.6 308.9 L1048.4 307.0 L1049.2 305.2 L1050.1 303.4 L1050.9 301.6 L1051.7 299.7 L1052.6 297.9 L1053.4 296.1 L1054.3 294.3 L1055.1 292.5 L1056.0 290.6 L1056.9 288.8 L1057.7 287.0 L1058.6 285.2 L1059.5 283.4 L1060.3 281.6 L1061.2 279.8 L1062.1 278.0 L1062.9 276.1 L1063.8 274.3 L1064.7 272.5 L1065.6 270.7 L1066.5 268.9 L1067.3 267.1 L1068.2 265.3 L1069.1 263.5 L1070.0 261.7 L1070.9 259.9 L1071.7 258.1 L1072.6 256.3 L1073.5 254.5 L1074.4 252.8 L1075.3 251.0 L1076.2 249.2 L1077.1 247.4 L1078.0 245.6 L1078.9 243.9 L1079.9 242.1 L1080.8 240.3 L1081.7 238.6 L1082.7 236.8 L1083.6 235.1 L1084.6 233.3 L1085.6 231.6 L1086.5 229.9 L1087.5 228.2 L1088.5 226.4 L1089.5 224.7 L1090.6 223.0 L1091.6 221.3 L1092.6 219.7 L1093.7 218.0 L1094.8 216.3 L1095.8 214.7 L1097.0 213.0 L1098.1 211.4 L1099.2 209.8 L1100.4 208.2 L1101.6 206.6 L1102.9 205.1 L1104.2 203.6 L1105.5 202.2 L1106.9 200.7 L1108.4 199.4 L1109.9 198.0 L1111.4 196.7 L1113.1 195.5 L1114.8 194.3 L1116.5 193.2 L1118.3 192.1 L1120.1 191.1 L1122.0 190.1 L1123.9 189.3 L1125.9 188.5 L1127.8 187.7 L1129.8 187.1 L1131.8 186.5 L1133.8 186.0 L1135.8 185.5 L1137.8 185.2 L1139.8 185.0 L1141.7 184.8 L1143.7 184.7 L1145.6 184.7 L1147.6 184.8 L1149.5 185.0 L1151.4 185.2 L1153.3 185.5 L1155.1 185.9 L1157.0 186.4 L1158.9 186.9 L1160.7 187.5 L1162.5 188.1 L1164.3 188.8 L1166.1 189.6 L1167.9 190.4 L1169.6 191.2 L1171.4 192.2 L1173.1 193.1 L1174.8 194.1 L1176.6 195.2 L1178.3 196.2 L1179.9 197.4 L1181.6 198.5 L1183.3 199.7 L1184.9 200.9 L1186.5 202.1 L1188.1 203.4 L1189.7 204.7 L1191.3 206.0 L1192.9 207.3 L1194.4 208.6 L1196.0 210.0 L1197.5 211.3 L1199.0 212.7 L1200.5 214.1 L1202.0 215.4 L1203.5 216.8 L1205.0 218.2 L1206.4 219.6 L1207.9 221.0 L1209.3 222.5 L1210.7 223.9 L1212.1 225.3 L1213.5 226.8 L1214.9 228.2 L1216.3 229.7 L1217.7 231.1 L1219.0 232.6 L1220.4 234.1 L1221.7 235.6 L1223.1 237.1 L1224.4 238.5 L1225.7 240.0 L1227.1 241.5 L1228.4 243.0 L1229.7 244.6 L1231.0 246.1 L1232.3 247.6 L1233.5 249.1 L1234.8 250.6 L1236.1 252.2 L1237.4 253.7 L1238.7 255.2 L1239.9 256.8 L1241.2 258.3 L1242.4 259.8 L1243.7 261.4 L1245.0 262.9 L1246.2 264.5 L1247.5 266.0 L1248.7 267.6 L1250.0 269.1 L1251.2 270.7 L1252.5 272.2 L1253.7 273.7 L1255.0 275.3 L1256.2 276.8 L1257.5 278.4 L1258.7 279.9 L1260.0 281.5 L1261.2 283.0 L1262.5 284.6 L1263.8 286.1 L1265.0 287.6 L1266.3 289.2 L1267.6 290.7 L1268.8 292.2 L1270.1 293.8 L1271.4 295.3 L1272.7 296.8 L1274.0 298.3 L1275.3 299.9 L1276.6 301.4 L1277.9 302.9 L1279.2 304.4 L1280.5 305.9 L1281.8 307.4 L1283.1 308.9 L1284.5 310.4 L1285.8 311.9 L1287.1 313.4 L1288.5 314.9 L1289.8 316.3 L1291.1 317.8 L1292.5 319.3 L1293.8 320.8 L1295.2 322.2 L1296.6 323.7 L1297.9 325.2 L1299.3 326.6 L1300.7 328.1 L1302.0 329.5 L1303.4 331.0 L1304.8 332.4 L1306.2 333.9 L1307.6 335.3 L1309.0 336.8 L1310.4 338.2 L1311.8 339.6 L1313.2 341.1 L1314.6 342.5 L1316.0 343.9 L1317.4 345.3 L1318.9 346.7 L1320.3 348.1 L1321.7 349.5 L1323.1 350.9 L1324.6 352.3 L1326.0 353.7 L1327.5 355.1 L1328.9 356.5 L1330.4 357.9 L1331.8 359.3 L1333.3 360.6 L1334.7 362.0 L1336.2 363.4 L1337.7 364.8 L1339.2 366.1 L1340.6 367.5 L1342.1 368.8 L1343.6 370.2 L1345.1 371.5 L1346.6 372.9 L1348.1 374.2 L1349.6 375.5 L1351.1 376.9 L1352.6 378.2 L1354.1 379.5 L1355.6 380.8 L1357.1 382.1 L1358.7 383.4 L1360.2 384.7 L1361.7 386.0 L1363.3 387.3 L1364.8 388.6 L1366.3 389.9 L1367.9 391.2 L1369.4 392.5 L1371.0 393.7 L1372.5 395.0 L1374.1 396.3 L1375.6 397.5 L1377.2 398.8 L1378.8 400.0 L1380.3 401.3 L1381.9 402.5 L1383.5 403.8 L1385.1 405.0 L1386.7 406.2 L1388.2 407.5 L1389.8 408.7 L1391.4 409.9 L1393.0 411.1 L1394.6 412.3 L1396.2 413.5 L1397.8 414.7 L1399.5 415.9 L1401.1 417.1 L1402.7 418.3 L1404.3 419.5 L1405.9 420.6 L1407.6 421.8 L1409.2 423.0 L1410.8 424.1 L1412.5 425.3 L1414.1 426.4 L1415.8 427.6 L1417.4 428.7 L1419.1 429.8 L1420.7 431.0 L1422.4 432.1 L1424.0 433.2 L1425.7 434.3 L1427.4 435.4 L1429.0 436.5 L1430.7 437.6 L1432.4 438.7 L1434.1 439.8 L1435.8 440.9 L1437.4 442.0 L1439.1 443.0 L1440.8 444.1 L1442.5 445.2 L1444.2 446.2 L1445.9 447.3 L1447.6 448.3 L1449.3 449.4 L1451.0 450.4 L1452.8 451.4 L1454.5 452.5 L1456.2 453.5 L1457.9 454.5 L1459.6 455.5 L1461.4 456.5 L1463.1 457.5 L1464.8 458.5 L1466.6 459.5 L1468.3 460.5 L1470.1 461.4 L1471.8 462.4 L1473.6 463.4 L1475.3 464.3 L1477.1 465.3 L1478.8 466.2 L1480.6 467.2 L1482.4 468.1 L1484.1 469.0 L1485.9 469.9 L1487.7 470.9 L1489.5 471.8 L1491.2 472.7 L1493.0 473.6 L1494.8 474.5 L1496.6 475.4 L1498.4 476.2 L1500.2 477.1 L1502.0 478.0 L1503.8 478.9 L1505.6 479.7 L1507.4 480.6 L1509.2 481.4 L1511.0 482.3 L1512.8 483.1 L1514.6 483.9 L1516.5 484.7 L1518.3 485.6 L1520.1 486.4 L1521.9 487.2 L1523.8 488.0 L1525.6 488.7 L1527.4 489.5 L1529.3 490.3 L1531.1 491.1 L1533.0 491.8 L1534.8 492.6 L1536.7 493.4 L1538.5 494.1 L1540.4 494.8 L1542.2 495.6 L1544.1 496.3 L1545.9 497.0 L1547.8 497.7 L1549.7 498.4 L1551.5 499.1 L1553.4 499.8 L1555.3 500.5 L1557.2 501.2 L1559.1 501.9 L1560.9 502.5 L1562.8 503.2 L1564.7 503.9 L1566.6 504.5 L1568.5 505.1 L1570.4 505.8 L1572.3 506.4 L1574.2 507.0 L1576.1 507.6 L1578.0 508.2 L1579.9 508.8 L1581.8 509.4 L1583.7 510.0 L1585.7 510.6 L1587.6 511.2 L1589.5 511.7 L1591.4 512.3 L1593.3 512.8 L1595.3 513.4 L1597.2 513.9 L1599.1 514.4 L1601.1 515.0 L1603.0 515.5 L1604.9 516.0 L1606.9 516.5 L1608.8 517.0 L1610.8 517.5 L1612.7 517.9 L1614.7 518.4 L1616.6 518.9 L1618.6 519.3 L1620.5 519.8 L1622.5 520.2 L1624.5 520.6 L1626.4 521.1 L1628.4 521.5 L1630.4 521.9 L1632.3 522.3 L1634.3 522.7 L1636.3 523.1 L1638.3 523.5 L1640.3 523.9 L1642.2 524.2 L1644.2 524.6 L1646.2 524.9 L1648.2 525.3 L1650.2 525.6 L1652.2 525.9 L1654.2 526.3 L1656.2 526.6 L1658.2 526.9 L1660.0 527.0 L1659.0 528.8 L1657.6 530.3 L1656.2 531.7 L1654.8 533.2 L1653.3 534.6 L1651.9 536.0 L1650.4 537.3 L1648.9 538.7 L1647.5 540.1 L1646.0 541.4 L1644.5 542.7 L1643.0 544.0 L1641.4 545.3 L1639.9 546.5 L1638.4 547.8 L1636.8 549.0 L1635.3 550.3 L1633.7 551.5 L1632.1 552.7 L1630.5 553.8 L1628.9 555.0 L1627.3 556.2 L1625.7 557.3 L1624.1 558.4 L1622.5 559.6 L1620.8 560.7 L1619.2 561.7 L1617.5 562.8 L1615.8 563.9 L1614.2 564.9 L1612.5 566.0 L1610.8 567.0 L1609.1 568.0 L1607.4 569.1 L1605.7 570.1 L1604.0 571.0 L1602.3 572.0 L1600.5 573.0 L1598.8 573.9 L1597.1 574.9 L1595.3 575.8 L1593.6 576.8 L1591.8 577.7 L1590.0 578.6 L1588.3 579.5 L1586.5 580.4 L1584.7 581.3 L1582.9 582.2 L1581.1 583.0 L1579.3 583.9 L1577.5 584.8 L1575.7 585.6 L1573.9 586.4 L1572.1 587.3 L1570.3 588.1 L1568.5 588.9 L1566.6 589.8 L1564.8 590.6 L1563.0 591.4 L1561.1 592.2 L1559.3 593.0 L1557.5 593.8 L1555.6 594.5 L1553.8 595.3 L1551.9 596.1 L1550.1 596.9 L1548.2 597.6 L1546.3 598.4 L1544.5 599.2 L1542.6 599.9 L1540.7 600.7 L1538.9 601.4 L1537.0 602.2 L1535.1 602.9 L1533.3 603.6 L1531.4 604.4 L1529.5 605.1 L1527.6 605.9 L1525.8 606.6 L1523.9 607.3 L1522.0 608.1 L1520.1 608.8 L1518.3 609.5 L1516.4 610.3 L1514.5 611.0 L1512.6 611.7 L1510.7 612.4 L1508.9 613.2 L1507.0 613.9 L1505.1 614.6 L1503.2 615.4 L1501.4 616.1 L1499.5 616.8 L1497.6 617.6 L1495.8 618.3 L1493.9 619.0 L1492.0 619.8 L1490.1 620.5 L1488.3 621.2 L1486.4 622.0 L1484.5 622.7 L1482.7 623.4 L1480.8 624.2 L1478.9 624.9 L1477.1 625.6 L1475.2 626.4 L1473.3 627.1 L1471.5 627.8 L1469.6 628.6 L1467.7 629.3 L1465.9 630.1 L1464.0 630.8 L1462.1 631.5 L1460.3 632.3 L1458.4 633.0 L1456.5 633.7 L1454.7 634.5 L1452.8 635.2 L1450.9 635.9 L1449.1 636.7 L1447.2 637.4 L1445.3 638.1 L1443.5 638.9 L1441.6 639.6 L1439.7 640.3 L1437.9 641.1 L1436.0 641.8 L1434.2 642.5 L1432.3 643.3 L1430.4 644.0 L1428.6 644.7 L1426.7 645.5 L1424.8 646.2 L1423.0 646.9 L1421.1 647.7 L1419.2 648.4 L1417.4 649.1 L1415.5 649.8 L1413.6 650.6 L1411.8 651.3 L1409.9 652.0 L1408.1 652.8 L1406.2 653.5 L1404.3 654.2 L1402.5 654.9 L1400.6 655.7 L1398.7 656.4 L1396.9 657.1 L1395.0 657.8 L1393.1 658.6 L1391.3 659.3 L1389.4 660.0 L1387.5 660.7 L1385.7 661.4 L1383.8 662.2 L1381.9 662.9 L1380.0 663.6 L1378.2 664.3 L1376.3 665.0 L1374.4 665.7 L1372.6 666.5 L1370.7 667.2 L1368.8 667.9 L1366.9 668.6 L1365.1 669.3 L1363.2 670.0 L1361.3 670.7 L1359.5 671.4 L1357.6 672.1 L1355.7 672.8 L1353.8 673.6 L1351.9 674.3 L1350.1 675.0 L1348.2 675.7 L1346.3 676.4 L1344.4 677.1 L1342.6 677.8 L1340.7 678.5 L1338.8 679.2 L1336.9 679.8 L1335.0 680.5 L1333.1 681.2 L1331.3 681.9 L1329.4 682.6 L1327.5 683.3 L1325.6 684.0 L1323.7 684.7 L1321.8 685.4 L1319.9 686.1 L1318.1 686.8 L1316.2 687.5 L1314.3 688.1 L1312.4 688.8 L1310.5 689.5 L1308.6 690.2 L1306.7 690.9 L1304.9 691.6 L1303.0 692.3 L1301.1 693.0 L1299.2 693.7 L1297.3 694.4 L1295.4 695.1 L1293.5 695.7 L1291.6 696.4 L1289.8 697.1 L1287.9 697.8 L1286.0 698.5 L1284.1 699.2 L1282.2 699.9 L1280.3 700.6 L1278.4 701.3 L1276.6 702.0 L1274.7 702.7 L1272.8 703.4 L1270.9 704.1 L1269.0 704.8 L1267.2 705.5 L1265.3 706.2 L1263.4 706.9 L1261.5 707.6 L1259.6 708.3 L1257.8 709.1 L1255.9 709.8 L1254.0 710.5 L1252.1 711.2 L1250.3 711.9 L1248.4 712.6 L1246.5 713.4 L1244.6 714.1 L1242.8 714.8 L1240.9 715.6 L1239.0 716.3 L1237.2 717.0 L1235.3 717.8 L1233.4 718.5 L1231.6 719.2 L1229.7 720.0 L1227.8 720.7 L1226.0 721.5 L1224.1 722.2 L1222.2 723.0 L1220.4 723.7 L1218.5 724.5 L1216.7 725.3 L1214.8 726.0 L1213.0 726.8 L1211.1 727.6 L1209.3 728.4 L1207.4 729.1 L1205.6 729.9 L1203.7 730.7 L1201.9 731.5 L1200.1 732.3 L1198.2 733.1 L1196.4 733.9 L1194.5 734.7 L1192.7 735.5 L1190.9 736.3 L1189.0 737.1 L1187.2 737.9 L1185.4 738.8 L1183.6 739.6 L1181.7 740.4 L1179.9 741.2 L1178.1 742.1 L1176.3 742.9 L1174.5 743.8 L1172.7 744.6 L1170.8 745.5 L1169.0 746.3 L1167.2 747.2 L1165.4 748.1 L1163.6 749.0 L1161.8 749.8 L1160.0 750.7 L1158.2 751.6 L1156.4 752.5 L1154.7 753.4 L1152.9 754.3 L1151.1 755.2 L1149.3 756.1 L1147.5 757.0 L1145.7 758.0 L1144.0 758.9 L1142.2 759.8 L1140.4 760.8 L1138.7 761.7 L1136.9 762.6 L1135.1 763.6 L1133.4 764.6 L1131.6 765.5 L1129.9 766.5 L1128.1 767.4 L1126.4 768.4 L1124.6 769.4 L1122.9 770.4 L1121.2 771.4 L1119.4 772.4 L1117.7 773.4 L1116.0 774.4 L1114.2 775.4 L1112.5 776.4 L1110.8 777.4 L1109.1 778.4 L1107.4 779.5 L1105.6 780.5 L1103.9 781.5 L1102.2 782.6 L1100.5 783.6 L1098.8 784.7 L1097.1 785.8 L1095.5 786.8 L1093.8 787.9 L1092.1 789.0 L1090.4 790.0 L1088.7 791.1 L1087.0 792.2 L1085.4 793.3 L1083.7 794.4 L1082.0 795.5 L1080.4 796.6 L1078.7 797.7 L1077.1 798.9 L1075.4 800.0 L1073.8 801.1 L1072.1 802.3 L1070.5 803.4 L1068.9 804.6 L1067.3 805.7 L1065.6 806.9 L1064.0 808.0 L1062.4 809.2 L1060.8 810.4 L1059.2 811.6 L1057.6 812.7 L1056.0 813.9 L1054.4 815.1 L1052.8 816.3 L1051.2 817.5 L1049.6 818.7 L1048.0 820.0 L1046.4 821.2 L1044.9 822.4 L1043.3 823.6 L1041.7 824.9 L1040.2 826.1 L1038.6 827.4 L1037.1 828.6 L1035.5 829.9 L1034.0 831.2 L1032.4 832.4 L1030.9 833.7 L1029.4 835.0 L1027.9 836.3 L1026.3 837.6 L1024.8 838.9 L1023.3 840.2 L1021.8 841.5 L1020.3 842.8 L1018.8 844.1 L1017.3 845.5 L1015.8 846.8 L1014.4 848.2 L1012.9 849.5 L1011.4 850.8 L1009.9 852.2 L1008.5 853.6 L1007.0 854.9 L1005.6 856.3 L1004.1 857.7 L1002.7 859.1 L1001.2 860.5 L999.8 861.9 L998.4 863.3 L996.9 864.7 L995.5 866.1 L994.1 867.5 L992.7 868.9 L991.2 870.3 L989.8 871.7 L988.4 873.2 L987.0 874.6 L985.6 876.0 L984.2 877.5 L982.8 878.9 L981.4 880.4 L980.0 881.8 L978.6 883.3 L977.3 884.7 L975.9 886.2 L974.5 887.6 L973.1 889.1 L971.7 890.6 L970.4 892.0 L969.0 893.5 L967.6 895.0 L966.2 896.4 L964.9 897.9 L963.5 899.4 L962.1 900.9 L960.8 902.4 L959.4 903.9 L958.0 905.3 L956.7 906.8 L955.3 908.3 L953.9 909.8 L952.6 911.3 L951.2 912.8 L949.8 914.3 L948.5 915.8 L947.1 917.3 L945.8 918.8 L944.4 920.3 L943.0 921.8 L941.7 923.3 L940.3 924.8 L939.0 926.3 L937.6 927.8 L936.2 929.3 L934.9 930.7 L933.5 932.2 L932.1 933.7 L930.8 935.2 L929.4 936.7 L928.0 938.2 L926.6 939.7 L925.3 941.2 L923.9 942.6 L922.5 944.1 L921.1 945.6 L919.7 947.1 L918.3 948.5 L916.9 950.0 L915.5 951.5 L914.2 952.9 L912.7 954.4 L911.3 955.8 L909.9 957.2 L908.5 958.7 L907.1 960.1 L905.7 961.5 L904.3 963.0 L902.8 964.4 L901.4 965.8 L900.0 967.2 L898.5 968.6 L897.1 970.0 L895.6 971.4 L894.2 972.7 L892.7 974.1 L891.2 975.5 L889.8 976.8 L888.3 978.2 L886.8 979.5 L885.3 980.8 L883.8 982.1 L882.3 983.5 L880.8 984.8 L879.3 986.1 L877.8 987.3 L876.3 988.6 L874.7 989.9 L873.2 991.1 L871.6 992.4 L870.1 993.6 L868.5 994.8 L867.0 996.1 L865.4 997.3 L863.8 998.5 L862.2 999.6 L860.6 1000.8 L859.0 1002.0 L857.4 1003.1 L855.8 1004.3 L854.2 1005.4 L852.6 1006.5 L850.9 1007.6 L849.3 1008.7 L847.6 1009.8 L846.0 1010.9 L844.3 1011.9 L842.7 1013.0 L841.0 1014.0 L839.3 1015.0 L837.6 1016.0 L835.9 1017.0 L834.2 1018.0 L832.5 1019.0 L830.8 1020.0 L829.1 1020.9 L827.4 1021.8 L825.6 1022.7 L823.9 1023.6 L822.2 1024.5 L820.4 1025.4 L818.6 1026.3 L816.9 1027.1 L815.1 1028.0 L813.3 1028.8 L811.5 1029.6 L809.7 1030.4 L807.9 1031.1 L806.1 1031.9 L804.3 1032.7 L802.5 1033.4 L800.7 1034.1 L798.8 1034.8 L797.0 1035.5 L795.1 1036.2 L793.3 1036.8 L791.4 1037.5 L789.6 1038.1 L787.7 1038.7 L785.8 1039.3 L783.9 1039.9 L782.1 1040.5 L780.2 1041.1 L778.3 1041.6 L776.4 1042.2 L774.5 1042.7 L772.5 1043.2 L770.6 1043.7 L768.7 1044.2 L766.8 1044.7 L764.9 1045.2 L762.9 1045.6 L761.0 1046.1 L759.0 1046.5 L757.1 1046.9 L755.1 1047.4 L753.2 1047.8 L751.2 1048.1 L749.3 1048.5 L747.3 1048.9 L745.3 1049.3 L743.4 1049.6 L741.4 1049.9 L739.4 1050.3 L737.4 1050.6 L735.5 1050.9 L733.5 1051.2 L731.5 1051.5 L729.5 1051.8 L727.5 1052.0 L725.5 1052.3 L723.5 1052.6 L721.5 1052.8 L719.5 1053.0 L717.5 1053.3 L715.5 1053.5 L713.5 1053.7 L711.5 1053.9 L709.5 1054.1 L707.5 1054.3 L705.5 1054.4 L703.5 1054.6 L701.5 1054.8 L699.5 1054.9 L697.4 1055.1 L695.4 1055.2 L693.4 1055.4 L691.4 1055.5 L689.4 1055.6 L687.3 1055.7 L685.3 1055.9 L683.3 1056.0 L681.3 1056.1 L679.3 1056.2 L677.2 1056.3 L675.2 1056.3 L673.2 1056.4 L671.2 1056.5 L669.1 1056.6 L667.1 1056.6 L665.1 1056.7 L663.0 1056.8 L661.0 1056.8 L659.0 1056.9 L657.0 1056.9 L654.9 1057.0 L652.9 1057.0 L650.9 1057.1 L648.9 1057.1 L646.8 1057.1 L644.8 1057.2 L642.8 1057.2 L640.7 1057.2 L638.7 1057.2 L636.7 1057.3 L634.7 1057.3 L632.6 1057.3 L630.6 1057.3 L628.6 1057.4 L626.6 1057.4 L624.6 1057.4 L622.5 1057.4 L620.5 1057.4 L618.5 1057.4 L616.5 1057.5 L614.5 1057.5 L612.4 1057.5 L610.4 1057.5 L608.4 1057.5 L606.4 1057.5 L604.4 1057.5 L602.4 1057.5 L600.4 1057.5 L598.3 1057.6 L596.3 1057.6 L594.3 1057.6 L592.3 1057.6 L590.3 1057.6 L588.3 1057.6 L586.3 1057.6 L584.3 1057.6 L582.3 1057.6 L580.3 1057.6 L578.3 1057.6 L576.3 1057.6 L574.2 1057.6 L572.2 1057.7 L570.2 1057.7 L568.2 1057.7 L566.2 1057.7 L564.2 1057.7 L562.2 1057.7 L560.2 1057.7 L558.2 1057.7 L556.2 1057.7 L554.2 1057.7 L552.2 1057.7 L550.2 1057.7 L548.2 1057.7 L546.2 1057.8 L544.2 1057.8 L542.2 1057.8 L540.2 1057.8 L538.2 1057.8 L536.2 1057.8 L534.2 1057.8 L532.2 1057.8 L530.2 1057.8 L528.2 1057.9 L526.2 1057.9 L524.2 1057.9 L522.2 1057.9 L520.2 1057.9 L518.3 1057.9 L516.3 1057.9 L514.3 1058.0 L512.3 1058.0 L510.3 1058.0 L508.3 1058.0 L506.3 1058.0 L504.3 1058.0 L502.3 1058.1 L500.3 1058.1 L498.3 1058.1 L496.3 1058.1 L494.3 1058.1 L492.3 1058.1 L490.3 1058.2 L488.3 1058.2 L486.3 1058.2 L484.3 1058.2 L482.3 1058.2 L480.3 1058.3 L478.3 1058.3 L476.3 1058.3 L474.3 1058.3 L472.3 1058.3 L470.4 1058.3 L468.4 1058.4 L466.4 1058.4 L464.4 1058.4 L462.4 1058.4 L460.4 1058.4 L458.4 1058.4 L456.4 1058.5 L454.4 1058.5 L452.4 1058.5 L450.4 1058.5 L448.4 1058.5 L446.4 1058.5 L444.4 1058.5 L442.4 1058.6 L440.4 1058.6 L438.4 1058.6 L436.4 1058.6 L434.4 1058.6 L432.4 1058.6 L430.4 1058.6 L428.4 1058.6 L426.4 1058.6 L424.4 1058.7 L422.4 1058.7 L420.3 1058.7 L418.3 1058.7 L416.3 1058.7 L414.3 1058.7 L412.3 1058.7 L410.3 1058.7 L408.3 1058.7 L406.3 1058.7 L404.3 1058.7 L402.3 1058.7 L400.3 1058.7 L398.3 1058.7 L396.2 1058.7 L394.2 1058.7 L392.2 1058.7 L390.2 1058.7 L388.2 1058.7 L386.2 1058.7 L384.2 1058.7 L382.1 1058.7 L380.1 1058.6 L378.1 1058.6 L376.1 1058.6 L374.1 1058.6 L372.0 1058.6 L370.0 1058.6 L368.0 1058.6 L366.0 1058.5 L364.0 1058.5 L361.9 1058.5 L359.9 1058.5 L357.9 1058.5 L355.9 1058.4 L353.8 1058.4 L352.0 1058.5" fill="none" stroke="#808080" stroke-width="8.5" stroke-linejoin="round" stroke-linecap="round"/>
<g stroke="#000" stroke-width="3.6" fill="none" stroke-linecap="square">
<rect x="235.5" y="46.0" width="1433.5" height="1057.3"/>
<line x1="223.5" y1="1103.3" x2="235.5" y2="1103.3"/>
<line x1="214.0" y1="1053.0" x2="235.5" y2="1053.0"/>
<line x1="223.5" y1="1002.6" x2="235.5" y2="1002.6"/>
<line x1="214.0" y1="952.3" x2="235.5" y2="952.3"/>
<line x1="223.5" y1="901.9" x2="235.5" y2="901.9"/>
<line x1="214.0" y1="851.6" x2="235.5" y2="851.6"/>
<line x1="223.5" y1="801.2" x2="235.5" y2="801.2"/>
<line x1="214.0" y1="750.9" x2="235.5" y2="750.9"/>
<line x1="223.5" y1="700.5" x2="235.5" y2="700.5"/>
<line x1="214.0" y1="650.2" x2="235.5" y2="650.2"/>
<line x1="223.5" y1="599.8" x2="235.5" y2="599.8"/>
<line x1="214.0" y1="549.5" x2="235.5" y2="549.5"/>
<line x1="223.5" y1="499.1" x2="235.5" y2="499.1"/>
<line x1="214.0" y1="448.8" x2="235.5" y2="448.8"/>
<line x1="223.5" y1="398.4" x2="235.5" y2="398.4"/>
<line x1="214.0" y1="348.1" x2="235.5" y2="348.1"/>
<line x1="223.5" y1="297.7" x2="235.5" y2="297.7"/>
<line x1="214.0" y1="247.4" x2="235.5" y2="247.4"/>
<line x1="223.5" y1="197.0" x2="235.5" y2="197.0"/>
<line x1="214.0" y1="146.7" x2="235.5" y2="146.7"/>
<line x1="223.5" y1="96.3" x2="235.5" y2="96.3"/>
<line x1="214.0" y1="46.0" x2="235.5" y2="46.0"/>
<line x1="235.5" y1="1103.3" x2="235.5" y2="1124.8"/>
<line x1="354.0" y1="1103.3" x2="354.0" y2="1114.3"/>
<line x1="472.4" y1="1103.3" x2="472.4" y2="1124.8"/>
<line x1="590.9" y1="1103.3" x2="590.9" y2="1114.3"/>
<line x1="709.3" y1="1103.3" x2="709.3" y2="1124.8"/>
<line x1="827.8" y1="1103.3" x2="827.8" y2="1114.3"/>
<line x1="946.3" y1="1103.3" x2="946.3" y2="1124.8"/>
<line x1="1064.7" y1="1103.3" x2="1064.7" y2="1114.3"/>
<line x1="1183.2" y1="1103.3" x2="1183.2" y2="1124.8"/>
<line x1="1301.6" y1="1103.3" x2="1301.6" y2="1114.3"/>
<line x1="1420.1" y1="1103.3" x2="1420.1" y2="1124.8"/>
<line x1="1538.6" y1="1103.3" x2="1538.6" y2="1114.3"/>
<line x1="1657.0" y1="1103.3" x2="1657.0" y2="1124.8"/>
</g>
<text x="197" y="1067.2" font-size="52.5" text-anchor="end">0</text>
<text x="197" y="966.6" font-size="52.5" text-anchor="end">30</text>
<text x="197" y="865.9" font-size="52.5" text-anchor="end">60</text>
<text x="197" y="765.2" font-size="52.5" text-anchor="end">90</text>
<text x="197" y="664.5" font-size="52.5" text-anchor="end">120</text>
<text x="197" y="563.8" font-size="52.5" text-anchor="end">150</text>
<text x="197" y="463.1" font-size="52.5" text-anchor="end">180</text>
<text x="197" y="362.4" font-size="52.5" text-anchor="end">210</text>
<text x="197" y="261.7" font-size="52.5" text-anchor="end">240</text>
<text x="197" y="161.0" font-size="52.5" text-anchor="end">270</text>
<text x="197" y="60.3" font-size="52.5" text-anchor="end">300</text>
<text x="234.0" y="1182.5" font-size="57" text-anchor="middle">0.0</text>
<text x="470.9" y="1182.5" font-size="57" text-anchor="middle">0.2</text>
<text x="707.8" y="1182.5" font-size="57" text-anchor="middle">0.4</text>
<text x="944.8" y="1182.5" font-size="57" text-anchor="middle">0.6</text>
<text x="1181.7" y="1182.5" font-size="57" text-anchor="middle">0.8</text>
<text x="1418.6" y="1182.5" font-size="57" text-anchor="middle">1.0</text>
<text x="1655.5" y="1182.5" font-size="57" text-anchor="middle">1.2</text>
<text transform="translate(951.9 1275.3) scale(1.058 1)" x="0" y="0" font-size="50" text-anchor="middle">Potential applied (V)</text>
<g transform="translate(71.4 0) rotate(-90)">
<text x="-756.0" y="0" font-size="52">Current</text>
<text x="-566.5" y="0" font-size="58" font-weight="bold">(</text>
<text x="-545.8" y="0" font-size="48" font-family="Liberation Serif, serif">μA</text>
<text x="-485.0" y="0" font-size="58" font-weight="bold">)</text>
</g>
<line x1="284" y1="99.4" x2="399" y2="99.4" stroke="#000" stroke-width="8" stroke-linecap="round"/>
<text x="414" y="117.4" font-size="52.5">C-SPE</text>
<line x1="284" y1="163.5" x2="399" y2="163.5" stroke="#f00" stroke-width="8" stroke-linecap="round"/>
<text x="414" y="181.5" font-size="52.5">Sample A</text>
<line x1="284" y1="227.6" x2="399" y2="227.6" stroke="#0f0" stroke-width="8" stroke-linecap="round"/>
<text x="414" y="245.6" font-size="52.5">Sample B</text>
<line x1="284" y1="291.7" x2="399" y2="291.7" stroke="#00f" stroke-width="8" stroke-linecap="round"/>
<text x="414" y="309.7" font-size="52.5">Sample C</text>
<line x1="284" y1="355.8" x2="399" y2="355.8" stroke="#808080" stroke-width="8" stroke-linecap="round"/>
<text x="414" y="373.8" font-size="52.5">Sample D</text>
</svg></body></html>
